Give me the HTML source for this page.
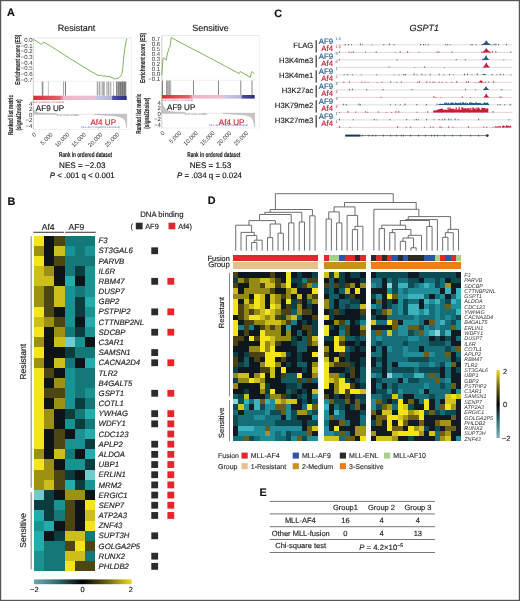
<!DOCTYPE html>
<html><head><meta charset="utf-8"><style>
html,body{margin:0;padding:0;background:#fff;}
svg{display:block;will-change:transform;filter:blur(0.3px);}
text{font-family:"Liberation Sans", sans-serif;text-rendering:geometricPrecision;}
</style></head><body>
<svg width="520" height="601" viewBox="0 0 520 601">
<rect x="0" y="0" width="520" height="601" fill="#fff"/>
<text x="76.50" y="30.60" font-size="9.0" text-anchor="middle" fill="#1a1a1a" stroke="#1a1a1a" stroke-width="0.15">Resistant</text>
<line x1="33.30" y1="38.00" x2="126.70" y2="38.00" stroke="#d8d8d8" stroke-width="0.6"/>
<line x1="33.30" y1="38.00" x2="33.30" y2="129.50" stroke="#b8b8b8" stroke-width="0.7"/>
<line x1="33.30" y1="81.30" x2="126.70" y2="81.30" stroke="#e0e0e0" stroke-width="0.5"/>
<line x1="33.30" y1="129.50" x2="126.70" y2="129.50" stroke="#e0e0e0" stroke-width="0.5"/>
<line x1="131.30" y1="38.00" x2="131.30" y2="129.50" stroke="#e2e2e2" stroke-width="0.6"/>
<line x1="126.70" y1="38.00" x2="131.30" y2="38.00" stroke="#d8d8d8" stroke-width="0.6"/>
<line x1="126.70" y1="129.50" x2="131.30" y2="129.50" stroke="#e0e0e0" stroke-width="0.5"/>
<text x="32.60" y="41.80" font-size="5.99" text-anchor="end" fill="#333">0.0</text>
<text x="32.60" y="47.50" font-size="5.99" text-anchor="end" fill="#333">&#8722;0.1</text>
<text x="32.60" y="53.20" font-size="5.99" text-anchor="end" fill="#333">&#8722;0.2</text>
<text x="32.60" y="58.90" font-size="5.99" text-anchor="end" fill="#333">&#8722;0.3</text>
<text x="32.60" y="64.60" font-size="5.99" text-anchor="end" fill="#333">&#8722;0.4</text>
<text x="32.60" y="70.30" font-size="5.99" text-anchor="end" fill="#333">&#8722;0.5</text>
<text x="32.60" y="76.00" font-size="5.99" text-anchor="end" fill="#333">&#8722;0.6</text>
<text x="32.60" y="81.80" font-size="5.99" text-anchor="end" fill="#333">&#8722;0.7</text>
<text x="19.80" y="59.65" font-size="7.0" text-anchor="middle" font-weight="bold" fill="#222" stroke="#222" stroke-width="0.15" textLength="50" lengthAdjust="spacingAndGlyphs" transform="rotate(-90 19.80 59.65)">Enrichment score (ES)</text>
<polyline points="33.50,39.50 36.00,40.90 39.00,42.80 41.40,44.40 42.50,43.20 43.50,42.10 46.00,43.40 51.50,46.60 65.00,55.40 80.00,64.70 90.00,70.90 96.20,74.30 98.00,75.20 100.00,75.60 101.50,75.20 103.20,76.30 105.00,75.80 107.00,76.60 109.00,76.40 111.00,77.30 112.50,77.80 114.00,78.60 115.00,79.10 116.50,78.60 118.00,78.40 119.20,77.40 120.50,76.30 121.50,74.80 122.20,72.80 122.80,68.00 123.20,63.00 123.60,58.00 124.50,51.00 125.50,44.50 126.20,41.00 126.80,38.60" fill="none" stroke="#5da132" stroke-width="0.8"/>
<line x1="42.30" y1="81.60" x2="42.30" y2="95.70" stroke="#555" stroke-width="0.7"/>
<line x1="42.90" y1="81.60" x2="42.90" y2="95.70" stroke="#777" stroke-width="0.7"/>
<line x1="48.40" y1="81.60" x2="48.40" y2="95.70" stroke="#aaa" stroke-width="0.7"/>
<line x1="63.60" y1="81.60" x2="63.60" y2="95.70" stroke="#777" stroke-width="0.7"/>
<line x1="65.50" y1="81.60" x2="65.50" y2="95.70" stroke="#444" stroke-width="0.7"/>
<line x1="97.30" y1="81.60" x2="97.30" y2="95.70" stroke="#666" stroke-width="0.7"/>
<line x1="99.20" y1="81.60" x2="99.20" y2="95.70" stroke="#555" stroke-width="0.7"/>
<line x1="101.00" y1="81.60" x2="101.00" y2="95.70" stroke="#999" stroke-width="0.7"/>
<line x1="103.00" y1="81.60" x2="103.00" y2="95.70" stroke="#333" stroke-width="0.7"/>
<line x1="104.20" y1="81.60" x2="104.20" y2="95.70" stroke="#777" stroke-width="0.7"/>
<line x1="107.00" y1="81.60" x2="107.00" y2="95.70" stroke="#666" stroke-width="0.7"/>
<line x1="108.80" y1="81.60" x2="108.80" y2="95.70" stroke="#555" stroke-width="0.7"/>
<line x1="110.80" y1="81.60" x2="110.80" y2="95.70" stroke="#777" stroke-width="0.7"/>
<line x1="113.50" y1="81.60" x2="113.50" y2="95.70" stroke="#aaa" stroke-width="0.7"/>
<line x1="116.50" y1="81.60" x2="116.50" y2="95.70" stroke="#555" stroke-width="0.7"/>
<line x1="117.60" y1="81.60" x2="117.60" y2="95.70" stroke="#777" stroke-width="0.7"/>
<line x1="118.60" y1="81.60" x2="118.60" y2="95.70" stroke="#444" stroke-width="0.7"/>
<line x1="119.40" y1="81.60" x2="119.40" y2="95.70" stroke="#666" stroke-width="0.7"/>
<line x1="120.40" y1="81.60" x2="120.40" y2="95.70" stroke="#333" stroke-width="0.7"/>
<line x1="121.30" y1="81.60" x2="121.30" y2="95.70" stroke="#555" stroke-width="0.7"/>
<line x1="122.30" y1="81.60" x2="122.30" y2="95.70" stroke="#222" stroke-width="0.7"/>
<line x1="123.10" y1="81.60" x2="123.10" y2="95.70" stroke="#444" stroke-width="0.7"/>
<line x1="124.20" y1="81.60" x2="124.20" y2="95.70" stroke="#222" stroke-width="0.7"/>
<line x1="125.00" y1="81.60" x2="125.00" y2="95.70" stroke="#333" stroke-width="0.7"/>
<line x1="125.80" y1="81.60" x2="125.80" y2="95.70" stroke="#555" stroke-width="0.7"/>
<defs><linearGradient id="cb33" x1="0" x2="1" y1="0" y2="0"><stop offset="0" stop-color="#dc2a3a"/><stop offset="0.279" stop-color="#e4606a"/><stop offset="0.310" stop-color="#e88a9a"/><stop offset="0.320" stop-color="#f0b4c8"/><stop offset="0.660" stop-color="#ecc0d4"/><stop offset="0.670" stop-color="#c8c8e4"/><stop offset="0.840" stop-color="#b4b4da"/><stop offset="0.850" stop-color="#5050a0"/><stop offset="1" stop-color="#2a2a80"/></linearGradient></defs>
<rect x="33.30" y="95.70" width="93.40" height="4.30" fill="url(#cb33)"/>
<line x1="33.30" y1="114.30" x2="126.70" y2="114.30" stroke="#cfcfcf" stroke-width="0.5"/>
<polygon points="33.30,114.30 33.30,107.50 34.00,109.80 35.50,111.60 38.00,112.70 44.00,113.20 50.00,113.40 56.50,113.60 57.00,114.30 57.00,114.30" fill="#c4c4c4" stroke="#a8a8a8" stroke-width="0.4"/>
<polygon points="94.40,114.30 94.40,114.30 100.00,114.90 110.00,115.50 116.00,116.10 120.00,116.90 122.50,117.90 124.50,119.50 125.60,122.00 126.30,125.00 126.70,127.90 126.70,114.30" fill="#c4c4c4" stroke="#a8a8a8" stroke-width="0.4"/>
<text x="32.40" y="105.90" font-size="5.99" text-anchor="end" fill="#2a2a2a">4</text>
<text x="32.40" y="111.30" font-size="5.99" text-anchor="end" fill="#2a2a2a">2</text>
<text x="32.40" y="116.70" font-size="5.99" text-anchor="end" fill="#2a2a2a">0</text>
<text x="32.40" y="122.10" font-size="5.99" text-anchor="end" fill="#2a2a2a">&#8722;2</text>
<text x="32.40" y="127.50" font-size="5.99" text-anchor="end" fill="#2a2a2a">&#8722;4</text>
<text x="35.80" y="110.50" font-size="8.1" text-anchor="start" fill="#1a1a1a" stroke="#1a1a1a" stroke-width="0.15">AF9 UP</text>
<text x="90.40" y="124.90" font-size="8.1" text-anchor="start" fill="#d41f2e" stroke="#d41f2e" stroke-width="0.15">Af4 UP</text>
<text x="36.50" y="134.90" font-size="5.8" text-anchor="end" fill="#333" transform="rotate(-45 36.50 134.90)">0</text>
<text x="53.10" y="134.90" font-size="5.8" text-anchor="end" fill="#333" transform="rotate(-45 53.10 134.90)">5,000</text>
<text x="69.70" y="134.90" font-size="5.8" text-anchor="end" fill="#333" transform="rotate(-45 69.70 134.90)">10,000</text>
<text x="86.30" y="134.90" font-size="5.8" text-anchor="end" fill="#333" transform="rotate(-45 86.30 134.90)">15,000</text>
<text x="102.90" y="134.90" font-size="5.8" text-anchor="end" fill="#333" transform="rotate(-45 102.90 134.90)">20,000</text>
<text x="119.50" y="134.90" font-size="5.8" text-anchor="end" fill="#333" transform="rotate(-45 119.50 134.90)">25,000</text>
<text x="12.90" y="115.00" font-size="7.0" text-anchor="middle" font-weight="bold" fill="#222" stroke="#222" stroke-width="0.15" textLength="40" lengthAdjust="spacingAndGlyphs" transform="rotate(-90 12.90 115.00)">Ranked list metric</text>
<text x="20.80" y="115.00" font-size="7.0" text-anchor="middle" font-weight="bold" fill="#222" stroke="#222" stroke-width="0.15" textLength="31" lengthAdjust="spacingAndGlyphs" transform="rotate(-90 20.80 115.00)">(signal2noise)</text>
<text x="85.60" y="156.90" font-size="7.0" text-anchor="middle" font-weight="bold" fill="#222" stroke="#222" stroke-width="0.15" textLength="53" lengthAdjust="spacingAndGlyphs">Rank in ordered dataset</text>
<text x="82.30" y="168.10" font-size="8.1" text-anchor="middle" fill="#111" stroke="#111" stroke-width="0.15">NES = &#8722;2.03</text>
<text x="82.20" y="177.60" font-size="7.9" text-anchor="middle" fill="#111" stroke="#111" stroke-width="0.15"><tspan font-style="italic">P</tspan> &lt; .001 q &lt; 0.001</text>
<text x="210.50" y="30.60" font-size="9.0" text-anchor="middle" fill="#1a1a1a" stroke="#1a1a1a" stroke-width="0.15">Sensitive</text>
<line x1="161.80" y1="35.60" x2="254.70" y2="35.60" stroke="#d8d8d8" stroke-width="0.6"/>
<line x1="161.80" y1="35.60" x2="161.80" y2="128.00" stroke="#b8b8b8" stroke-width="0.7"/>
<line x1="161.80" y1="80.30" x2="254.70" y2="80.30" stroke="#e0e0e0" stroke-width="0.5"/>
<line x1="161.80" y1="128.00" x2="254.70" y2="128.00" stroke="#e0e0e0" stroke-width="0.5"/>
<line x1="259.30" y1="35.60" x2="259.30" y2="128.00" stroke="#e2e2e2" stroke-width="0.6"/>
<line x1="254.70" y1="35.60" x2="259.30" y2="35.60" stroke="#d8d8d8" stroke-width="0.6"/>
<line x1="254.70" y1="128.00" x2="259.30" y2="128.00" stroke="#e0e0e0" stroke-width="0.5"/>
<text x="160.20" y="41.00" font-size="5.99" text-anchor="end" fill="#333">0.7</text>
<text x="160.20" y="46.00" font-size="5.99" text-anchor="end" fill="#333">0.6</text>
<text x="160.20" y="51.10" font-size="5.99" text-anchor="end" fill="#333">0.5</text>
<text x="160.20" y="56.10" font-size="5.99" text-anchor="end" fill="#333">0.4</text>
<text x="160.20" y="61.10" font-size="5.99" text-anchor="end" fill="#333">0.3</text>
<text x="160.20" y="66.10" font-size="5.99" text-anchor="end" fill="#333">0.2</text>
<text x="160.20" y="71.10" font-size="5.99" text-anchor="end" fill="#333">0.1</text>
<text x="160.20" y="76.10" font-size="5.99" text-anchor="end" fill="#333">0.0</text>
<text x="160.20" y="81.20" font-size="5.99" text-anchor="end" fill="#333">&#8722;0.1</text>
<text x="144.90" y="57.95" font-size="7.0" text-anchor="middle" font-weight="bold" fill="#222" stroke="#222" stroke-width="0.15" textLength="50" lengthAdjust="spacingAndGlyphs" transform="rotate(-90 144.90 57.95)">Enrichment score (ES)</text>
<polyline points="161.80,75.20 162.30,68.00 162.90,59.00 163.50,57.80 164.80,58.80 166.30,60.20 166.90,56.00 167.60,53.00 168.20,51.00 168.80,48.60 169.80,47.40 170.40,44.00 171.20,37.60 190.00,47.60 210.00,58.00 225.00,66.00 239.20,73.60 240.20,71.40 241.00,72.00 250.30,77.30 251.20,73.50 252.00,71.50 253.00,72.60 254.70,73.80" fill="none" stroke="#5da132" stroke-width="0.8"/>
<line x1="162.40" y1="80.60" x2="162.40" y2="95.00" stroke="#444" stroke-width="0.7"/>
<line x1="166.50" y1="80.60" x2="166.50" y2="95.00" stroke="#777" stroke-width="0.7"/>
<line x1="167.70" y1="80.60" x2="167.70" y2="95.00" stroke="#666" stroke-width="0.7"/>
<line x1="168.50" y1="80.60" x2="168.50" y2="95.00" stroke="#999" stroke-width="0.7"/>
<line x1="169.50" y1="80.60" x2="169.50" y2="95.00" stroke="#777" stroke-width="0.7"/>
<line x1="170.70" y1="80.60" x2="170.70" y2="95.00" stroke="#888" stroke-width="0.7"/>
<line x1="193.50" y1="80.60" x2="193.50" y2="95.00" stroke="#555" stroke-width="0.7"/>
<line x1="218.50" y1="80.60" x2="218.50" y2="95.00" stroke="#555" stroke-width="0.7"/>
<line x1="240.80" y1="80.60" x2="240.80" y2="95.00" stroke="#555" stroke-width="0.7"/>
<line x1="252.00" y1="80.60" x2="252.00" y2="95.00" stroke="#555" stroke-width="0.7"/>
<defs><linearGradient id="cb161" x1="0" x2="1" y1="0" y2="0"><stop offset="0" stop-color="#dc2a3a"/><stop offset="0.288" stop-color="#e4606a"/><stop offset="0.320" stop-color="#e88a9a"/><stop offset="0.330" stop-color="#f0b4c8"/><stop offset="0.670" stop-color="#ecc0d4"/><stop offset="0.680" stop-color="#c8c8e4"/><stop offset="0.855" stop-color="#b4b4da"/><stop offset="0.865" stop-color="#5050a0"/><stop offset="1" stop-color="#2a2a80"/></linearGradient></defs>
<rect x="161.80" y="95.00" width="92.90" height="3.60" fill="url(#cb161)"/>
<line x1="161.80" y1="113.30" x2="254.70" y2="113.30" stroke="#cfcfcf" stroke-width="0.5"/>
<polygon points="161.80,113.30 161.80,100.80 162.50,104.00 164.00,107.20 166.00,109.50 169.00,111.20 174.00,111.90 180.00,112.20 185.00,112.40 185.50,113.30 185.50,113.30" fill="#c4c4c4" stroke="#a8a8a8" stroke-width="0.4"/>
<polygon points="223.00,113.30 223.00,113.30 230.00,113.90 238.00,114.50 245.00,115.10 249.00,116.00 251.50,117.50 253.00,120.00 254.00,123.50 254.70,127.20 254.70,113.30" fill="#c4c4c4" stroke="#a8a8a8" stroke-width="0.4"/>
<text x="160.90" y="104.90" font-size="5.99" text-anchor="end" fill="#2a2a2a">4</text>
<text x="160.90" y="110.30" font-size="5.99" text-anchor="end" fill="#2a2a2a">2</text>
<text x="160.90" y="115.70" font-size="5.99" text-anchor="end" fill="#2a2a2a">0</text>
<text x="160.90" y="121.10" font-size="5.99" text-anchor="end" fill="#2a2a2a">&#8722;2</text>
<text x="160.90" y="126.50" font-size="5.99" text-anchor="end" fill="#2a2a2a">&#8722;4</text>
<text x="167.00" y="110.40" font-size="8.1" text-anchor="start" fill="#1a1a1a" stroke="#1a1a1a" stroke-width="0.15">AF9 UP</text>
<text x="218.80" y="124.90" font-size="8.1" text-anchor="start" fill="#d41f2e" stroke="#d41f2e" stroke-width="0.15">Af4 UP</text>
<text x="165.00" y="133.40" font-size="5.8" text-anchor="end" fill="#333" transform="rotate(-45 165.00 133.40)">0</text>
<text x="181.70" y="133.40" font-size="5.8" text-anchor="end" fill="#333" transform="rotate(-45 181.70 133.40)">5,000</text>
<text x="198.40" y="133.40" font-size="5.8" text-anchor="end" fill="#333" transform="rotate(-45 198.40 133.40)">10,000</text>
<text x="215.10" y="133.40" font-size="5.8" text-anchor="end" fill="#333" transform="rotate(-45 215.10 133.40)">15,000</text>
<text x="231.80" y="133.40" font-size="5.8" text-anchor="end" fill="#333" transform="rotate(-45 231.80 133.40)">20,000</text>
<text x="248.50" y="133.40" font-size="5.8" text-anchor="end" fill="#333" transform="rotate(-45 248.50 133.40)">25,000</text>
<text x="141.00" y="113.70" font-size="7.0" text-anchor="middle" font-weight="bold" fill="#222" stroke="#222" stroke-width="0.15" textLength="40" lengthAdjust="spacingAndGlyphs" transform="rotate(-90 141.00 113.70)">Ranked list metric</text>
<text x="149.40" y="113.20" font-size="7.0" text-anchor="middle" font-weight="bold" fill="#222" stroke="#222" stroke-width="0.15" textLength="31" lengthAdjust="spacingAndGlyphs" transform="rotate(-90 149.40 113.20)">(signal2noise)</text>
<text x="213.80" y="156.90" font-size="7.0" text-anchor="middle" font-weight="bold" fill="#222" stroke="#222" stroke-width="0.15" textLength="53" lengthAdjust="spacingAndGlyphs">Rank in ordered dataset</text>
<text x="210.50" y="168.10" font-size="8.1" text-anchor="middle" fill="#111" stroke="#111" stroke-width="0.15">NES = 1.53</text>
<text x="209.50" y="177.60" font-size="7.9" text-anchor="middle" fill="#111" stroke="#111" stroke-width="0.15"><tspan font-style="italic">P</tspan> = .034 q = 0.024</text>
<text x="68.00" y="115.60" font-size="2.7" text-anchor="middle" fill="#808080">Zero cross at 9996</text>
<text x="100.50" y="127.60" font-size="2.7" text-anchor="middle" fill="#5565b5">'MLL-AF4' (negatively correlated)</text>
<text x="48.00" y="102.60" font-size="2.7" text-anchor="middle" fill="#d04858">'AF9' (positively correlated)</text>
<text x="196.00" y="114.60" font-size="2.7" text-anchor="middle" fill="#808080">Zero cross at 9996</text>
<text x="228.50" y="126.40" font-size="2.7" text-anchor="middle" fill="#5565b5">'MLL-AF4' (negatively correlated)</text>
<text x="177.00" y="101.20" font-size="2.7" text-anchor="middle" fill="#d04858">'AF9' (positively correlated)</text>
<text x="7.00" y="16.40" font-size="10.8" text-anchor="start" font-weight="bold" fill="#111" stroke="#111" stroke-width="0.15">A</text>
<text x="274.30" y="17.00" font-size="10.8" text-anchor="start" font-weight="bold" fill="#111" stroke="#111" stroke-width="0.15">C</text>
<text x="424.20" y="30.60" font-size="9.0" text-anchor="middle" font-style="italic" fill="#222" stroke="#222" stroke-width="0.15">GSPT1</text>
<text x="313.30" y="48.05" font-size="7.7" text-anchor="end" fill="#222" stroke="#222" stroke-width="0.15">FLAG</text>
<line x1="316.20" y1="40.30" x2="316.20" y2="52.60" stroke="#444" stroke-width="1.3"/>
<text x="333.00" y="43.80" font-size="7.8" text-anchor="end" fill="#24598a" stroke="#24598a" stroke-width="0.15">AF9</text>
<text x="333.00" y="51.30" font-size="7.8" text-anchor="end" fill="#cc1a36" stroke="#cc1a36" stroke-width="0.15">Af4</text>
<text x="335.60" y="40.00" font-size="3.8" text-anchor="start" fill="#24598a">1.5</text>
<text x="335.60" y="47.50" font-size="3.8" text-anchor="start" fill="#cc1a36">1.5</text>
<line x1="336.00" y1="44.90" x2="512.50" y2="44.90" stroke="#cbcbcb" stroke-width="0.7"/>
<path d="M344.7 45.2h1v-1.2h-1zM347.9 45.2h1v-1.1h-1zM351.0 45.2h1v-0.9h-1zM359.9 45.2h1v-1.6h-1zM362.0 45.2h1v-0.8h-1zM371.3 45.2h1v-0.8h-1zM383.3 45.2h1v-1.3h-1zM388.8 45.2h1v-1.7h-1zM393.5 45.2h1v-1.2h-1zM420.1 45.2h1v-1.1h-1zM423.0 45.2h1v-1.2h-1zM424.8 45.2h1v-0.8h-1zM427.8 45.2h1v-0.9h-1zM445.2 45.2h1v-0.9h-1zM447.2 45.2h1v-1.2h-1zM449.9 45.2h1v-0.7h-1zM470.5 45.2h1v-1.3h-1zM472.1 45.2h1v-0.9h-1zM475.6 45.2h1v-0.9h-1zM481.5 45.2h1v-1.0h-1zM491.4 45.2h1v-0.8h-1zM493.6 45.2h1v-1.5h-1zM495.4 45.2h1v-1.7h-1zM498.0 45.2h1v-1.2h-1zM505.9 45.2h1v-1.1h-1z" fill="#2e4460" opacity="0.8"/>
<line x1="336.00" y1="52.40" x2="512.50" y2="52.40" stroke="#dcc4c8" stroke-width="0.7"/>
<path d="M339.0 52.7h1v-1.5h-1zM348.6 52.7h1v-1.2h-1zM350.8 52.7h1v-0.7h-1zM352.8 52.7h1v-1.4h-1zM365.0 52.7h1v-0.9h-1zM375.7 52.7h1v-1.4h-1zM394.8 52.7h1v-0.8h-1zM399.7 52.7h1v-1.5h-1zM407.1 52.7h1v-1.7h-1zM418.4 52.7h1v-1.0h-1zM436.5 52.7h1v-1.1h-1zM438.3 52.7h1v-1.5h-1zM451.6 52.7h1v-1.5h-1zM481.3 52.7h1v-1.1h-1zM483.0 52.7h1v-0.8h-1zM489.1 52.7h1v-1.4h-1zM491.9 52.7h1v-1.6h-1zM495.3 52.7h1v-1.7h-1zM510.3 52.7h1v-1.3h-1z" fill="#a8303c" opacity="0.8"/>
<path d="M481.30,44.90 Q484.80,43.52 486.30,40.30 Q487.80,43.52 491.30,44.90 Z" fill="#24598a"/>
<path d="M481.30,52.40 Q484.80,51.08 486.30,48.00 Q487.80,51.08 491.30,52.40 Z" fill="#cc1a36"/>
<text x="313.30" y="63.05" font-size="7.7" text-anchor="end" fill="#222" stroke="#222" stroke-width="0.15">H3K4me3</text>
<line x1="316.20" y1="55.30" x2="316.20" y2="67.60" stroke="#444" stroke-width="1.3"/>
<text x="333.00" y="58.80" font-size="7.8" text-anchor="end" fill="#24598a" stroke="#24598a" stroke-width="0.15">AF9</text>
<text x="333.00" y="66.30" font-size="7.8" text-anchor="end" fill="#cc1a36" stroke="#cc1a36" stroke-width="0.15">Af4</text>
<text x="335.60" y="55.00" font-size="3.8" text-anchor="start" fill="#24598a">9</text>
<text x="335.60" y="62.50" font-size="3.8" text-anchor="start" fill="#cc1a36">9</text>
<line x1="336.00" y1="59.90" x2="512.50" y2="59.90" stroke="#cbcbcb" stroke-width="0.7"/>
<path d="M339.0 60.2h1v-1.0h-1zM396.7 60.2h1v-1.0h-1zM455.7 60.2h1v-1.1h-1zM464.8 60.2h1v-1.0h-1zM482.2 60.2h1v-1.5h-1zM503.3 60.2h1v-0.8h-1z" fill="#2e4460" opacity="0.8"/>
<line x1="336.00" y1="67.40" x2="512.50" y2="67.40" stroke="#dcc4c8" stroke-width="0.7"/>
<path d="M388.7 67.7h1v-1.2h-1zM414.1 67.7h1v-0.7h-1zM424.1 67.7h1v-1.5h-1zM443.9 67.7h1v-0.8h-1z" fill="#a8303c" opacity="0.8"/>
<path d="M482.50,59.90 Q484.95,58.46 486.00,55.10 Q487.05,58.46 489.50,59.90 Z" fill="#24598a"/>
<path d="M482.55,67.40 Q485.18,65.84 486.30,62.20 Q487.43,65.84 490.05,67.40 Z" fill="#cc1a36"/>
<text x="313.30" y="78.05" font-size="7.7" text-anchor="end" fill="#222" stroke="#222" stroke-width="0.15">H3K4me1</text>
<line x1="316.20" y1="70.30" x2="316.20" y2="82.60" stroke="#444" stroke-width="1.3"/>
<text x="333.00" y="73.80" font-size="7.8" text-anchor="end" fill="#24598a" stroke="#24598a" stroke-width="0.15">AF9</text>
<text x="333.00" y="81.30" font-size="7.8" text-anchor="end" fill="#cc1a36" stroke="#cc1a36" stroke-width="0.15">Af4</text>
<text x="335.60" y="70.00" font-size="3.8" text-anchor="start" fill="#24598a">1</text>
<text x="335.60" y="77.50" font-size="3.8" text-anchor="start" fill="#cc1a36">1</text>
<line x1="336.00" y1="74.90" x2="512.50" y2="74.90" stroke="#cbcbcb" stroke-width="0.7"/>
<path d="M343.7 75.2h1v-1.0h-1zM347.2 75.2h1v-1.2h-1zM351.9 75.2h1v-0.9h-1zM360.8 75.2h1v-0.7h-1zM376.2 75.2h1v-0.9h-1zM393.7 75.2h1v-0.8h-1zM398.6 75.2h1v-0.8h-1zM403.4 75.2h1v-1.3h-1zM405.0 75.2h1v-1.2h-1zM413.6 75.2h1v-1.7h-1zM416.5 75.2h1v-0.7h-1zM421.4 75.2h1v-1.4h-1zM424.7 75.2h1v-0.7h-1zM429.7 75.2h1v-1.5h-1zM438.7 75.2h1v-1.5h-1zM443.3 75.2h1v-0.9h-1zM449.0 75.2h1v-1.1h-1zM452.7 75.2h1v-0.8h-1zM463.9 75.2h1v-1.6h-1zM466.9 75.2h1v-1.4h-1zM471.4 75.2h1v-0.7h-1zM476.8 75.2h1v-1.7h-1zM484.3 75.2h1v-1.2h-1zM491.7 75.2h1v-1.1h-1zM496.4 75.2h1v-0.8h-1zM499.7 75.2h1v-1.4h-1zM503.0 75.2h1v-1.0h-1zM510.6 75.2h1v-0.7h-1z" fill="#2e4460" opacity="0.8"/>
<line x1="336.00" y1="82.40" x2="512.50" y2="82.40" stroke="#dcc4c8" stroke-width="0.7"/>
<path d="M343.3 82.7h1v-1.2h-1zM349.0 82.7h1v-1.1h-1zM361.5 82.7h1v-1.1h-1zM364.6 82.7h1v-0.9h-1zM367.6 82.7h1v-0.8h-1zM376.6 82.7h1v-0.8h-1zM381.5 82.7h1v-1.1h-1zM390.1 82.7h1v-1.5h-1zM396.3 82.7h1v-0.9h-1zM400.8 82.7h1v-1.1h-1zM417.2 82.7h1v-1.0h-1zM418.9 82.7h1v-1.7h-1zM426.2 82.7h1v-1.5h-1zM429.6 82.7h1v-1.3h-1zM432.4 82.7h1v-1.1h-1zM434.2 82.7h1v-1.0h-1zM438.8 82.7h1v-1.0h-1zM441.6 82.7h1v-1.0h-1zM446.1 82.7h1v-0.8h-1zM451.2 82.7h1v-0.9h-1zM456.2 82.7h1v-1.7h-1zM465.9 82.7h1v-1.4h-1zM467.9 82.7h1v-1.6h-1zM474.9 82.7h1v-0.7h-1zM480.9 82.7h1v-1.3h-1zM484.9 82.7h1v-1.2h-1zM488.2 82.7h1v-1.2h-1zM493.2 82.7h1v-1.6h-1z" fill="#a8303c" opacity="0.8"/>
<path d="M477.50,82.40 Q479.95,81.68 481.00,80.00 Q482.05,81.68 484.50,82.40 Z" fill="#cc1a36"/>
<path d="M481.00,74.90 Q483.10,74.54 484.00,73.70 Q484.90,74.54 487.00,74.90 Z" fill="#24598a"/>
<text x="313.30" y="93.05" font-size="7.7" text-anchor="end" fill="#222" stroke="#222" stroke-width="0.15">H3K27ac</text>
<line x1="316.20" y1="85.30" x2="316.20" y2="97.60" stroke="#444" stroke-width="1.3"/>
<text x="333.00" y="88.80" font-size="7.8" text-anchor="end" fill="#24598a" stroke="#24598a" stroke-width="0.15">AF9</text>
<text x="333.00" y="96.30" font-size="7.8" text-anchor="end" fill="#cc1a36" stroke="#cc1a36" stroke-width="0.15">Af4</text>
<text x="335.60" y="85.00" font-size="3.8" text-anchor="start" fill="#24598a">2</text>
<text x="335.60" y="92.50" font-size="3.8" text-anchor="start" fill="#cc1a36">2</text>
<line x1="336.00" y1="89.90" x2="512.50" y2="89.90" stroke="#cbcbcb" stroke-width="0.7"/>
<path d="M348.9 90.2h1v-1.3h-1zM351.9 90.2h1v-1.5h-1zM366.2 90.2h1v-1.3h-1zM382.5 90.2h1v-1.3h-1zM411.6 90.2h1v-1.1h-1zM465.1 90.2h1v-1.5h-1zM474.9 90.2h1v-0.8h-1zM484.7 90.2h1v-0.7h-1zM501.3 90.2h1v-1.3h-1z" fill="#2e4460" opacity="0.8"/>
<line x1="336.00" y1="97.40" x2="512.50" y2="97.40" stroke="#dcc4c8" stroke-width="0.7"/>
<path d="M380.5 97.7h1v-1.0h-1zM433.4 97.7h1v-1.6h-1zM435.2 97.7h1v-0.8h-1zM440.4 97.7h1v-0.7h-1zM461.6 97.7h1v-1.5h-1zM469.9 97.7h1v-0.8h-1zM499.5 97.7h1v-1.5h-1zM501.3 97.7h1v-0.9h-1z" fill="#a8303c" opacity="0.8"/>
<path d="M482.75,89.90 Q485.02,88.76 486.00,86.10 Q486.98,88.76 489.25,89.90 Z" fill="#24598a"/>
<path d="M483.05,97.40 Q485.32,96.14 486.30,93.20 Q487.28,96.14 489.55,97.40 Z" fill="#cc1a36"/>
<text x="313.30" y="108.05" font-size="7.7" text-anchor="end" fill="#222" stroke="#222" stroke-width="0.15">H3K79me2</text>
<line x1="316.20" y1="100.30" x2="316.20" y2="112.60" stroke="#444" stroke-width="1.3"/>
<text x="333.00" y="103.80" font-size="7.8" text-anchor="end" fill="#24598a" stroke="#24598a" stroke-width="0.15">AF9</text>
<text x="333.00" y="111.30" font-size="7.8" text-anchor="end" fill="#cc1a36" stroke="#cc1a36" stroke-width="0.15">Af4</text>
<text x="335.60" y="100.00" font-size="3.8" text-anchor="start" fill="#24598a">2</text>
<text x="335.60" y="107.50" font-size="3.8" text-anchor="start" fill="#cc1a36">2</text>
<line x1="336.00" y1="104.90" x2="512.50" y2="104.90" stroke="#cbcbcb" stroke-width="0.7"/>
<path d="M343.1 105.2h1v-1.4h-1zM345.6 105.2h1v-1.3h-1zM358.5 105.2h1v-1.6h-1zM360.0 105.2h1v-1.0h-1zM389.9 105.2h1v-0.9h-1zM395.2 105.2h1v-0.9h-1zM399.7 105.2h1v-1.0h-1zM404.5 105.2h1v-1.7h-1zM416.3 105.2h1v-1.1h-1zM425.9 105.2h1v-1.3h-1zM436.5 105.2h1v-1.4h-1zM450.7 105.2h1v-1.1h-1zM456.5 105.2h1v-1.1h-1zM464.6 105.2h1v-1.4h-1zM497.3 105.2h1v-1.0h-1zM499.6 105.2h1v-1.1h-1zM504.2 105.2h1v-0.9h-1zM509.7 105.2h1v-1.5h-1z" fill="#2e4460" opacity="0.8"/>
<line x1="336.00" y1="112.40" x2="512.50" y2="112.40" stroke="#dcc4c8" stroke-width="0.7"/>
<path d="M339.0 112.7h1v-0.8h-1zM347.4 112.7h1v-1.7h-1zM355.2 112.7h1v-1.2h-1zM365.1 112.7h1v-1.4h-1zM367.2 112.7h1v-1.0h-1zM377.8 112.7h1v-1.5h-1zM385.7 112.7h1v-0.7h-1zM391.1 112.7h1v-0.8h-1zM395.3 112.7h1v-1.6h-1zM398.3 112.7h1v-1.6h-1zM416.4 112.7h1v-0.9h-1zM427.3 112.7h1v-1.5h-1zM438.3 112.7h1v-1.3h-1zM441.0 112.7h1v-1.3h-1zM451.9 112.7h1v-1.4h-1zM463.3 112.7h1v-1.1h-1zM468.8 112.7h1v-1.5h-1zM481.8 112.7h1v-1.3h-1zM492.6 112.7h1v-1.6h-1z" fill="#a8303c" opacity="0.8"/>
<path d="M438.0 104.9h1.2v-0.4h-1.2zM439.0 104.9h1.2v-0.9h-1.2zM439.7 104.9h1.2v-1.1h-1.2zM440.5 104.9h1.2v-0.9h-1.2zM441.3 104.9h1.2v-1.1h-1.2zM442.2 104.9h1.2v-0.9h-1.2zM443.0 104.9h1.2v-1.0h-1.2zM444.0 104.9h1.2v-2.1h-1.2zM444.8 104.9h1.2v-1.5h-1.2zM445.6 104.9h1.2v-2.5h-1.2zM446.4 104.9h1.2v-1.3h-1.2zM447.3 104.9h1.2v-1.4h-1.2zM447.8 104.9h1.2v-2.1h-1.2zM448.4 104.9h1.2v-1.3h-1.2zM449.4 104.9h1.2v-1.2h-1.2zM450.3 104.9h1.2v-2.2h-1.2zM450.9 104.9h1.2v-2.3h-1.2zM451.9 104.9h1.2v-2.2h-1.2zM452.4 104.9h1.2v-2.2h-1.2zM453.2 104.9h1.2v-1.5h-1.2zM454.3 104.9h1.2v-1.2h-1.2zM454.8 104.9h1.2v-2.3h-1.2zM455.3 104.9h1.2v-2.2h-1.2zM455.9 104.9h1.2v-1.9h-1.2zM456.5 104.9h1.2v-2.0h-1.2zM457.2 104.9h1.2v-1.4h-1.2zM458.2 104.9h1.2v-2.1h-1.2zM459.1 104.9h1.2v-1.7h-1.2zM460.0 104.9h1.2v-2.3h-1.2zM460.9 104.9h1.2v-1.3h-1.2zM462.0 104.9h1.2v-2.4h-1.2zM462.7 104.9h1.2v-2.6h-1.2zM463.7 104.9h1.2v-1.6h-1.2zM464.4 104.9h1.2v-1.7h-1.2zM465.3 104.9h1.2v-2.5h-1.2zM466.3 104.9h1.2v-1.2h-1.2zM467.0 104.9h1.2v-2.0h-1.2zM468.0 104.9h1.2v-1.2h-1.2zM469.0 104.9h1.2v-2.4h-1.2zM469.8 104.9h1.2v-2.4h-1.2zM470.8 104.9h1.2v-2.5h-1.2zM471.5 104.9h1.2v-2.0h-1.2zM472.5 104.9h1.2v-2.2h-1.2zM473.5 104.9h1.2v-2.0h-1.2zM474.5 104.9h1.2v-1.5h-1.2zM475.1 104.9h1.2v-2.3h-1.2zM475.9 104.9h1.2v-2.3h-1.2zM476.8 104.9h1.2v-2.0h-1.2zM477.9 104.9h1.2v-1.9h-1.2zM478.7 104.9h1.2v-1.4h-1.2zM479.3 104.9h1.2v-2.2h-1.2zM480.0 104.9h1.2v-1.7h-1.2zM480.8 104.9h1.2v-1.2h-1.2zM481.9 104.9h1.2v-1.3h-1.2zM482.8 104.9h1.2v-1.4h-1.2zM483.6 104.9h1.2v-1.9h-1.2zM484.2 104.9h1.2v-2.6h-1.2zM485.2 104.9h1.2v-2.0h-1.2zM485.8 104.9h1.2v-1.8h-1.2zM486.9 104.9h1.2v-2.3h-1.2zM488.0 104.9h1.2v-1.2h-1.2z" fill="#24598a"/>
<path d="M433.0 112.4h1.2v-0.9h-1.2zM433.5 112.4h1.2v-1.8h-1.2zM434.3 112.4h1.2v-2.1h-1.2zM434.8 112.4h1.2v-1.6h-1.2zM435.4 112.4h1.2v-1.5h-1.2zM436.3 112.4h1.2v-2.7h-1.2zM437.2 112.4h1.2v-2.1h-1.2zM437.8 112.4h1.2v-3.1h-1.2zM438.4 112.4h1.2v-2.0h-1.2zM439.1 112.4h1.2v-3.4h-1.2zM440.1 112.4h1.2v-3.4h-1.2zM441.0 112.4h1.2v-4.0h-1.2zM441.6 112.4h1.2v-3.7h-1.2zM442.6 112.4h1.2v-2.8h-1.2zM443.5 112.4h1.2v-2.4h-1.2zM444.2 112.4h1.2v-2.6h-1.2zM445.0 112.4h1.2v-3.0h-1.2zM445.5 112.4h1.2v-2.4h-1.2zM446.5 112.4h1.2v-2.4h-1.2zM447.5 112.4h1.2v-5.0h-1.2zM448.6 112.4h1.2v-2.7h-1.2zM449.3 112.4h1.2v-5.0h-1.2zM450.3 112.4h1.2v-3.6h-1.2zM451.0 112.4h1.2v-3.7h-1.2zM451.9 112.4h1.2v-3.0h-1.2zM452.4 112.4h1.2v-3.9h-1.2zM453.0 112.4h1.2v-3.1h-1.2zM453.8 112.4h1.2v-3.1h-1.2zM454.8 112.4h1.2v-2.8h-1.2zM455.6 112.4h1.2v-4.9h-1.2zM456.1 112.4h1.2v-2.5h-1.2zM457.2 112.4h1.2v-2.9h-1.2zM458.0 112.4h1.2v-3.1h-1.2zM458.6 112.4h1.2v-5.2h-1.2zM459.7 112.4h1.2v-2.6h-1.2zM460.4 112.4h1.2v-2.5h-1.2zM461.3 112.4h1.2v-5.1h-1.2zM461.8 112.4h1.2v-3.3h-1.2zM462.4 112.4h1.2v-4.7h-1.2zM463.2 112.4h1.2v-3.6h-1.2zM464.3 112.4h1.2v-4.0h-1.2zM464.8 112.4h1.2v-4.5h-1.2zM465.8 112.4h1.2v-2.6h-1.2zM466.3 112.4h1.2v-3.8h-1.2zM467.0 112.4h1.2v-4.1h-1.2zM467.9 112.4h1.2v-4.0h-1.2zM468.5 112.4h1.2v-4.4h-1.2zM469.3 112.4h1.2v-2.5h-1.2zM470.3 112.4h1.2v-4.7h-1.2zM471.3 112.4h1.2v-2.4h-1.2zM472.3 112.4h1.2v-4.8h-1.2zM473.0 112.4h1.2v-4.7h-1.2zM473.7 112.4h1.2v-3.4h-1.2zM474.6 112.4h1.2v-3.8h-1.2zM475.3 112.4h1.2v-2.7h-1.2zM476.3 112.4h1.2v-4.8h-1.2zM476.9 112.4h1.2v-3.4h-1.2zM477.9 112.4h1.2v-4.8h-1.2zM479.0 112.4h1.2v-3.8h-1.2zM479.8 112.4h1.2v-2.4h-1.2zM480.9 112.4h1.2v-2.9h-1.2zM481.4 112.4h1.2v-4.7h-1.2zM481.9 112.4h1.2v-4.3h-1.2zM482.6 112.4h1.2v-4.1h-1.2zM483.4 112.4h1.2v-4.3h-1.2zM484.0 112.4h1.2v-4.4h-1.2zM484.5 112.4h1.2v-3.8h-1.2zM485.3 112.4h1.2v-2.7h-1.2zM486.0 112.4h1.2v-4.0h-1.2zM487.1 112.4h1.2v-4.0h-1.2z" fill="#cc1a36"/>
<text x="313.30" y="123.05" font-size="7.7" text-anchor="end" fill="#222" stroke="#222" stroke-width="0.15">H3K27me3</text>
<line x1="316.20" y1="115.30" x2="316.20" y2="127.60" stroke="#444" stroke-width="1.3"/>
<text x="333.00" y="118.80" font-size="7.8" text-anchor="end" fill="#24598a" stroke="#24598a" stroke-width="0.15">AF9</text>
<text x="333.00" y="126.30" font-size="7.8" text-anchor="end" fill="#cc1a36" stroke="#cc1a36" stroke-width="0.15">Af4</text>
<text x="335.60" y="115.00" font-size="3.8" text-anchor="start" fill="#24598a">1</text>
<text x="335.60" y="122.50" font-size="3.8" text-anchor="start" fill="#cc1a36">1</text>
<line x1="336.00" y1="119.90" x2="512.50" y2="119.90" stroke="#cbcbcb" stroke-width="0.7"/>
<path d="M339.0 120.2h1v-1.5h-1zM352.8 120.2h1v-1.0h-1zM373.8 120.2h1v-1.1h-1zM376.3 120.2h1v-0.8h-1zM389.5 120.2h1v-1.3h-1zM406.2 120.2h1v-1.3h-1zM414.2 120.2h1v-0.8h-1zM415.9 120.2h1v-1.1h-1zM418.0 120.2h1v-0.8h-1zM426.1 120.2h1v-1.4h-1zM433.4 120.2h1v-0.9h-1zM438.6 120.2h1v-1.1h-1zM441.8 120.2h1v-1.3h-1zM444.3 120.2h1v-1.7h-1zM448.2 120.2h1v-1.6h-1zM450.6 120.2h1v-1.1h-1zM454.7 120.2h1v-1.7h-1zM457.7 120.2h1v-1.0h-1zM478.1 120.2h1v-1.6h-1zM508.4 120.2h1v-1.0h-1z" fill="#2e4460" opacity="0.8"/>
<line x1="336.00" y1="127.40" x2="512.50" y2="127.40" stroke="#dcc4c8" stroke-width="0.7"/>
<path d="M339.0 127.7h1v-1.6h-1zM349.6 127.7h1v-0.7h-1zM397.1 127.7h1v-1.6h-1zM405.8 127.7h1v-1.0h-1zM410.2 127.7h1v-1.3h-1zM423.9 127.7h1v-1.0h-1zM430.0 127.7h1v-1.2h-1zM432.6 127.7h1v-1.3h-1zM439.5 127.7h1v-1.5h-1zM441.2 127.7h1v-0.9h-1zM448.1 127.7h1v-1.5h-1zM452.5 127.7h1v-1.0h-1zM467.9 127.7h1v-1.6h-1zM483.3 127.7h1v-1.1h-1zM486.3 127.7h1v-1.0h-1zM492.6 127.7h1v-0.9h-1zM494.8 127.7h1v-1.7h-1zM502.5 127.7h1v-1.5h-1zM504.7 127.7h1v-0.9h-1zM506.8 127.7h1v-0.7h-1z" fill="#a8303c" opacity="0.8"/>
<path d="M496.0 127.4h1.2v-0.8h-1.2zM496.6 127.4h1.2v-0.9h-1.2zM497.6 127.4h1.2v-0.7h-1.2zM498.5 127.4h1.2v-1.3h-1.2zM499.9 127.4h1.2v-1.1h-1.2zM502.0 127.4h1.2v-1.2h-1.2zM502.9 127.4h1.2v-2.0h-1.2zM503.4 127.4h1.2v-1.7h-1.2zM505.7 127.4h1.2v-1.6h-1.2zM506.2 127.4h1.2v-2.2h-1.2zM507.5 127.4h1.2v-1.6h-1.2zM508.3 127.4h1.2v-1.2h-1.2zM509.0 127.4h1.2v-1.2h-1.2zM509.9 127.4h1.2v-1.6h-1.2z" fill="#cc1a36"/>
<rect x="345.2" y="134.6" width="15.4" height="2.0" fill="#1c3557"/>
<line x1="360.60" y1="135.60" x2="487.00" y2="135.60" stroke="#3a4a62" stroke-width="0.7"/>
<rect x="362.3" y="134.8" width="0.8" height="1.6" fill="#2a4060"/>
<rect x="368.5" y="134.8" width="0.8" height="1.6" fill="#2a4060"/>
<rect x="372.3" y="134.8" width="0.8" height="1.6" fill="#2a4060"/>
<rect x="375.4" y="134.8" width="0.8" height="1.6" fill="#2a4060"/>
<rect x="383.0" y="134.8" width="0.8" height="1.6" fill="#2a4060"/>
<rect x="390.0" y="134.8" width="0.8" height="1.6" fill="#2a4060"/>
<rect x="396.0" y="134.8" width="0.8" height="1.6" fill="#2a4060"/>
<rect x="400.8" y="134.8" width="0.8" height="1.6" fill="#2a4060"/>
<rect x="403.0" y="134.8" width="0.8" height="1.6" fill="#2a4060"/>
<rect x="410.0" y="134.8" width="0.8" height="1.6" fill="#2a4060"/>
<rect x="418.0" y="134.8" width="0.8" height="1.6" fill="#2a4060"/>
<rect x="425.0" y="134.8" width="0.8" height="1.6" fill="#2a4060"/>
<rect x="431.0" y="134.8" width="0.8" height="1.6" fill="#2a4060"/>
<rect x="434.0" y="134.8" width="0.8" height="1.6" fill="#2a4060"/>
<rect x="437.0" y="134.8" width="0.8" height="1.6" fill="#2a4060"/>
<rect x="444.0" y="134.8" width="0.8" height="1.6" fill="#2a4060"/>
<rect x="452.0" y="134.8" width="0.8" height="1.6" fill="#2a4060"/>
<rect x="460.0" y="134.8" width="0.8" height="1.6" fill="#2a4060"/>
<rect x="470.0" y="134.8" width="0.8" height="1.6" fill="#2a4060"/>
<rect x="478.0" y="134.8" width="0.8" height="1.6" fill="#2a4060"/>
<circle cx="487.3" cy="135.6" r="1.4" fill="#1c3557"/>
<text x="7.40" y="204.90" font-size="10.8" text-anchor="start" font-weight="bold" fill="#111" stroke="#111" stroke-width="0.15">B</text>
<rect x="33.80" y="235.50" width="10.27" height="10.18" fill="#f3e41c" shape-rendering="crispEdges"/>
<rect x="44.07" y="235.50" width="10.27" height="10.18" fill="#0e1318" shape-rendering="crispEdges"/>
<rect x="54.33" y="235.50" width="10.27" height="10.18" fill="#4c4612" shape-rendering="crispEdges"/>
<rect x="64.60" y="235.50" width="10.27" height="10.18" fill="#147878" shape-rendering="crispEdges"/>
<rect x="74.87" y="235.50" width="10.27" height="10.18" fill="#147878" shape-rendering="crispEdges"/>
<rect x="85.13" y="235.50" width="10.27" height="10.18" fill="#147878" shape-rendering="crispEdges"/>
<rect x="33.80" y="245.68" width="10.27" height="10.18" fill="#9c9015" shape-rendering="crispEdges"/>
<rect x="44.07" y="245.68" width="10.27" height="10.18" fill="#0e1318" shape-rendering="crispEdges"/>
<rect x="54.33" y="245.68" width="10.27" height="10.18" fill="#cdbf1b" shape-rendering="crispEdges"/>
<rect x="64.60" y="245.68" width="10.27" height="10.18" fill="#199292" shape-rendering="crispEdges"/>
<rect x="74.87" y="245.68" width="10.27" height="10.18" fill="#147878" shape-rendering="crispEdges"/>
<rect x="85.13" y="245.68" width="10.27" height="10.18" fill="#199292" shape-rendering="crispEdges"/>
<rect x="33.80" y="255.86" width="10.27" height="10.18" fill="#f3e41c" shape-rendering="crispEdges"/>
<rect x="44.07" y="255.86" width="10.27" height="10.18" fill="#0e1318" shape-rendering="crispEdges"/>
<rect x="54.33" y="255.86" width="10.27" height="10.18" fill="#4c4612" shape-rendering="crispEdges"/>
<rect x="64.60" y="255.86" width="10.27" height="10.18" fill="#147878" shape-rendering="crispEdges"/>
<rect x="74.87" y="255.86" width="10.27" height="10.18" fill="#147878" shape-rendering="crispEdges"/>
<rect x="85.13" y="255.86" width="10.27" height="10.18" fill="#147878" shape-rendering="crispEdges"/>
<rect x="33.80" y="266.04" width="10.27" height="10.18" fill="#cdbf1b" shape-rendering="crispEdges"/>
<rect x="44.07" y="266.04" width="10.27" height="10.18" fill="#9c9015" shape-rendering="crispEdges"/>
<rect x="54.33" y="266.04" width="10.27" height="10.18" fill="#0e1318" shape-rendering="crispEdges"/>
<rect x="64.60" y="266.04" width="10.27" height="10.18" fill="#147878" shape-rendering="crispEdges"/>
<rect x="74.87" y="266.04" width="10.27" height="10.18" fill="#0b3c3e" shape-rendering="crispEdges"/>
<rect x="85.13" y="266.04" width="10.27" height="10.18" fill="#199292" shape-rendering="crispEdges"/>
<rect x="33.80" y="276.22" width="10.27" height="10.18" fill="#cdbf1b" shape-rendering="crispEdges"/>
<rect x="44.07" y="276.22" width="10.27" height="10.18" fill="#cdbf1b" shape-rendering="crispEdges"/>
<rect x="54.33" y="276.22" width="10.27" height="10.18" fill="#0e1318" shape-rendering="crispEdges"/>
<rect x="64.60" y="276.22" width="10.27" height="10.18" fill="#22acac" shape-rendering="crispEdges"/>
<rect x="74.87" y="276.22" width="10.27" height="10.18" fill="#0e1318" shape-rendering="crispEdges"/>
<rect x="85.13" y="276.22" width="10.27" height="10.18" fill="#199292" shape-rendering="crispEdges"/>
<rect x="33.80" y="286.40" width="10.27" height="10.18" fill="#9c9015" shape-rendering="crispEdges"/>
<rect x="44.07" y="286.40" width="10.27" height="10.18" fill="#4c4612" shape-rendering="crispEdges"/>
<rect x="54.33" y="286.40" width="10.27" height="10.18" fill="#cdbf1b" shape-rendering="crispEdges"/>
<rect x="64.60" y="286.40" width="10.27" height="10.18" fill="#199292" shape-rendering="crispEdges"/>
<rect x="74.87" y="286.40" width="10.27" height="10.18" fill="#147878" shape-rendering="crispEdges"/>
<rect x="85.13" y="286.40" width="10.27" height="10.18" fill="#199292" shape-rendering="crispEdges"/>
<rect x="33.80" y="296.58" width="10.27" height="10.18" fill="#9c9015" shape-rendering="crispEdges"/>
<rect x="44.07" y="296.58" width="10.27" height="10.18" fill="#4c4612" shape-rendering="crispEdges"/>
<rect x="54.33" y="296.58" width="10.27" height="10.18" fill="#cdbf1b" shape-rendering="crispEdges"/>
<rect x="64.60" y="296.58" width="10.27" height="10.18" fill="#199292" shape-rendering="crispEdges"/>
<rect x="74.87" y="296.58" width="10.27" height="10.18" fill="#0b3c3e" shape-rendering="crispEdges"/>
<rect x="85.13" y="296.58" width="10.27" height="10.18" fill="#22acac" shape-rendering="crispEdges"/>
<rect x="33.80" y="306.76" width="10.27" height="10.18" fill="#f3e41c" shape-rendering="crispEdges"/>
<rect x="44.07" y="306.76" width="10.27" height="10.18" fill="#4c4612" shape-rendering="crispEdges"/>
<rect x="54.33" y="306.76" width="10.27" height="10.18" fill="#0e1318" shape-rendering="crispEdges"/>
<rect x="64.60" y="306.76" width="10.27" height="10.18" fill="#199292" shape-rendering="crispEdges"/>
<rect x="74.87" y="306.76" width="10.27" height="10.18" fill="#0b3c3e" shape-rendering="crispEdges"/>
<rect x="85.13" y="306.76" width="10.27" height="10.18" fill="#199292" shape-rendering="crispEdges"/>
<rect x="33.80" y="316.94" width="10.27" height="10.18" fill="#cdbf1b" shape-rendering="crispEdges"/>
<rect x="44.07" y="316.94" width="10.27" height="10.18" fill="#9c9015" shape-rendering="crispEdges"/>
<rect x="54.33" y="316.94" width="10.27" height="10.18" fill="#4c4612" shape-rendering="crispEdges"/>
<rect x="64.60" y="316.94" width="10.27" height="10.18" fill="#199292" shape-rendering="crispEdges"/>
<rect x="74.87" y="316.94" width="10.27" height="10.18" fill="#0e1318" shape-rendering="crispEdges"/>
<rect x="85.13" y="316.94" width="10.27" height="10.18" fill="#22acac" shape-rendering="crispEdges"/>
<rect x="33.80" y="327.12" width="10.27" height="10.18" fill="#f3e41c" shape-rendering="crispEdges"/>
<rect x="44.07" y="327.12" width="10.27" height="10.18" fill="#0e1318" shape-rendering="crispEdges"/>
<rect x="54.33" y="327.12" width="10.27" height="10.18" fill="#9c9015" shape-rendering="crispEdges"/>
<rect x="64.60" y="327.12" width="10.27" height="10.18" fill="#147878" shape-rendering="crispEdges"/>
<rect x="74.87" y="327.12" width="10.27" height="10.18" fill="#0b3c3e" shape-rendering="crispEdges"/>
<rect x="85.13" y="327.12" width="10.27" height="10.18" fill="#199292" shape-rendering="crispEdges"/>
<rect x="33.80" y="337.30" width="10.27" height="10.18" fill="#9c9015" shape-rendering="crispEdges"/>
<rect x="44.07" y="337.30" width="10.27" height="10.18" fill="#0e1318" shape-rendering="crispEdges"/>
<rect x="54.33" y="337.30" width="10.27" height="10.18" fill="#cdbf1b" shape-rendering="crispEdges"/>
<rect x="64.60" y="337.30" width="10.27" height="10.18" fill="#70cccc" shape-rendering="crispEdges"/>
<rect x="74.87" y="337.30" width="10.27" height="10.18" fill="#199292" shape-rendering="crispEdges"/>
<rect x="85.13" y="337.30" width="10.27" height="10.18" fill="#0e1318" shape-rendering="crispEdges"/>
<rect x="33.80" y="347.48" width="10.27" height="10.18" fill="#f3e41c" shape-rendering="crispEdges"/>
<rect x="44.07" y="347.48" width="10.27" height="10.18" fill="#0e1318" shape-rendering="crispEdges"/>
<rect x="54.33" y="347.48" width="10.27" height="10.18" fill="#0e1318" shape-rendering="crispEdges"/>
<rect x="64.60" y="347.48" width="10.27" height="10.18" fill="#0b3c3e" shape-rendering="crispEdges"/>
<rect x="74.87" y="347.48" width="10.27" height="10.18" fill="#147878" shape-rendering="crispEdges"/>
<rect x="85.13" y="347.48" width="10.27" height="10.18" fill="#147878" shape-rendering="crispEdges"/>
<rect x="33.80" y="357.66" width="10.27" height="10.18" fill="#9c9015" shape-rendering="crispEdges"/>
<rect x="44.07" y="357.66" width="10.27" height="10.18" fill="#0e1318" shape-rendering="crispEdges"/>
<rect x="54.33" y="357.66" width="10.27" height="10.18" fill="#cdbf1b" shape-rendering="crispEdges"/>
<rect x="64.60" y="357.66" width="10.27" height="10.18" fill="#147878" shape-rendering="crispEdges"/>
<rect x="74.87" y="357.66" width="10.27" height="10.18" fill="#0e1318" shape-rendering="crispEdges"/>
<rect x="85.13" y="357.66" width="10.27" height="10.18" fill="#22acac" shape-rendering="crispEdges"/>
<rect x="33.80" y="367.84" width="10.27" height="10.18" fill="#f3e41c" shape-rendering="crispEdges"/>
<rect x="44.07" y="367.84" width="10.27" height="10.18" fill="#4c4612" shape-rendering="crispEdges"/>
<rect x="54.33" y="367.84" width="10.27" height="10.18" fill="#0e1318" shape-rendering="crispEdges"/>
<rect x="64.60" y="367.84" width="10.27" height="10.18" fill="#199292" shape-rendering="crispEdges"/>
<rect x="74.87" y="367.84" width="10.27" height="10.18" fill="#147878" shape-rendering="crispEdges"/>
<rect x="85.13" y="367.84" width="10.27" height="10.18" fill="#147878" shape-rendering="crispEdges"/>
<rect x="33.80" y="378.02" width="10.27" height="10.18" fill="#f3e41c" shape-rendering="crispEdges"/>
<rect x="44.07" y="378.02" width="10.27" height="10.18" fill="#0e1318" shape-rendering="crispEdges"/>
<rect x="54.33" y="378.02" width="10.27" height="10.18" fill="#9c9015" shape-rendering="crispEdges"/>
<rect x="64.60" y="378.02" width="10.27" height="10.18" fill="#199292" shape-rendering="crispEdges"/>
<rect x="74.87" y="378.02" width="10.27" height="10.18" fill="#147878" shape-rendering="crispEdges"/>
<rect x="85.13" y="378.02" width="10.27" height="10.18" fill="#147878" shape-rendering="crispEdges"/>
<rect x="33.80" y="388.20" width="10.27" height="10.18" fill="#f3e41c" shape-rendering="crispEdges"/>
<rect x="44.07" y="388.20" width="10.27" height="10.18" fill="#4c4612" shape-rendering="crispEdges"/>
<rect x="54.33" y="388.20" width="10.27" height="10.18" fill="#4c4612" shape-rendering="crispEdges"/>
<rect x="64.60" y="388.20" width="10.27" height="10.18" fill="#199292" shape-rendering="crispEdges"/>
<rect x="74.87" y="388.20" width="10.27" height="10.18" fill="#147878" shape-rendering="crispEdges"/>
<rect x="85.13" y="388.20" width="10.27" height="10.18" fill="#199292" shape-rendering="crispEdges"/>
<rect x="33.80" y="398.38" width="10.27" height="10.18" fill="#f3e41c" shape-rendering="crispEdges"/>
<rect x="44.07" y="398.38" width="10.27" height="10.18" fill="#0e1318" shape-rendering="crispEdges"/>
<rect x="54.33" y="398.38" width="10.27" height="10.18" fill="#9c9015" shape-rendering="crispEdges"/>
<rect x="64.60" y="398.38" width="10.27" height="10.18" fill="#199292" shape-rendering="crispEdges"/>
<rect x="74.87" y="398.38" width="10.27" height="10.18" fill="#0b3c3e" shape-rendering="crispEdges"/>
<rect x="85.13" y="398.38" width="10.27" height="10.18" fill="#147878" shape-rendering="crispEdges"/>
<rect x="33.80" y="408.56" width="10.27" height="10.18" fill="#f3e41c" shape-rendering="crispEdges"/>
<rect x="44.07" y="408.56" width="10.27" height="10.18" fill="#9c9015" shape-rendering="crispEdges"/>
<rect x="54.33" y="408.56" width="10.27" height="10.18" fill="#0e1318" shape-rendering="crispEdges"/>
<rect x="64.60" y="408.56" width="10.27" height="10.18" fill="#0b3c3e" shape-rendering="crispEdges"/>
<rect x="74.87" y="408.56" width="10.27" height="10.18" fill="#147878" shape-rendering="crispEdges"/>
<rect x="85.13" y="408.56" width="10.27" height="10.18" fill="#22acac" shape-rendering="crispEdges"/>
<rect x="33.80" y="418.74" width="10.27" height="10.18" fill="#f3e41c" shape-rendering="crispEdges"/>
<rect x="44.07" y="418.74" width="10.27" height="10.18" fill="#9c9015" shape-rendering="crispEdges"/>
<rect x="54.33" y="418.74" width="10.27" height="10.18" fill="#0e1318" shape-rendering="crispEdges"/>
<rect x="64.60" y="418.74" width="10.27" height="10.18" fill="#199292" shape-rendering="crispEdges"/>
<rect x="74.87" y="418.74" width="10.27" height="10.18" fill="#0b3c3e" shape-rendering="crispEdges"/>
<rect x="85.13" y="418.74" width="10.27" height="10.18" fill="#147878" shape-rendering="crispEdges"/>
<rect x="33.80" y="428.92" width="10.27" height="10.18" fill="#f3e41c" shape-rendering="crispEdges"/>
<rect x="44.07" y="428.92" width="10.27" height="10.18" fill="#0e1318" shape-rendering="crispEdges"/>
<rect x="54.33" y="428.92" width="10.27" height="10.18" fill="#4c4612" shape-rendering="crispEdges"/>
<rect x="64.60" y="428.92" width="10.27" height="10.18" fill="#0e1318" shape-rendering="crispEdges"/>
<rect x="74.87" y="428.92" width="10.27" height="10.18" fill="#199292" shape-rendering="crispEdges"/>
<rect x="85.13" y="428.92" width="10.27" height="10.18" fill="#22acac" shape-rendering="crispEdges"/>
<rect x="33.80" y="439.10" width="10.27" height="10.18" fill="#f3e41c" shape-rendering="crispEdges"/>
<rect x="44.07" y="439.10" width="10.27" height="10.18" fill="#0e1318" shape-rendering="crispEdges"/>
<rect x="54.33" y="439.10" width="10.27" height="10.18" fill="#4c4612" shape-rendering="crispEdges"/>
<rect x="64.60" y="439.10" width="10.27" height="10.18" fill="#199292" shape-rendering="crispEdges"/>
<rect x="74.87" y="439.10" width="10.27" height="10.18" fill="#199292" shape-rendering="crispEdges"/>
<rect x="85.13" y="439.10" width="10.27" height="10.18" fill="#0b3c3e" shape-rendering="crispEdges"/>
<rect x="33.80" y="449.28" width="10.27" height="10.18" fill="#9c9015" shape-rendering="crispEdges"/>
<rect x="44.07" y="449.28" width="10.27" height="10.18" fill="#0e1318" shape-rendering="crispEdges"/>
<rect x="54.33" y="449.28" width="10.27" height="10.18" fill="#cdbf1b" shape-rendering="crispEdges"/>
<rect x="64.60" y="449.28" width="10.27" height="10.18" fill="#147878" shape-rendering="crispEdges"/>
<rect x="74.87" y="449.28" width="10.27" height="10.18" fill="#0e1318" shape-rendering="crispEdges"/>
<rect x="85.13" y="449.28" width="10.27" height="10.18" fill="#22acac" shape-rendering="crispEdges"/>
<rect x="33.80" y="459.46" width="10.27" height="10.18" fill="#f3e41c" shape-rendering="crispEdges"/>
<rect x="44.07" y="459.46" width="10.27" height="10.18" fill="#9c9015" shape-rendering="crispEdges"/>
<rect x="54.33" y="459.46" width="10.27" height="10.18" fill="#0e1318" shape-rendering="crispEdges"/>
<rect x="64.60" y="459.46" width="10.27" height="10.18" fill="#199292" shape-rendering="crispEdges"/>
<rect x="74.87" y="459.46" width="10.27" height="10.18" fill="#199292" shape-rendering="crispEdges"/>
<rect x="85.13" y="459.46" width="10.27" height="10.18" fill="#0b3c3e" shape-rendering="crispEdges"/>
<rect x="33.80" y="469.64" width="10.27" height="10.18" fill="#9c9015" shape-rendering="crispEdges"/>
<rect x="44.07" y="469.64" width="10.27" height="10.18" fill="#9c9015" shape-rendering="crispEdges"/>
<rect x="54.33" y="469.64" width="10.27" height="10.18" fill="#4c4612" shape-rendering="crispEdges"/>
<rect x="64.60" y="469.64" width="10.27" height="10.18" fill="#0b3c3e" shape-rendering="crispEdges"/>
<rect x="74.87" y="469.64" width="10.27" height="10.18" fill="#0e1318" shape-rendering="crispEdges"/>
<rect x="85.13" y="469.64" width="10.27" height="10.18" fill="#70cccc" shape-rendering="crispEdges"/>
<rect x="33.80" y="479.82" width="10.27" height="10.18" fill="#9c9015" shape-rendering="crispEdges"/>
<rect x="44.07" y="479.82" width="10.27" height="10.18" fill="#cdbf1b" shape-rendering="crispEdges"/>
<rect x="54.33" y="479.82" width="10.27" height="10.18" fill="#4c4612" shape-rendering="crispEdges"/>
<rect x="64.60" y="479.82" width="10.27" height="10.18" fill="#22acac" shape-rendering="crispEdges"/>
<rect x="74.87" y="479.82" width="10.27" height="10.18" fill="#0b3c3e" shape-rendering="crispEdges"/>
<rect x="85.13" y="479.82" width="10.27" height="10.18" fill="#199292" shape-rendering="crispEdges"/>
<rect x="33.80" y="490.00" width="10.27" height="10.18" fill="#70cccc" shape-rendering="crispEdges"/>
<rect x="44.07" y="490.00" width="10.27" height="10.18" fill="#0b3c3e" shape-rendering="crispEdges"/>
<rect x="54.33" y="490.00" width="10.27" height="10.18" fill="#0e1318" shape-rendering="crispEdges"/>
<rect x="64.60" y="490.00" width="10.27" height="10.18" fill="#9c9015" shape-rendering="crispEdges"/>
<rect x="74.87" y="490.00" width="10.27" height="10.18" fill="#9c9015" shape-rendering="crispEdges"/>
<rect x="85.13" y="490.00" width="10.27" height="10.18" fill="#0e1318" shape-rendering="crispEdges"/>
<rect x="33.80" y="500.18" width="10.27" height="10.18" fill="#0b3c3e" shape-rendering="crispEdges"/>
<rect x="44.07" y="500.18" width="10.27" height="10.18" fill="#0b3c3e" shape-rendering="crispEdges"/>
<rect x="54.33" y="500.18" width="10.27" height="10.18" fill="#199292" shape-rendering="crispEdges"/>
<rect x="64.60" y="500.18" width="10.27" height="10.18" fill="#4c4612" shape-rendering="crispEdges"/>
<rect x="74.87" y="500.18" width="10.27" height="10.18" fill="#0e1318" shape-rendering="crispEdges"/>
<rect x="85.13" y="500.18" width="10.27" height="10.18" fill="#f3e41c" shape-rendering="crispEdges"/>
<rect x="33.80" y="510.36" width="10.27" height="10.18" fill="#22acac" shape-rendering="crispEdges"/>
<rect x="44.07" y="510.36" width="10.27" height="10.18" fill="#0b3c3e" shape-rendering="crispEdges"/>
<rect x="54.33" y="510.36" width="10.27" height="10.18" fill="#147878" shape-rendering="crispEdges"/>
<rect x="64.60" y="510.36" width="10.27" height="10.18" fill="#4c4612" shape-rendering="crispEdges"/>
<rect x="74.87" y="510.36" width="10.27" height="10.18" fill="#0e1318" shape-rendering="crispEdges"/>
<rect x="85.13" y="510.36" width="10.27" height="10.18" fill="#cdbf1b" shape-rendering="crispEdges"/>
<rect x="33.80" y="520.54" width="10.27" height="10.18" fill="#199292" shape-rendering="crispEdges"/>
<rect x="44.07" y="520.54" width="10.27" height="10.18" fill="#22acac" shape-rendering="crispEdges"/>
<rect x="54.33" y="520.54" width="10.27" height="10.18" fill="#0e1318" shape-rendering="crispEdges"/>
<rect x="64.60" y="520.54" width="10.27" height="10.18" fill="#4c4612" shape-rendering="crispEdges"/>
<rect x="74.87" y="520.54" width="10.27" height="10.18" fill="#0e1318" shape-rendering="crispEdges"/>
<rect x="85.13" y="520.54" width="10.27" height="10.18" fill="#f3e41c" shape-rendering="crispEdges"/>
<rect x="33.80" y="530.72" width="10.27" height="10.18" fill="#22acac" shape-rendering="crispEdges"/>
<rect x="44.07" y="530.72" width="10.27" height="10.18" fill="#0e1318" shape-rendering="crispEdges"/>
<rect x="54.33" y="530.72" width="10.27" height="10.18" fill="#0b3c3e" shape-rendering="crispEdges"/>
<rect x="64.60" y="530.72" width="10.27" height="10.18" fill="#cdbf1b" shape-rendering="crispEdges"/>
<rect x="74.87" y="530.72" width="10.27" height="10.18" fill="#cdbf1b" shape-rendering="crispEdges"/>
<rect x="85.13" y="530.72" width="10.27" height="10.18" fill="#147878" shape-rendering="crispEdges"/>
<rect x="33.80" y="540.90" width="10.27" height="10.18" fill="#22acac" shape-rendering="crispEdges"/>
<rect x="44.07" y="540.90" width="10.27" height="10.18" fill="#147878" shape-rendering="crispEdges"/>
<rect x="54.33" y="540.90" width="10.27" height="10.18" fill="#147878" shape-rendering="crispEdges"/>
<rect x="64.60" y="540.90" width="10.27" height="10.18" fill="#4c4612" shape-rendering="crispEdges"/>
<rect x="74.87" y="540.90" width="10.27" height="10.18" fill="#f3e41c" shape-rendering="crispEdges"/>
<rect x="85.13" y="540.90" width="10.27" height="10.18" fill="#4c4612" shape-rendering="crispEdges"/>
<rect x="33.80" y="551.08" width="10.27" height="10.18" fill="#199292" shape-rendering="crispEdges"/>
<rect x="44.07" y="551.08" width="10.27" height="10.18" fill="#147878" shape-rendering="crispEdges"/>
<rect x="54.33" y="551.08" width="10.27" height="10.18" fill="#147878" shape-rendering="crispEdges"/>
<rect x="64.60" y="551.08" width="10.27" height="10.18" fill="#cdbf1b" shape-rendering="crispEdges"/>
<rect x="74.87" y="551.08" width="10.27" height="10.18" fill="#cdbf1b" shape-rendering="crispEdges"/>
<rect x="85.13" y="551.08" width="10.27" height="10.18" fill="#147878" shape-rendering="crispEdges"/>
<rect x="33.80" y="561.26" width="10.27" height="10.18" fill="#199292" shape-rendering="crispEdges"/>
<rect x="44.07" y="561.26" width="10.27" height="10.18" fill="#147878" shape-rendering="crispEdges"/>
<rect x="54.33" y="561.26" width="10.27" height="10.18" fill="#147878" shape-rendering="crispEdges"/>
<rect x="64.60" y="561.26" width="10.27" height="10.18" fill="#f3e41c" shape-rendering="crispEdges"/>
<rect x="74.87" y="561.26" width="10.27" height="10.18" fill="#4c4612" shape-rendering="crispEdges"/>
<rect x="85.13" y="561.26" width="10.27" height="10.18" fill="#4c4612" shape-rendering="crispEdges"/>
<text x="98.60" y="243.19" font-size="7.8" text-anchor="start" font-style="italic" fill="#222" stroke="#222" stroke-width="0.15">F3</text>
<text x="98.60" y="253.37" font-size="7.8" text-anchor="start" font-style="italic" fill="#222" stroke="#222" stroke-width="0.15">ST3GAL6</text>
<rect x="151.30" y="247.37" width="6.80" height="6.80" fill="#2b2b2b"/>
<text x="98.60" y="263.55" font-size="7.8" text-anchor="start" font-style="italic" fill="#222" stroke="#222" stroke-width="0.15">PARVB</text>
<text x="98.60" y="273.73" font-size="7.8" text-anchor="start" font-style="italic" fill="#222" stroke="#222" stroke-width="0.15">IL6R</text>
<text x="98.60" y="283.91" font-size="7.8" text-anchor="start" font-style="italic" fill="#222" stroke="#222" stroke-width="0.15">RBM47</text>
<rect x="151.30" y="277.91" width="6.80" height="6.80" fill="#2b2b2b"/>
<rect x="167.40" y="277.91" width="6.80" height="6.80" fill="#e2262b"/>
<text x="98.60" y="294.09" font-size="7.8" text-anchor="start" font-style="italic" fill="#222" stroke="#222" stroke-width="0.15">DUSP7</text>
<text x="98.60" y="304.27" font-size="7.8" text-anchor="start" font-style="italic" fill="#222" stroke="#222" stroke-width="0.15">GBP2</text>
<text x="98.60" y="314.45" font-size="7.8" text-anchor="start" font-style="italic" fill="#222" stroke="#222" stroke-width="0.15">PSTPIP2</text>
<rect x="151.30" y="308.45" width="6.80" height="6.80" fill="#2b2b2b"/>
<rect x="167.40" y="308.45" width="6.80" height="6.80" fill="#e2262b"/>
<text x="98.60" y="324.63" font-size="7.8" text-anchor="start" font-style="italic" fill="#222" stroke="#222" stroke-width="0.15">CTTNBP2NL</text>
<text x="98.60" y="334.81" font-size="7.8" text-anchor="start" font-style="italic" fill="#222" stroke="#222" stroke-width="0.15">SDCBP</text>
<rect x="151.30" y="328.81" width="6.80" height="6.80" fill="#2b2b2b"/>
<rect x="167.40" y="328.81" width="6.80" height="6.80" fill="#e2262b"/>
<text x="98.60" y="344.99" font-size="7.8" text-anchor="start" font-style="italic" fill="#222" stroke="#222" stroke-width="0.15">C3AR1</text>
<text x="98.60" y="355.17" font-size="7.8" text-anchor="start" font-style="italic" fill="#222" stroke="#222" stroke-width="0.15">SAMSN1</text>
<rect x="151.30" y="349.17" width="6.80" height="6.80" fill="#2b2b2b"/>
<text x="98.60" y="365.35" font-size="7.8" text-anchor="start" font-style="italic" fill="#222" stroke="#222" stroke-width="0.15">CACNA2D4</text>
<rect x="151.30" y="359.35" width="6.80" height="6.80" fill="#2b2b2b"/>
<rect x="167.40" y="359.35" width="6.80" height="6.80" fill="#e2262b"/>
<text x="98.60" y="375.53" font-size="7.8" text-anchor="start" font-style="italic" fill="#222" stroke="#222" stroke-width="0.15">TLR2</text>
<text x="98.60" y="385.71" font-size="7.8" text-anchor="start" font-style="italic" fill="#222" stroke="#222" stroke-width="0.15">B4GALT5</text>
<text x="98.60" y="395.89" font-size="7.8" text-anchor="start" font-style="italic" fill="#222" stroke="#222" stroke-width="0.15">GSPT1</text>
<rect x="151.30" y="389.89" width="6.80" height="6.80" fill="#2b2b2b"/>
<rect x="167.40" y="389.89" width="6.80" height="6.80" fill="#e2262b"/>
<text x="98.60" y="406.07" font-size="7.8" text-anchor="start" font-style="italic" fill="#222" stroke="#222" stroke-width="0.15">COTL1</text>
<text x="98.60" y="416.25" font-size="7.8" text-anchor="start" font-style="italic" fill="#222" stroke="#222" stroke-width="0.15">YWHAG</text>
<rect x="151.30" y="410.25" width="6.80" height="6.80" fill="#2b2b2b"/>
<rect x="167.40" y="410.25" width="6.80" height="6.80" fill="#e2262b"/>
<text x="98.60" y="426.43" font-size="7.8" text-anchor="start" font-style="italic" fill="#222" stroke="#222" stroke-width="0.15">WDFY1</text>
<rect x="151.30" y="420.43" width="6.80" height="6.80" fill="#2b2b2b"/>
<rect x="167.40" y="420.43" width="6.80" height="6.80" fill="#e2262b"/>
<text x="98.60" y="436.61" font-size="7.8" text-anchor="start" font-style="italic" fill="#222" stroke="#222" stroke-width="0.15">CDC123</text>
<rect x="167.40" y="430.61" width="6.80" height="6.80" fill="#e2262b"/>
<text x="98.60" y="446.79" font-size="7.8" text-anchor="start" font-style="italic" fill="#222" stroke="#222" stroke-width="0.15">APLP2</text>
<rect x="151.30" y="440.79" width="6.80" height="6.80" fill="#2b2b2b"/>
<rect x="167.40" y="440.79" width="6.80" height="6.80" fill="#e2262b"/>
<text x="98.60" y="456.97" font-size="7.8" text-anchor="start" font-style="italic" fill="#222" stroke="#222" stroke-width="0.15">ALDOA</text>
<rect x="151.30" y="450.97" width="6.80" height="6.80" fill="#2b2b2b"/>
<rect x="167.40" y="450.97" width="6.80" height="6.80" fill="#e2262b"/>
<text x="98.60" y="467.15" font-size="7.8" text-anchor="start" font-style="italic" fill="#222" stroke="#222" stroke-width="0.15">UBP1</text>
<rect x="151.30" y="461.15" width="6.80" height="6.80" fill="#2b2b2b"/>
<rect x="167.40" y="461.15" width="6.80" height="6.80" fill="#e2262b"/>
<text x="98.60" y="477.33" font-size="7.8" text-anchor="start" font-style="italic" fill="#222" stroke="#222" stroke-width="0.15">ERLIN1</text>
<rect x="151.30" y="471.33" width="6.80" height="6.80" fill="#2b2b2b"/>
<rect x="167.40" y="471.33" width="6.80" height="6.80" fill="#e2262b"/>
<text x="98.60" y="487.51" font-size="7.8" text-anchor="start" font-style="italic" fill="#222" stroke="#222" stroke-width="0.15">MRM2</text>
<rect x="151.30" y="481.51" width="6.80" height="6.80" fill="#2b2b2b"/>
<rect x="167.40" y="481.51" width="6.80" height="6.80" fill="#e2262b"/>
<text x="98.60" y="497.69" font-size="7.8" text-anchor="start" font-style="italic" fill="#222" stroke="#222" stroke-width="0.15">ERGIC1</text>
<rect x="151.30" y="491.69" width="6.80" height="6.80" fill="#2b2b2b"/>
<rect x="167.40" y="491.69" width="6.80" height="6.80" fill="#e2262b"/>
<text x="98.60" y="507.87" font-size="7.8" text-anchor="start" font-style="italic" fill="#222" stroke="#222" stroke-width="0.15">SENP7</text>
<rect x="151.30" y="501.87" width="6.80" height="6.80" fill="#2b2b2b"/>
<rect x="167.40" y="501.87" width="6.80" height="6.80" fill="#e2262b"/>
<text x="98.60" y="518.05" font-size="7.8" text-anchor="start" font-style="italic" fill="#222" stroke="#222" stroke-width="0.15">ATP2A3</text>
<rect x="151.30" y="512.05" width="6.80" height="6.80" fill="#2b2b2b"/>
<rect x="167.40" y="512.05" width="6.80" height="6.80" fill="#e2262b"/>
<text x="98.60" y="528.23" font-size="7.8" text-anchor="start" font-style="italic" fill="#222" stroke="#222" stroke-width="0.15">ZNF43</text>
<text x="98.60" y="538.41" font-size="7.8" text-anchor="start" font-style="italic" fill="#222" stroke="#222" stroke-width="0.15">SUPT3H</text>
<rect x="151.30" y="532.41" width="6.80" height="6.80" fill="#2b2b2b"/>
<text x="98.60" y="548.59" font-size="7.8" text-anchor="start" font-style="italic" fill="#222" stroke="#222" stroke-width="0.15">GOLGA2P5</text>
<text x="98.60" y="558.77" font-size="7.8" text-anchor="start" font-style="italic" fill="#222" stroke="#222" stroke-width="0.15">RUNX2</text>
<rect x="151.30" y="552.77" width="6.80" height="6.80" fill="#2b2b2b"/>
<text x="98.60" y="568.95" font-size="7.8" text-anchor="start" font-style="italic" fill="#222" stroke="#222" stroke-width="0.15">PHLDB2</text>
<rect x="151.30" y="562.95" width="6.80" height="6.80" fill="#2b2b2b"/>
<text x="48.20" y="229.60" font-size="8.6" text-anchor="middle" fill="#222" stroke="#222" stroke-width="0.15">Af4</text>
<text x="76.40" y="229.60" font-size="8.6" text-anchor="middle" fill="#222" stroke="#222" stroke-width="0.15">AF9</text>
<line x1="33.40" y1="232.30" x2="63.90" y2="232.30" stroke="#444" stroke-width="1.1"/>
<line x1="65.30" y1="232.30" x2="95.70" y2="232.30" stroke="#444" stroke-width="1.1"/>
<text x="161.80" y="216.60" font-size="7.8" text-anchor="middle" fill="#222" stroke="#222" stroke-width="0.15">DNA binding</text>
<text x="130.50" y="228.60" font-size="7.4" text-anchor="start" fill="#222" stroke="#222" stroke-width="0.15">(</text>
<rect x="135.80" y="222.70" width="6.80" height="6.60" fill="#2b2b2b"/>
<text x="145.20" y="228.60" font-size="7.4" text-anchor="start" fill="#222" stroke="#222" stroke-width="0.15">AF9</text>
<rect x="168.50" y="222.70" width="6.80" height="6.60" fill="#e2262b"/>
<text x="178.30" y="228.60" font-size="7.4" text-anchor="start" fill="#222" stroke="#222" stroke-width="0.15">Af4)</text>
<line x1="31.20" y1="236.30" x2="31.20" y2="487.80" stroke="#8a8a8a" stroke-width="1.1"/>
<line x1="31.20" y1="492.20" x2="31.20" y2="569.30" stroke="#8a8a8a" stroke-width="1.1"/>
<text x="25.60" y="361.70" font-size="8.6" text-anchor="middle" fill="#222" stroke="#222" stroke-width="0.15" transform="rotate(-90 25.60 361.70)">Resistant</text>
<text x="25.60" y="530.40" font-size="8.6" text-anchor="middle" fill="#222" stroke="#222" stroke-width="0.15" transform="rotate(-90 25.60 530.40)">Sensitive</text>
<defs><linearGradient id="bcb" x1="0" x2="1"><stop offset="0" stop-color="#6aaab0"/><stop offset="0.25" stop-color="#2e6a70"/><stop offset="0.5" stop-color="#000"/><stop offset="0.75" stop-color="#6a6210"/><stop offset="1" stop-color="#ecdc22"/></linearGradient></defs>
<rect x="33.9" y="579.4" width="97.8" height="4.8" fill="url(#bcb)"/>
<text x="34.30" y="592.40" font-size="7.4" text-anchor="middle" fill="#222" stroke="#222" stroke-width="0.15">&#8722;2</text>
<text x="82.60" y="592.40" font-size="7.4" text-anchor="middle" fill="#222" stroke="#222" stroke-width="0.15">0</text>
<text x="130.90" y="592.40" font-size="7.4" text-anchor="middle" fill="#222" stroke="#222" stroke-width="0.15">2</text>
<text x="207.70" y="204.40" font-size="10.8" text-anchor="start" font-weight="bold" fill="#111" stroke="#111" stroke-width="0.15">D</text>
<rect x="233.10" y="272.40" width="5.29" height="5.28" fill="#4a4212" shape-rendering="crispEdges"/>
<rect x="238.39" y="272.40" width="5.29" height="5.28" fill="#0e1620" shape-rendering="crispEdges"/>
<rect x="243.67" y="272.40" width="5.29" height="5.28" fill="#0e1620" shape-rendering="crispEdges"/>
<rect x="248.96" y="272.40" width="5.29" height="5.28" fill="#0e1620" shape-rendering="crispEdges"/>
<rect x="254.25" y="272.40" width="5.29" height="5.28" fill="#0e1620" shape-rendering="crispEdges"/>
<rect x="259.54" y="272.40" width="5.29" height="5.28" fill="#0e1620" shape-rendering="crispEdges"/>
<rect x="264.82" y="272.40" width="5.29" height="5.28" fill="#0e1620" shape-rendering="crispEdges"/>
<rect x="270.11" y="272.40" width="5.29" height="5.28" fill="#4a4212" shape-rendering="crispEdges"/>
<rect x="275.40" y="272.40" width="5.29" height="5.28" fill="#0e1620" shape-rendering="crispEdges"/>
<rect x="280.69" y="272.40" width="5.29" height="5.28" fill="#0e1620" shape-rendering="crispEdges"/>
<rect x="285.98" y="272.40" width="5.29" height="5.28" fill="#f3e41c" shape-rendering="crispEdges"/>
<rect x="291.26" y="272.40" width="5.29" height="5.28" fill="#0e1620" shape-rendering="crispEdges"/>
<rect x="296.55" y="272.40" width="5.29" height="5.28" fill="#0c3e46" shape-rendering="crispEdges"/>
<rect x="301.84" y="272.40" width="5.29" height="5.28" fill="#0e1620" shape-rendering="crispEdges"/>
<rect x="307.12" y="272.40" width="5.29" height="5.28" fill="#0e1620" shape-rendering="crispEdges"/>
<rect x="312.41" y="272.40" width="5.29" height="5.28" fill="#0c3e46" shape-rendering="crispEdges"/>
<rect x="233.10" y="277.68" width="5.29" height="5.28" fill="#0c3e46" shape-rendering="crispEdges"/>
<rect x="238.39" y="277.68" width="5.29" height="5.28" fill="#958914" shape-rendering="crispEdges"/>
<rect x="243.67" y="277.68" width="5.29" height="5.28" fill="#4a4212" shape-rendering="crispEdges"/>
<rect x="248.96" y="277.68" width="5.29" height="5.28" fill="#958914" shape-rendering="crispEdges"/>
<rect x="254.25" y="277.68" width="5.29" height="5.28" fill="#958914" shape-rendering="crispEdges"/>
<rect x="259.54" y="277.68" width="5.29" height="5.28" fill="#cdbf1b" shape-rendering="crispEdges"/>
<rect x="264.82" y="277.68" width="5.29" height="5.28" fill="#cdbf1b" shape-rendering="crispEdges"/>
<rect x="270.11" y="277.68" width="5.29" height="5.28" fill="#958914" shape-rendering="crispEdges"/>
<rect x="275.40" y="277.68" width="5.29" height="5.28" fill="#4a4212" shape-rendering="crispEdges"/>
<rect x="280.69" y="277.68" width="5.29" height="5.28" fill="#0e1620" shape-rendering="crispEdges"/>
<rect x="285.98" y="277.68" width="5.29" height="5.28" fill="#f3e41c" shape-rendering="crispEdges"/>
<rect x="291.26" y="277.68" width="5.29" height="5.28" fill="#0c3e46" shape-rendering="crispEdges"/>
<rect x="296.55" y="277.68" width="5.29" height="5.28" fill="#0c3e46" shape-rendering="crispEdges"/>
<rect x="301.84" y="277.68" width="5.29" height="5.28" fill="#177c86" shape-rendering="crispEdges"/>
<rect x="307.12" y="277.68" width="5.29" height="5.28" fill="#4a4212" shape-rendering="crispEdges"/>
<rect x="312.41" y="277.68" width="5.29" height="5.28" fill="#4a4212" shape-rendering="crispEdges"/>
<rect x="233.10" y="282.96" width="5.29" height="5.28" fill="#4a4212" shape-rendering="crispEdges"/>
<rect x="238.39" y="282.96" width="5.29" height="5.28" fill="#0e1620" shape-rendering="crispEdges"/>
<rect x="243.67" y="282.96" width="5.29" height="5.28" fill="#0e1620" shape-rendering="crispEdges"/>
<rect x="248.96" y="282.96" width="5.29" height="5.28" fill="#958914" shape-rendering="crispEdges"/>
<rect x="254.25" y="282.96" width="5.29" height="5.28" fill="#958914" shape-rendering="crispEdges"/>
<rect x="259.54" y="282.96" width="5.29" height="5.28" fill="#4a4212" shape-rendering="crispEdges"/>
<rect x="264.82" y="282.96" width="5.29" height="5.28" fill="#cdbf1b" shape-rendering="crispEdges"/>
<rect x="270.11" y="282.96" width="5.29" height="5.28" fill="#cdbf1b" shape-rendering="crispEdges"/>
<rect x="275.40" y="282.96" width="5.29" height="5.28" fill="#4a4212" shape-rendering="crispEdges"/>
<rect x="280.69" y="282.96" width="5.29" height="5.28" fill="#958914" shape-rendering="crispEdges"/>
<rect x="285.98" y="282.96" width="5.29" height="5.28" fill="#f3e41c" shape-rendering="crispEdges"/>
<rect x="291.26" y="282.96" width="5.29" height="5.28" fill="#0e1620" shape-rendering="crispEdges"/>
<rect x="296.55" y="282.96" width="5.29" height="5.28" fill="#0c3e46" shape-rendering="crispEdges"/>
<rect x="301.84" y="282.96" width="5.29" height="5.28" fill="#4a4212" shape-rendering="crispEdges"/>
<rect x="307.12" y="282.96" width="5.29" height="5.28" fill="#958914" shape-rendering="crispEdges"/>
<rect x="312.41" y="282.96" width="5.29" height="5.28" fill="#177c86" shape-rendering="crispEdges"/>
<rect x="233.10" y="288.24" width="5.29" height="5.28" fill="#cdbf1b" shape-rendering="crispEdges"/>
<rect x="238.39" y="288.24" width="5.29" height="5.28" fill="#0e1620" shape-rendering="crispEdges"/>
<rect x="243.67" y="288.24" width="5.29" height="5.28" fill="#958914" shape-rendering="crispEdges"/>
<rect x="248.96" y="288.24" width="5.29" height="5.28" fill="#958914" shape-rendering="crispEdges"/>
<rect x="254.25" y="288.24" width="5.29" height="5.28" fill="#958914" shape-rendering="crispEdges"/>
<rect x="259.54" y="288.24" width="5.29" height="5.28" fill="#958914" shape-rendering="crispEdges"/>
<rect x="264.82" y="288.24" width="5.29" height="5.28" fill="#958914" shape-rendering="crispEdges"/>
<rect x="270.11" y="288.24" width="5.29" height="5.28" fill="#4a4212" shape-rendering="crispEdges"/>
<rect x="275.40" y="288.24" width="5.29" height="5.28" fill="#0e1620" shape-rendering="crispEdges"/>
<rect x="280.69" y="288.24" width="5.29" height="5.28" fill="#0e1620" shape-rendering="crispEdges"/>
<rect x="285.98" y="288.24" width="5.29" height="5.28" fill="#958914" shape-rendering="crispEdges"/>
<rect x="291.26" y="288.24" width="5.29" height="5.28" fill="#cdbf1b" shape-rendering="crispEdges"/>
<rect x="296.55" y="288.24" width="5.29" height="5.28" fill="#0e1620" shape-rendering="crispEdges"/>
<rect x="301.84" y="288.24" width="5.29" height="5.28" fill="#0e1620" shape-rendering="crispEdges"/>
<rect x="307.12" y="288.24" width="5.29" height="5.28" fill="#0e1620" shape-rendering="crispEdges"/>
<rect x="312.41" y="288.24" width="5.29" height="5.28" fill="#f3e41c" shape-rendering="crispEdges"/>
<rect x="233.10" y="293.52" width="5.29" height="5.28" fill="#958914" shape-rendering="crispEdges"/>
<rect x="238.39" y="293.52" width="5.29" height="5.28" fill="#958914" shape-rendering="crispEdges"/>
<rect x="243.67" y="293.52" width="5.29" height="5.28" fill="#958914" shape-rendering="crispEdges"/>
<rect x="248.96" y="293.52" width="5.29" height="5.28" fill="#0e1620" shape-rendering="crispEdges"/>
<rect x="254.25" y="293.52" width="5.29" height="5.28" fill="#f3e41c" shape-rendering="crispEdges"/>
<rect x="259.54" y="293.52" width="5.29" height="5.28" fill="#cdbf1b" shape-rendering="crispEdges"/>
<rect x="264.82" y="293.52" width="5.29" height="5.28" fill="#0e1620" shape-rendering="crispEdges"/>
<rect x="270.11" y="293.52" width="5.29" height="5.28" fill="#cdbf1b" shape-rendering="crispEdges"/>
<rect x="275.40" y="293.52" width="5.29" height="5.28" fill="#958914" shape-rendering="crispEdges"/>
<rect x="280.69" y="293.52" width="5.29" height="5.28" fill="#4a4212" shape-rendering="crispEdges"/>
<rect x="285.98" y="293.52" width="5.29" height="5.28" fill="#958914" shape-rendering="crispEdges"/>
<rect x="291.26" y="293.52" width="5.29" height="5.28" fill="#0e1620" shape-rendering="crispEdges"/>
<rect x="296.55" y="293.52" width="5.29" height="5.28" fill="#cdbf1b" shape-rendering="crispEdges"/>
<rect x="301.84" y="293.52" width="5.29" height="5.28" fill="#0e1620" shape-rendering="crispEdges"/>
<rect x="307.12" y="293.52" width="5.29" height="5.28" fill="#958914" shape-rendering="crispEdges"/>
<rect x="312.41" y="293.52" width="5.29" height="5.28" fill="#4a4212" shape-rendering="crispEdges"/>
<rect x="233.10" y="298.80" width="5.29" height="5.28" fill="#f3e41c" shape-rendering="crispEdges"/>
<rect x="238.39" y="298.80" width="5.29" height="5.28" fill="#0e1620" shape-rendering="crispEdges"/>
<rect x="243.67" y="298.80" width="5.29" height="5.28" fill="#cdbf1b" shape-rendering="crispEdges"/>
<rect x="248.96" y="298.80" width="5.29" height="5.28" fill="#4a4212" shape-rendering="crispEdges"/>
<rect x="254.25" y="298.80" width="5.29" height="5.28" fill="#f3e41c" shape-rendering="crispEdges"/>
<rect x="259.54" y="298.80" width="5.29" height="5.28" fill="#cdbf1b" shape-rendering="crispEdges"/>
<rect x="264.82" y="298.80" width="5.29" height="5.28" fill="#0e1620" shape-rendering="crispEdges"/>
<rect x="270.11" y="298.80" width="5.29" height="5.28" fill="#cdbf1b" shape-rendering="crispEdges"/>
<rect x="275.40" y="298.80" width="5.29" height="5.28" fill="#958914" shape-rendering="crispEdges"/>
<rect x="280.69" y="298.80" width="5.29" height="5.28" fill="#0e1620" shape-rendering="crispEdges"/>
<rect x="285.98" y="298.80" width="5.29" height="5.28" fill="#f3e41c" shape-rendering="crispEdges"/>
<rect x="291.26" y="298.80" width="5.29" height="5.28" fill="#0c3e46" shape-rendering="crispEdges"/>
<rect x="296.55" y="298.80" width="5.29" height="5.28" fill="#4a4212" shape-rendering="crispEdges"/>
<rect x="301.84" y="298.80" width="5.29" height="5.28" fill="#0e1620" shape-rendering="crispEdges"/>
<rect x="307.12" y="298.80" width="5.29" height="5.28" fill="#125c64" shape-rendering="crispEdges"/>
<rect x="312.41" y="298.80" width="5.29" height="5.28" fill="#958914" shape-rendering="crispEdges"/>
<rect x="233.10" y="304.08" width="5.29" height="5.28" fill="#f3e41c" shape-rendering="crispEdges"/>
<rect x="238.39" y="304.08" width="5.29" height="5.28" fill="#4a4212" shape-rendering="crispEdges"/>
<rect x="243.67" y="304.08" width="5.29" height="5.28" fill="#958914" shape-rendering="crispEdges"/>
<rect x="248.96" y="304.08" width="5.29" height="5.28" fill="#cdbf1b" shape-rendering="crispEdges"/>
<rect x="254.25" y="304.08" width="5.29" height="5.28" fill="#f3e41c" shape-rendering="crispEdges"/>
<rect x="259.54" y="304.08" width="5.29" height="5.28" fill="#cdbf1b" shape-rendering="crispEdges"/>
<rect x="264.82" y="304.08" width="5.29" height="5.28" fill="#0e1620" shape-rendering="crispEdges"/>
<rect x="270.11" y="304.08" width="5.29" height="5.28" fill="#f3e41c" shape-rendering="crispEdges"/>
<rect x="275.40" y="304.08" width="5.29" height="5.28" fill="#cdbf1b" shape-rendering="crispEdges"/>
<rect x="280.69" y="304.08" width="5.29" height="5.28" fill="#0e1620" shape-rendering="crispEdges"/>
<rect x="285.98" y="304.08" width="5.29" height="5.28" fill="#4a4212" shape-rendering="crispEdges"/>
<rect x="291.26" y="304.08" width="5.29" height="5.28" fill="#0c3e46" shape-rendering="crispEdges"/>
<rect x="296.55" y="304.08" width="5.29" height="5.28" fill="#958914" shape-rendering="crispEdges"/>
<rect x="301.84" y="304.08" width="5.29" height="5.28" fill="#0e1620" shape-rendering="crispEdges"/>
<rect x="307.12" y="304.08" width="5.29" height="5.28" fill="#0c3e46" shape-rendering="crispEdges"/>
<rect x="312.41" y="304.08" width="5.29" height="5.28" fill="#0e1620" shape-rendering="crispEdges"/>
<rect x="233.10" y="309.36" width="5.29" height="5.28" fill="#f3e41c" shape-rendering="crispEdges"/>
<rect x="238.39" y="309.36" width="5.29" height="5.28" fill="#4a4212" shape-rendering="crispEdges"/>
<rect x="243.67" y="309.36" width="5.29" height="5.28" fill="#958914" shape-rendering="crispEdges"/>
<rect x="248.96" y="309.36" width="5.29" height="5.28" fill="#4a4212" shape-rendering="crispEdges"/>
<rect x="254.25" y="309.36" width="5.29" height="5.28" fill="#958914" shape-rendering="crispEdges"/>
<rect x="259.54" y="309.36" width="5.29" height="5.28" fill="#cdbf1b" shape-rendering="crispEdges"/>
<rect x="264.82" y="309.36" width="5.29" height="5.28" fill="#f3e41c" shape-rendering="crispEdges"/>
<rect x="270.11" y="309.36" width="5.29" height="5.28" fill="#cdbf1b" shape-rendering="crispEdges"/>
<rect x="275.40" y="309.36" width="5.29" height="5.28" fill="#958914" shape-rendering="crispEdges"/>
<rect x="280.69" y="309.36" width="5.29" height="5.28" fill="#4a4212" shape-rendering="crispEdges"/>
<rect x="285.98" y="309.36" width="5.29" height="5.28" fill="#4a4212" shape-rendering="crispEdges"/>
<rect x="291.26" y="309.36" width="5.29" height="5.28" fill="#125c64" shape-rendering="crispEdges"/>
<rect x="296.55" y="309.36" width="5.29" height="5.28" fill="#958914" shape-rendering="crispEdges"/>
<rect x="301.84" y="309.36" width="5.29" height="5.28" fill="#4a4212" shape-rendering="crispEdges"/>
<rect x="307.12" y="309.36" width="5.29" height="5.28" fill="#4a4212" shape-rendering="crispEdges"/>
<rect x="312.41" y="309.36" width="5.29" height="5.28" fill="#0e1620" shape-rendering="crispEdges"/>
<rect x="233.10" y="314.64" width="5.29" height="5.28" fill="#0e1620" shape-rendering="crispEdges"/>
<rect x="238.39" y="314.64" width="5.29" height="5.28" fill="#4a4212" shape-rendering="crispEdges"/>
<rect x="243.67" y="314.64" width="5.29" height="5.28" fill="#958914" shape-rendering="crispEdges"/>
<rect x="248.96" y="314.64" width="5.29" height="5.28" fill="#f3e41c" shape-rendering="crispEdges"/>
<rect x="254.25" y="314.64" width="5.29" height="5.28" fill="#f3e41c" shape-rendering="crispEdges"/>
<rect x="259.54" y="314.64" width="5.29" height="5.28" fill="#cdbf1b" shape-rendering="crispEdges"/>
<rect x="264.82" y="314.64" width="5.29" height="5.28" fill="#958914" shape-rendering="crispEdges"/>
<rect x="270.11" y="314.64" width="5.29" height="5.28" fill="#cdbf1b" shape-rendering="crispEdges"/>
<rect x="275.40" y="314.64" width="5.29" height="5.28" fill="#4a4212" shape-rendering="crispEdges"/>
<rect x="280.69" y="314.64" width="5.29" height="5.28" fill="#0c3e46" shape-rendering="crispEdges"/>
<rect x="285.98" y="314.64" width="5.29" height="5.28" fill="#958914" shape-rendering="crispEdges"/>
<rect x="291.26" y="314.64" width="5.29" height="5.28" fill="#cdbf1b" shape-rendering="crispEdges"/>
<rect x="296.55" y="314.64" width="5.29" height="5.28" fill="#125c64" shape-rendering="crispEdges"/>
<rect x="301.84" y="314.64" width="5.29" height="5.28" fill="#0e1620" shape-rendering="crispEdges"/>
<rect x="307.12" y="314.64" width="5.29" height="5.28" fill="#0e1620" shape-rendering="crispEdges"/>
<rect x="312.41" y="314.64" width="5.29" height="5.28" fill="#4a4212" shape-rendering="crispEdges"/>
<rect x="233.10" y="319.92" width="5.29" height="5.28" fill="#f3e41c" shape-rendering="crispEdges"/>
<rect x="238.39" y="319.92" width="5.29" height="5.28" fill="#0e1620" shape-rendering="crispEdges"/>
<rect x="243.67" y="319.92" width="5.29" height="5.28" fill="#4a4212" shape-rendering="crispEdges"/>
<rect x="248.96" y="319.92" width="5.29" height="5.28" fill="#4a4212" shape-rendering="crispEdges"/>
<rect x="254.25" y="319.92" width="5.29" height="5.28" fill="#958914" shape-rendering="crispEdges"/>
<rect x="259.54" y="319.92" width="5.29" height="5.28" fill="#958914" shape-rendering="crispEdges"/>
<rect x="264.82" y="319.92" width="5.29" height="5.28" fill="#cdbf1b" shape-rendering="crispEdges"/>
<rect x="270.11" y="319.92" width="5.29" height="5.28" fill="#cdbf1b" shape-rendering="crispEdges"/>
<rect x="275.40" y="319.92" width="5.29" height="5.28" fill="#cdbf1b" shape-rendering="crispEdges"/>
<rect x="280.69" y="319.92" width="5.29" height="5.28" fill="#958914" shape-rendering="crispEdges"/>
<rect x="285.98" y="319.92" width="5.29" height="5.28" fill="#4a4212" shape-rendering="crispEdges"/>
<rect x="291.26" y="319.92" width="5.29" height="5.28" fill="#177c86" shape-rendering="crispEdges"/>
<rect x="296.55" y="319.92" width="5.29" height="5.28" fill="#0e1620" shape-rendering="crispEdges"/>
<rect x="301.84" y="319.92" width="5.29" height="5.28" fill="#0c3e46" shape-rendering="crispEdges"/>
<rect x="307.12" y="319.92" width="5.29" height="5.28" fill="#0e1620" shape-rendering="crispEdges"/>
<rect x="312.41" y="319.92" width="5.29" height="5.28" fill="#0c3e46" shape-rendering="crispEdges"/>
<rect x="233.10" y="325.20" width="5.29" height="5.28" fill="#f3e41c" shape-rendering="crispEdges"/>
<rect x="238.39" y="325.20" width="5.29" height="5.28" fill="#177c86" shape-rendering="crispEdges"/>
<rect x="243.67" y="325.20" width="5.29" height="5.28" fill="#4a4212" shape-rendering="crispEdges"/>
<rect x="248.96" y="325.20" width="5.29" height="5.28" fill="#177c86" shape-rendering="crispEdges"/>
<rect x="254.25" y="325.20" width="5.29" height="5.28" fill="#0e1620" shape-rendering="crispEdges"/>
<rect x="259.54" y="325.20" width="5.29" height="5.28" fill="#4a4212" shape-rendering="crispEdges"/>
<rect x="264.82" y="325.20" width="5.29" height="5.28" fill="#958914" shape-rendering="crispEdges"/>
<rect x="270.11" y="325.20" width="5.29" height="5.28" fill="#4a4212" shape-rendering="crispEdges"/>
<rect x="275.40" y="325.20" width="5.29" height="5.28" fill="#958914" shape-rendering="crispEdges"/>
<rect x="280.69" y="325.20" width="5.29" height="5.28" fill="#0e1620" shape-rendering="crispEdges"/>
<rect x="285.98" y="325.20" width="5.29" height="5.28" fill="#1f9eaa" shape-rendering="crispEdges"/>
<rect x="291.26" y="325.20" width="5.29" height="5.28" fill="#0e1620" shape-rendering="crispEdges"/>
<rect x="296.55" y="325.20" width="5.29" height="5.28" fill="#0e1620" shape-rendering="crispEdges"/>
<rect x="301.84" y="325.20" width="5.29" height="5.28" fill="#4a4212" shape-rendering="crispEdges"/>
<rect x="307.12" y="325.20" width="5.29" height="5.28" fill="#4a4212" shape-rendering="crispEdges"/>
<rect x="312.41" y="325.20" width="5.29" height="5.28" fill="#0c3e46" shape-rendering="crispEdges"/>
<rect x="233.10" y="330.48" width="5.29" height="5.28" fill="#f3e41c" shape-rendering="crispEdges"/>
<rect x="238.39" y="330.48" width="5.29" height="5.28" fill="#0e1620" shape-rendering="crispEdges"/>
<rect x="243.67" y="330.48" width="5.29" height="5.28" fill="#4a4212" shape-rendering="crispEdges"/>
<rect x="248.96" y="330.48" width="5.29" height="5.28" fill="#0e1620" shape-rendering="crispEdges"/>
<rect x="254.25" y="330.48" width="5.29" height="5.28" fill="#0e1620" shape-rendering="crispEdges"/>
<rect x="259.54" y="330.48" width="5.29" height="5.28" fill="#f3e41c" shape-rendering="crispEdges"/>
<rect x="264.82" y="330.48" width="5.29" height="5.28" fill="#958914" shape-rendering="crispEdges"/>
<rect x="270.11" y="330.48" width="5.29" height="5.28" fill="#958914" shape-rendering="crispEdges"/>
<rect x="275.40" y="330.48" width="5.29" height="5.28" fill="#958914" shape-rendering="crispEdges"/>
<rect x="280.69" y="330.48" width="5.29" height="5.28" fill="#0e1620" shape-rendering="crispEdges"/>
<rect x="285.98" y="330.48" width="5.29" height="5.28" fill="#958914" shape-rendering="crispEdges"/>
<rect x="291.26" y="330.48" width="5.29" height="5.28" fill="#0e1620" shape-rendering="crispEdges"/>
<rect x="296.55" y="330.48" width="5.29" height="5.28" fill="#125c64" shape-rendering="crispEdges"/>
<rect x="301.84" y="330.48" width="5.29" height="5.28" fill="#0e1620" shape-rendering="crispEdges"/>
<rect x="307.12" y="330.48" width="5.29" height="5.28" fill="#4a4212" shape-rendering="crispEdges"/>
<rect x="312.41" y="330.48" width="5.29" height="5.28" fill="#0c3e46" shape-rendering="crispEdges"/>
<rect x="233.10" y="335.76" width="5.29" height="5.28" fill="#4a4212" shape-rendering="crispEdges"/>
<rect x="238.39" y="335.76" width="5.29" height="5.28" fill="#4a4212" shape-rendering="crispEdges"/>
<rect x="243.67" y="335.76" width="5.29" height="5.28" fill="#0e1620" shape-rendering="crispEdges"/>
<rect x="248.96" y="335.76" width="5.29" height="5.28" fill="#f3e41c" shape-rendering="crispEdges"/>
<rect x="254.25" y="335.76" width="5.29" height="5.28" fill="#4a4212" shape-rendering="crispEdges"/>
<rect x="259.54" y="335.76" width="5.29" height="5.28" fill="#f3e41c" shape-rendering="crispEdges"/>
<rect x="264.82" y="335.76" width="5.29" height="5.28" fill="#f3e41c" shape-rendering="crispEdges"/>
<rect x="270.11" y="335.76" width="5.29" height="5.28" fill="#cdbf1b" shape-rendering="crispEdges"/>
<rect x="275.40" y="335.76" width="5.29" height="5.28" fill="#958914" shape-rendering="crispEdges"/>
<rect x="280.69" y="335.76" width="5.29" height="5.28" fill="#958914" shape-rendering="crispEdges"/>
<rect x="285.98" y="335.76" width="5.29" height="5.28" fill="#958914" shape-rendering="crispEdges"/>
<rect x="291.26" y="335.76" width="5.29" height="5.28" fill="#0c3e46" shape-rendering="crispEdges"/>
<rect x="296.55" y="335.76" width="5.29" height="5.28" fill="#0e1620" shape-rendering="crispEdges"/>
<rect x="301.84" y="335.76" width="5.29" height="5.28" fill="#125c64" shape-rendering="crispEdges"/>
<rect x="307.12" y="335.76" width="5.29" height="5.28" fill="#4a4212" shape-rendering="crispEdges"/>
<rect x="312.41" y="335.76" width="5.29" height="5.28" fill="#cdbf1b" shape-rendering="crispEdges"/>
<rect x="233.10" y="341.04" width="5.29" height="5.28" fill="#4a4212" shape-rendering="crispEdges"/>
<rect x="238.39" y="341.04" width="5.29" height="5.28" fill="#0e1620" shape-rendering="crispEdges"/>
<rect x="243.67" y="341.04" width="5.29" height="5.28" fill="#0e1620" shape-rendering="crispEdges"/>
<rect x="248.96" y="341.04" width="5.29" height="5.28" fill="#0e1620" shape-rendering="crispEdges"/>
<rect x="254.25" y="341.04" width="5.29" height="5.28" fill="#0e1620" shape-rendering="crispEdges"/>
<rect x="259.54" y="341.04" width="5.29" height="5.28" fill="#f3e41c" shape-rendering="crispEdges"/>
<rect x="264.82" y="341.04" width="5.29" height="5.28" fill="#958914" shape-rendering="crispEdges"/>
<rect x="270.11" y="341.04" width="5.29" height="5.28" fill="#cdbf1b" shape-rendering="crispEdges"/>
<rect x="275.40" y="341.04" width="5.29" height="5.28" fill="#4a4212" shape-rendering="crispEdges"/>
<rect x="280.69" y="341.04" width="5.29" height="5.28" fill="#0e1620" shape-rendering="crispEdges"/>
<rect x="285.98" y="341.04" width="5.29" height="5.28" fill="#0e1620" shape-rendering="crispEdges"/>
<rect x="291.26" y="341.04" width="5.29" height="5.28" fill="#0c3e46" shape-rendering="crispEdges"/>
<rect x="296.55" y="341.04" width="5.29" height="5.28" fill="#125c64" shape-rendering="crispEdges"/>
<rect x="301.84" y="341.04" width="5.29" height="5.28" fill="#125c64" shape-rendering="crispEdges"/>
<rect x="307.12" y="341.04" width="5.29" height="5.28" fill="#4a4212" shape-rendering="crispEdges"/>
<rect x="312.41" y="341.04" width="5.29" height="5.28" fill="#958914" shape-rendering="crispEdges"/>
<rect x="233.10" y="346.32" width="5.29" height="5.28" fill="#0e1620" shape-rendering="crispEdges"/>
<rect x="238.39" y="346.32" width="5.29" height="5.28" fill="#0e1620" shape-rendering="crispEdges"/>
<rect x="243.67" y="346.32" width="5.29" height="5.28" fill="#0e1620" shape-rendering="crispEdges"/>
<rect x="248.96" y="346.32" width="5.29" height="5.28" fill="#958914" shape-rendering="crispEdges"/>
<rect x="254.25" y="346.32" width="5.29" height="5.28" fill="#958914" shape-rendering="crispEdges"/>
<rect x="259.54" y="346.32" width="5.29" height="5.28" fill="#f3e41c" shape-rendering="crispEdges"/>
<rect x="264.82" y="346.32" width="5.29" height="5.28" fill="#958914" shape-rendering="crispEdges"/>
<rect x="270.11" y="346.32" width="5.29" height="5.28" fill="#f3e41c" shape-rendering="crispEdges"/>
<rect x="275.40" y="346.32" width="5.29" height="5.28" fill="#0e1620" shape-rendering="crispEdges"/>
<rect x="280.69" y="346.32" width="5.29" height="5.28" fill="#0e1620" shape-rendering="crispEdges"/>
<rect x="285.98" y="346.32" width="5.29" height="5.28" fill="#0e1620" shape-rendering="crispEdges"/>
<rect x="291.26" y="346.32" width="5.29" height="5.28" fill="#0e1620" shape-rendering="crispEdges"/>
<rect x="296.55" y="346.32" width="5.29" height="5.28" fill="#125c64" shape-rendering="crispEdges"/>
<rect x="301.84" y="346.32" width="5.29" height="5.28" fill="#125c64" shape-rendering="crispEdges"/>
<rect x="307.12" y="346.32" width="5.29" height="5.28" fill="#0e1620" shape-rendering="crispEdges"/>
<rect x="312.41" y="346.32" width="5.29" height="5.28" fill="#0e1620" shape-rendering="crispEdges"/>
<rect x="233.10" y="351.60" width="5.29" height="5.28" fill="#0c3e46" shape-rendering="crispEdges"/>
<rect x="238.39" y="351.60" width="5.29" height="5.28" fill="#0e1620" shape-rendering="crispEdges"/>
<rect x="243.67" y="351.60" width="5.29" height="5.28" fill="#0c3e46" shape-rendering="crispEdges"/>
<rect x="248.96" y="351.60" width="5.29" height="5.28" fill="#4a4212" shape-rendering="crispEdges"/>
<rect x="254.25" y="351.60" width="5.29" height="5.28" fill="#4a4212" shape-rendering="crispEdges"/>
<rect x="259.54" y="351.60" width="5.29" height="5.28" fill="#4a4212" shape-rendering="crispEdges"/>
<rect x="264.82" y="351.60" width="5.29" height="5.28" fill="#f3e41c" shape-rendering="crispEdges"/>
<rect x="270.11" y="351.60" width="5.29" height="5.28" fill="#f3e41c" shape-rendering="crispEdges"/>
<rect x="275.40" y="351.60" width="5.29" height="5.28" fill="#f3e41c" shape-rendering="crispEdges"/>
<rect x="280.69" y="351.60" width="5.29" height="5.28" fill="#cdbf1b" shape-rendering="crispEdges"/>
<rect x="285.98" y="351.60" width="5.29" height="5.28" fill="#0c3e46" shape-rendering="crispEdges"/>
<rect x="291.26" y="351.60" width="5.29" height="5.28" fill="#0e1620" shape-rendering="crispEdges"/>
<rect x="296.55" y="351.60" width="5.29" height="5.28" fill="#0c3e46" shape-rendering="crispEdges"/>
<rect x="301.84" y="351.60" width="5.29" height="5.28" fill="#0e1620" shape-rendering="crispEdges"/>
<rect x="307.12" y="351.60" width="5.29" height="5.28" fill="#0e1620" shape-rendering="crispEdges"/>
<rect x="312.41" y="351.60" width="5.29" height="5.28" fill="#f3e41c" shape-rendering="crispEdges"/>
<rect x="233.10" y="356.88" width="5.29" height="5.28" fill="#4a4212" shape-rendering="crispEdges"/>
<rect x="238.39" y="356.88" width="5.29" height="5.28" fill="#0e1620" shape-rendering="crispEdges"/>
<rect x="243.67" y="356.88" width="5.29" height="5.28" fill="#125c64" shape-rendering="crispEdges"/>
<rect x="248.96" y="356.88" width="5.29" height="5.28" fill="#0e1620" shape-rendering="crispEdges"/>
<rect x="254.25" y="356.88" width="5.29" height="5.28" fill="#4a4212" shape-rendering="crispEdges"/>
<rect x="259.54" y="356.88" width="5.29" height="5.28" fill="#0e1620" shape-rendering="crispEdges"/>
<rect x="264.82" y="356.88" width="5.29" height="5.28" fill="#f3e41c" shape-rendering="crispEdges"/>
<rect x="270.11" y="356.88" width="5.29" height="5.28" fill="#f3e41c" shape-rendering="crispEdges"/>
<rect x="275.40" y="356.88" width="5.29" height="5.28" fill="#0e1620" shape-rendering="crispEdges"/>
<rect x="280.69" y="356.88" width="5.29" height="5.28" fill="#4a4212" shape-rendering="crispEdges"/>
<rect x="285.98" y="356.88" width="5.29" height="5.28" fill="#0e1620" shape-rendering="crispEdges"/>
<rect x="291.26" y="356.88" width="5.29" height="5.28" fill="#0e1620" shape-rendering="crispEdges"/>
<rect x="296.55" y="356.88" width="5.29" height="5.28" fill="#0c3e46" shape-rendering="crispEdges"/>
<rect x="301.84" y="356.88" width="5.29" height="5.28" fill="#0e1620" shape-rendering="crispEdges"/>
<rect x="307.12" y="356.88" width="5.29" height="5.28" fill="#0e1620" shape-rendering="crispEdges"/>
<rect x="312.41" y="356.88" width="5.29" height="5.28" fill="#0e1620" shape-rendering="crispEdges"/>
<rect x="233.10" y="362.16" width="5.29" height="5.28" fill="#4a4212" shape-rendering="crispEdges"/>
<rect x="238.39" y="362.16" width="5.29" height="5.28" fill="#0c3e46" shape-rendering="crispEdges"/>
<rect x="243.67" y="362.16" width="5.29" height="5.28" fill="#125c64" shape-rendering="crispEdges"/>
<rect x="248.96" y="362.16" width="5.29" height="5.28" fill="#0e1620" shape-rendering="crispEdges"/>
<rect x="254.25" y="362.16" width="5.29" height="5.28" fill="#0e1620" shape-rendering="crispEdges"/>
<rect x="259.54" y="362.16" width="5.29" height="5.28" fill="#958914" shape-rendering="crispEdges"/>
<rect x="264.82" y="362.16" width="5.29" height="5.28" fill="#f3e41c" shape-rendering="crispEdges"/>
<rect x="270.11" y="362.16" width="5.29" height="5.28" fill="#f3e41c" shape-rendering="crispEdges"/>
<rect x="275.40" y="362.16" width="5.29" height="5.28" fill="#958914" shape-rendering="crispEdges"/>
<rect x="280.69" y="362.16" width="5.29" height="5.28" fill="#0e1620" shape-rendering="crispEdges"/>
<rect x="285.98" y="362.16" width="5.29" height="5.28" fill="#0c3e46" shape-rendering="crispEdges"/>
<rect x="291.26" y="362.16" width="5.29" height="5.28" fill="#0e1620" shape-rendering="crispEdges"/>
<rect x="296.55" y="362.16" width="5.29" height="5.28" fill="#125c64" shape-rendering="crispEdges"/>
<rect x="301.84" y="362.16" width="5.29" height="5.28" fill="#125c64" shape-rendering="crispEdges"/>
<rect x="307.12" y="362.16" width="5.29" height="5.28" fill="#0e1620" shape-rendering="crispEdges"/>
<rect x="312.41" y="362.16" width="5.29" height="5.28" fill="#958914" shape-rendering="crispEdges"/>
<rect x="233.10" y="367.44" width="5.29" height="5.28" fill="#0c3e46" shape-rendering="crispEdges"/>
<rect x="238.39" y="367.44" width="5.29" height="5.28" fill="#0e1620" shape-rendering="crispEdges"/>
<rect x="243.67" y="367.44" width="5.29" height="5.28" fill="#0e1620" shape-rendering="crispEdges"/>
<rect x="248.96" y="367.44" width="5.29" height="5.28" fill="#0e1620" shape-rendering="crispEdges"/>
<rect x="254.25" y="367.44" width="5.29" height="5.28" fill="#0e1620" shape-rendering="crispEdges"/>
<rect x="259.54" y="367.44" width="5.29" height="5.28" fill="#4a4212" shape-rendering="crispEdges"/>
<rect x="264.82" y="367.44" width="5.29" height="5.28" fill="#4a4212" shape-rendering="crispEdges"/>
<rect x="270.11" y="367.44" width="5.29" height="5.28" fill="#cdbf1b" shape-rendering="crispEdges"/>
<rect x="275.40" y="367.44" width="5.29" height="5.28" fill="#0e1620" shape-rendering="crispEdges"/>
<rect x="280.69" y="367.44" width="5.29" height="5.28" fill="#f3e41c" shape-rendering="crispEdges"/>
<rect x="285.98" y="367.44" width="5.29" height="5.28" fill="#0e1620" shape-rendering="crispEdges"/>
<rect x="291.26" y="367.44" width="5.29" height="5.28" fill="#0e1620" shape-rendering="crispEdges"/>
<rect x="296.55" y="367.44" width="5.29" height="5.28" fill="#0e1620" shape-rendering="crispEdges"/>
<rect x="301.84" y="367.44" width="5.29" height="5.28" fill="#0c3e46" shape-rendering="crispEdges"/>
<rect x="307.12" y="367.44" width="5.29" height="5.28" fill="#0e1620" shape-rendering="crispEdges"/>
<rect x="312.41" y="367.44" width="5.29" height="5.28" fill="#cdbf1b" shape-rendering="crispEdges"/>
<rect x="233.10" y="372.72" width="5.29" height="5.28" fill="#958914" shape-rendering="crispEdges"/>
<rect x="238.39" y="372.72" width="5.29" height="5.28" fill="#cdbf1b" shape-rendering="crispEdges"/>
<rect x="243.67" y="372.72" width="5.29" height="5.28" fill="#cdbf1b" shape-rendering="crispEdges"/>
<rect x="248.96" y="372.72" width="5.29" height="5.28" fill="#0e1620" shape-rendering="crispEdges"/>
<rect x="254.25" y="372.72" width="5.29" height="5.28" fill="#958914" shape-rendering="crispEdges"/>
<rect x="259.54" y="372.72" width="5.29" height="5.28" fill="#f3e41c" shape-rendering="crispEdges"/>
<rect x="264.82" y="372.72" width="5.29" height="5.28" fill="#0e1620" shape-rendering="crispEdges"/>
<rect x="270.11" y="372.72" width="5.29" height="5.28" fill="#cdbf1b" shape-rendering="crispEdges"/>
<rect x="275.40" y="372.72" width="5.29" height="5.28" fill="#0e1620" shape-rendering="crispEdges"/>
<rect x="280.69" y="372.72" width="5.29" height="5.28" fill="#4a4212" shape-rendering="crispEdges"/>
<rect x="285.98" y="372.72" width="5.29" height="5.28" fill="#125c64" shape-rendering="crispEdges"/>
<rect x="291.26" y="372.72" width="5.29" height="5.28" fill="#125c64" shape-rendering="crispEdges"/>
<rect x="296.55" y="372.72" width="5.29" height="5.28" fill="#f3e41c" shape-rendering="crispEdges"/>
<rect x="301.84" y="372.72" width="5.29" height="5.28" fill="#0e1620" shape-rendering="crispEdges"/>
<rect x="307.12" y="372.72" width="5.29" height="5.28" fill="#0e1620" shape-rendering="crispEdges"/>
<rect x="312.41" y="372.72" width="5.29" height="5.28" fill="#958914" shape-rendering="crispEdges"/>
<rect x="233.10" y="378.00" width="5.29" height="5.28" fill="#0c3e46" shape-rendering="crispEdges"/>
<rect x="238.39" y="378.00" width="5.29" height="5.28" fill="#958914" shape-rendering="crispEdges"/>
<rect x="243.67" y="378.00" width="5.29" height="5.28" fill="#958914" shape-rendering="crispEdges"/>
<rect x="248.96" y="378.00" width="5.29" height="5.28" fill="#f3e41c" shape-rendering="crispEdges"/>
<rect x="254.25" y="378.00" width="5.29" height="5.28" fill="#cdbf1b" shape-rendering="crispEdges"/>
<rect x="259.54" y="378.00" width="5.29" height="5.28" fill="#958914" shape-rendering="crispEdges"/>
<rect x="264.82" y="378.00" width="5.29" height="5.28" fill="#0e1620" shape-rendering="crispEdges"/>
<rect x="270.11" y="378.00" width="5.29" height="5.28" fill="#0e1620" shape-rendering="crispEdges"/>
<rect x="275.40" y="378.00" width="5.29" height="5.28" fill="#0e1620" shape-rendering="crispEdges"/>
<rect x="280.69" y="378.00" width="5.29" height="5.28" fill="#125c64" shape-rendering="crispEdges"/>
<rect x="285.98" y="378.00" width="5.29" height="5.28" fill="#125c64" shape-rendering="crispEdges"/>
<rect x="291.26" y="378.00" width="5.29" height="5.28" fill="#125c64" shape-rendering="crispEdges"/>
<rect x="296.55" y="378.00" width="5.29" height="5.28" fill="#4a4212" shape-rendering="crispEdges"/>
<rect x="301.84" y="378.00" width="5.29" height="5.28" fill="#125c64" shape-rendering="crispEdges"/>
<rect x="307.12" y="378.00" width="5.29" height="5.28" fill="#4a4212" shape-rendering="crispEdges"/>
<rect x="312.41" y="378.00" width="5.29" height="5.28" fill="#125c64" shape-rendering="crispEdges"/>
<rect x="233.10" y="383.28" width="5.29" height="5.28" fill="#958914" shape-rendering="crispEdges"/>
<rect x="238.39" y="383.28" width="5.29" height="5.28" fill="#0e1620" shape-rendering="crispEdges"/>
<rect x="243.67" y="383.28" width="5.29" height="5.28" fill="#0e1620" shape-rendering="crispEdges"/>
<rect x="248.96" y="383.28" width="5.29" height="5.28" fill="#0e1620" shape-rendering="crispEdges"/>
<rect x="254.25" y="383.28" width="5.29" height="5.28" fill="#0e1620" shape-rendering="crispEdges"/>
<rect x="259.54" y="383.28" width="5.29" height="5.28" fill="#cdbf1b" shape-rendering="crispEdges"/>
<rect x="264.82" y="383.28" width="5.29" height="5.28" fill="#0c3e46" shape-rendering="crispEdges"/>
<rect x="270.11" y="383.28" width="5.29" height="5.28" fill="#0e1620" shape-rendering="crispEdges"/>
<rect x="275.40" y="383.28" width="5.29" height="5.28" fill="#0e1620" shape-rendering="crispEdges"/>
<rect x="280.69" y="383.28" width="5.29" height="5.28" fill="#0e1620" shape-rendering="crispEdges"/>
<rect x="285.98" y="383.28" width="5.29" height="5.28" fill="#0c3e46" shape-rendering="crispEdges"/>
<rect x="291.26" y="383.28" width="5.29" height="5.28" fill="#0c3e46" shape-rendering="crispEdges"/>
<rect x="296.55" y="383.28" width="5.29" height="5.28" fill="#125c64" shape-rendering="crispEdges"/>
<rect x="301.84" y="383.28" width="5.29" height="5.28" fill="#0e1620" shape-rendering="crispEdges"/>
<rect x="307.12" y="383.28" width="5.29" height="5.28" fill="#0e1620" shape-rendering="crispEdges"/>
<rect x="312.41" y="383.28" width="5.29" height="5.28" fill="#0e1620" shape-rendering="crispEdges"/>
<rect x="233.10" y="388.56" width="5.29" height="5.28" fill="#0e1620" shape-rendering="crispEdges"/>
<rect x="238.39" y="388.56" width="5.29" height="5.28" fill="#0e1620" shape-rendering="crispEdges"/>
<rect x="243.67" y="388.56" width="5.29" height="5.28" fill="#0c3e46" shape-rendering="crispEdges"/>
<rect x="248.96" y="388.56" width="5.29" height="5.28" fill="#0e1620" shape-rendering="crispEdges"/>
<rect x="254.25" y="388.56" width="5.29" height="5.28" fill="#0e1620" shape-rendering="crispEdges"/>
<rect x="259.54" y="388.56" width="5.29" height="5.28" fill="#958914" shape-rendering="crispEdges"/>
<rect x="264.82" y="388.56" width="5.29" height="5.28" fill="#0c3e46" shape-rendering="crispEdges"/>
<rect x="270.11" y="388.56" width="5.29" height="5.28" fill="#f3e41c" shape-rendering="crispEdges"/>
<rect x="275.40" y="388.56" width="5.29" height="5.28" fill="#0e1620" shape-rendering="crispEdges"/>
<rect x="280.69" y="388.56" width="5.29" height="5.28" fill="#0e1620" shape-rendering="crispEdges"/>
<rect x="285.98" y="388.56" width="5.29" height="5.28" fill="#125c64" shape-rendering="crispEdges"/>
<rect x="291.26" y="388.56" width="5.29" height="5.28" fill="#0c3e46" shape-rendering="crispEdges"/>
<rect x="296.55" y="388.56" width="5.29" height="5.28" fill="#0e1620" shape-rendering="crispEdges"/>
<rect x="301.84" y="388.56" width="5.29" height="5.28" fill="#0c3e46" shape-rendering="crispEdges"/>
<rect x="307.12" y="388.56" width="5.29" height="5.28" fill="#0e1620" shape-rendering="crispEdges"/>
<rect x="312.41" y="388.56" width="5.29" height="5.28" fill="#cdbf1b" shape-rendering="crispEdges"/>
<rect x="233.10" y="393.84" width="5.29" height="5.28" fill="#125c64" shape-rendering="crispEdges"/>
<rect x="238.39" y="393.84" width="5.29" height="5.28" fill="#0c3e46" shape-rendering="crispEdges"/>
<rect x="243.67" y="393.84" width="5.29" height="5.28" fill="#cdbf1b" shape-rendering="crispEdges"/>
<rect x="248.96" y="393.84" width="5.29" height="5.28" fill="#0e1620" shape-rendering="crispEdges"/>
<rect x="254.25" y="393.84" width="5.29" height="5.28" fill="#0e1620" shape-rendering="crispEdges"/>
<rect x="259.54" y="393.84" width="5.29" height="5.28" fill="#0e1620" shape-rendering="crispEdges"/>
<rect x="264.82" y="393.84" width="5.29" height="5.28" fill="#125c64" shape-rendering="crispEdges"/>
<rect x="270.11" y="393.84" width="5.29" height="5.28" fill="#958914" shape-rendering="crispEdges"/>
<rect x="275.40" y="393.84" width="5.29" height="5.28" fill="#958914" shape-rendering="crispEdges"/>
<rect x="280.69" y="393.84" width="5.29" height="5.28" fill="#4a4212" shape-rendering="crispEdges"/>
<rect x="285.98" y="393.84" width="5.29" height="5.28" fill="#0c3e46" shape-rendering="crispEdges"/>
<rect x="291.26" y="393.84" width="5.29" height="5.28" fill="#0e1620" shape-rendering="crispEdges"/>
<rect x="296.55" y="393.84" width="5.29" height="5.28" fill="#0c3e46" shape-rendering="crispEdges"/>
<rect x="301.84" y="393.84" width="5.29" height="5.28" fill="#125c64" shape-rendering="crispEdges"/>
<rect x="307.12" y="393.84" width="5.29" height="5.28" fill="#0e1620" shape-rendering="crispEdges"/>
<rect x="312.41" y="393.84" width="5.29" height="5.28" fill="#177c86" shape-rendering="crispEdges"/>
<rect x="233.10" y="399.12" width="5.29" height="5.28" fill="#8cd2d8" shape-rendering="crispEdges"/>
<rect x="238.39" y="399.12" width="5.29" height="5.28" fill="#0d4a52" shape-rendering="crispEdges"/>
<rect x="243.67" y="399.12" width="5.29" height="5.28" fill="#3cb2bc" shape-rendering="crispEdges"/>
<rect x="248.96" y="399.12" width="5.29" height="5.28" fill="#156e78" shape-rendering="crispEdges"/>
<rect x="254.25" y="399.12" width="5.29" height="5.28" fill="#3cb2bc" shape-rendering="crispEdges"/>
<rect x="259.54" y="399.12" width="5.29" height="5.28" fill="#6e5e14" shape-rendering="crispEdges"/>
<rect x="264.82" y="399.12" width="5.29" height="5.28" fill="#3cb2bc" shape-rendering="crispEdges"/>
<rect x="270.11" y="399.12" width="5.29" height="5.28" fill="#1f8e9a" shape-rendering="crispEdges"/>
<rect x="275.40" y="399.12" width="5.29" height="5.28" fill="#d4c41a" shape-rendering="crispEdges"/>
<rect x="280.69" y="399.12" width="5.29" height="5.28" fill="#a49418" shape-rendering="crispEdges"/>
<rect x="285.98" y="399.12" width="5.29" height="5.28" fill="#d4c41a" shape-rendering="crispEdges"/>
<rect x="291.26" y="399.12" width="5.29" height="5.28" fill="#d4c41a" shape-rendering="crispEdges"/>
<rect x="296.55" y="399.12" width="5.29" height="5.28" fill="#121a24" shape-rendering="crispEdges"/>
<rect x="301.84" y="399.12" width="5.29" height="5.28" fill="#0d4a52" shape-rendering="crispEdges"/>
<rect x="307.12" y="399.12" width="5.29" height="5.28" fill="#121a24" shape-rendering="crispEdges"/>
<rect x="312.41" y="399.12" width="5.29" height="5.28" fill="#0d4a52" shape-rendering="crispEdges"/>
<rect x="233.10" y="404.40" width="5.29" height="5.28" fill="#0d4a52" shape-rendering="crispEdges"/>
<rect x="238.39" y="404.40" width="5.29" height="5.28" fill="#d4c41a" shape-rendering="crispEdges"/>
<rect x="243.67" y="404.40" width="5.29" height="5.28" fill="#1f8e9a" shape-rendering="crispEdges"/>
<rect x="248.96" y="404.40" width="5.29" height="5.28" fill="#121a24" shape-rendering="crispEdges"/>
<rect x="254.25" y="404.40" width="5.29" height="5.28" fill="#3cb2bc" shape-rendering="crispEdges"/>
<rect x="259.54" y="404.40" width="5.29" height="5.28" fill="#0d4a52" shape-rendering="crispEdges"/>
<rect x="264.82" y="404.40" width="5.29" height="5.28" fill="#1f8e9a" shape-rendering="crispEdges"/>
<rect x="270.11" y="404.40" width="5.29" height="5.28" fill="#1f8e9a" shape-rendering="crispEdges"/>
<rect x="275.40" y="404.40" width="5.29" height="5.28" fill="#6e5e14" shape-rendering="crispEdges"/>
<rect x="280.69" y="404.40" width="5.29" height="5.28" fill="#6e5e14" shape-rendering="crispEdges"/>
<rect x="285.98" y="404.40" width="5.29" height="5.28" fill="#1f8e9a" shape-rendering="crispEdges"/>
<rect x="291.26" y="404.40" width="5.29" height="5.28" fill="#121a24" shape-rendering="crispEdges"/>
<rect x="296.55" y="404.40" width="5.29" height="5.28" fill="#121a24" shape-rendering="crispEdges"/>
<rect x="301.84" y="404.40" width="5.29" height="5.28" fill="#156e78" shape-rendering="crispEdges"/>
<rect x="307.12" y="404.40" width="5.29" height="5.28" fill="#f4e416" shape-rendering="crispEdges"/>
<rect x="312.41" y="404.40" width="5.29" height="5.28" fill="#6e5e14" shape-rendering="crispEdges"/>
<rect x="233.10" y="409.68" width="5.29" height="5.28" fill="#156e78" shape-rendering="crispEdges"/>
<rect x="238.39" y="409.68" width="5.29" height="5.28" fill="#121a24" shape-rendering="crispEdges"/>
<rect x="243.67" y="409.68" width="5.29" height="5.28" fill="#156e78" shape-rendering="crispEdges"/>
<rect x="248.96" y="409.68" width="5.29" height="5.28" fill="#156e78" shape-rendering="crispEdges"/>
<rect x="254.25" y="409.68" width="5.29" height="5.28" fill="#156e78" shape-rendering="crispEdges"/>
<rect x="259.54" y="409.68" width="5.29" height="5.28" fill="#156e78" shape-rendering="crispEdges"/>
<rect x="264.82" y="409.68" width="5.29" height="5.28" fill="#1f8e9a" shape-rendering="crispEdges"/>
<rect x="270.11" y="409.68" width="5.29" height="5.28" fill="#0d4a52" shape-rendering="crispEdges"/>
<rect x="275.40" y="409.68" width="5.29" height="5.28" fill="#0d4a52" shape-rendering="crispEdges"/>
<rect x="280.69" y="409.68" width="5.29" height="5.28" fill="#6e5e14" shape-rendering="crispEdges"/>
<rect x="285.98" y="409.68" width="5.29" height="5.28" fill="#1f8e9a" shape-rendering="crispEdges"/>
<rect x="291.26" y="409.68" width="5.29" height="5.28" fill="#0d4a52" shape-rendering="crispEdges"/>
<rect x="296.55" y="409.68" width="5.29" height="5.28" fill="#a49418" shape-rendering="crispEdges"/>
<rect x="301.84" y="409.68" width="5.29" height="5.28" fill="#a49418" shape-rendering="crispEdges"/>
<rect x="307.12" y="409.68" width="5.29" height="5.28" fill="#156e78" shape-rendering="crispEdges"/>
<rect x="312.41" y="409.68" width="5.29" height="5.28" fill="#0d4a52" shape-rendering="crispEdges"/>
<rect x="233.10" y="414.96" width="5.29" height="5.28" fill="#0d4a52" shape-rendering="crispEdges"/>
<rect x="238.39" y="414.96" width="5.29" height="5.28" fill="#156e78" shape-rendering="crispEdges"/>
<rect x="243.67" y="414.96" width="5.29" height="5.28" fill="#156e78" shape-rendering="crispEdges"/>
<rect x="248.96" y="414.96" width="5.29" height="5.28" fill="#156e78" shape-rendering="crispEdges"/>
<rect x="254.25" y="414.96" width="5.29" height="5.28" fill="#1f8e9a" shape-rendering="crispEdges"/>
<rect x="259.54" y="414.96" width="5.29" height="5.28" fill="#1f8e9a" shape-rendering="crispEdges"/>
<rect x="264.82" y="414.96" width="5.29" height="5.28" fill="#156e78" shape-rendering="crispEdges"/>
<rect x="270.11" y="414.96" width="5.29" height="5.28" fill="#156e78" shape-rendering="crispEdges"/>
<rect x="275.40" y="414.96" width="5.29" height="5.28" fill="#156e78" shape-rendering="crispEdges"/>
<rect x="280.69" y="414.96" width="5.29" height="5.28" fill="#121a24" shape-rendering="crispEdges"/>
<rect x="285.98" y="414.96" width="5.29" height="5.28" fill="#1f8e9a" shape-rendering="crispEdges"/>
<rect x="291.26" y="414.96" width="5.29" height="5.28" fill="#0d4a52" shape-rendering="crispEdges"/>
<rect x="296.55" y="414.96" width="5.29" height="5.28" fill="#121a24" shape-rendering="crispEdges"/>
<rect x="301.84" y="414.96" width="5.29" height="5.28" fill="#121a24" shape-rendering="crispEdges"/>
<rect x="307.12" y="414.96" width="5.29" height="5.28" fill="#121a24" shape-rendering="crispEdges"/>
<rect x="312.41" y="414.96" width="5.29" height="5.28" fill="#1f8e9a" shape-rendering="crispEdges"/>
<rect x="233.10" y="420.24" width="5.29" height="5.28" fill="#0d4a52" shape-rendering="crispEdges"/>
<rect x="238.39" y="420.24" width="5.29" height="5.28" fill="#156e78" shape-rendering="crispEdges"/>
<rect x="243.67" y="420.24" width="5.29" height="5.28" fill="#156e78" shape-rendering="crispEdges"/>
<rect x="248.96" y="420.24" width="5.29" height="5.28" fill="#156e78" shape-rendering="crispEdges"/>
<rect x="254.25" y="420.24" width="5.29" height="5.28" fill="#156e78" shape-rendering="crispEdges"/>
<rect x="259.54" y="420.24" width="5.29" height="5.28" fill="#156e78" shape-rendering="crispEdges"/>
<rect x="264.82" y="420.24" width="5.29" height="5.28" fill="#156e78" shape-rendering="crispEdges"/>
<rect x="270.11" y="420.24" width="5.29" height="5.28" fill="#156e78" shape-rendering="crispEdges"/>
<rect x="275.40" y="420.24" width="5.29" height="5.28" fill="#0d4a52" shape-rendering="crispEdges"/>
<rect x="280.69" y="420.24" width="5.29" height="5.28" fill="#0d4a52" shape-rendering="crispEdges"/>
<rect x="285.98" y="420.24" width="5.29" height="5.28" fill="#0d4a52" shape-rendering="crispEdges"/>
<rect x="291.26" y="420.24" width="5.29" height="5.28" fill="#0d4a52" shape-rendering="crispEdges"/>
<rect x="296.55" y="420.24" width="5.29" height="5.28" fill="#0d4a52" shape-rendering="crispEdges"/>
<rect x="301.84" y="420.24" width="5.29" height="5.28" fill="#121a24" shape-rendering="crispEdges"/>
<rect x="307.12" y="420.24" width="5.29" height="5.28" fill="#0d4a52" shape-rendering="crispEdges"/>
<rect x="312.41" y="420.24" width="5.29" height="5.28" fill="#0d4a52" shape-rendering="crispEdges"/>
<rect x="233.10" y="425.52" width="5.29" height="5.28" fill="#121a24" shape-rendering="crispEdges"/>
<rect x="238.39" y="425.52" width="5.29" height="5.28" fill="#3cb2bc" shape-rendering="crispEdges"/>
<rect x="243.67" y="425.52" width="5.29" height="5.28" fill="#3cb2bc" shape-rendering="crispEdges"/>
<rect x="248.96" y="425.52" width="5.29" height="5.28" fill="#3cb2bc" shape-rendering="crispEdges"/>
<rect x="254.25" y="425.52" width="5.29" height="5.28" fill="#1f8e9a" shape-rendering="crispEdges"/>
<rect x="259.54" y="425.52" width="5.29" height="5.28" fill="#1f8e9a" shape-rendering="crispEdges"/>
<rect x="264.82" y="425.52" width="5.29" height="5.28" fill="#6e5e14" shape-rendering="crispEdges"/>
<rect x="270.11" y="425.52" width="5.29" height="5.28" fill="#1f8e9a" shape-rendering="crispEdges"/>
<rect x="275.40" y="425.52" width="5.29" height="5.28" fill="#1f8e9a" shape-rendering="crispEdges"/>
<rect x="280.69" y="425.52" width="5.29" height="5.28" fill="#1f8e9a" shape-rendering="crispEdges"/>
<rect x="285.98" y="425.52" width="5.29" height="5.28" fill="#1f8e9a" shape-rendering="crispEdges"/>
<rect x="291.26" y="425.52" width="5.29" height="5.28" fill="#1f8e9a" shape-rendering="crispEdges"/>
<rect x="296.55" y="425.52" width="5.29" height="5.28" fill="#1f8e9a" shape-rendering="crispEdges"/>
<rect x="301.84" y="425.52" width="5.29" height="5.28" fill="#121a24" shape-rendering="crispEdges"/>
<rect x="307.12" y="425.52" width="5.29" height="5.28" fill="#6e5e14" shape-rendering="crispEdges"/>
<rect x="312.41" y="425.52" width="5.29" height="5.28" fill="#d4c41a" shape-rendering="crispEdges"/>
<rect x="233.10" y="430.80" width="5.29" height="5.28" fill="#121a24" shape-rendering="crispEdges"/>
<rect x="238.39" y="430.80" width="5.29" height="5.28" fill="#1f8e9a" shape-rendering="crispEdges"/>
<rect x="243.67" y="430.80" width="5.29" height="5.28" fill="#1f8e9a" shape-rendering="crispEdges"/>
<rect x="248.96" y="430.80" width="5.29" height="5.28" fill="#1f8e9a" shape-rendering="crispEdges"/>
<rect x="254.25" y="430.80" width="5.29" height="5.28" fill="#1f8e9a" shape-rendering="crispEdges"/>
<rect x="259.54" y="430.80" width="5.29" height="5.28" fill="#1f8e9a" shape-rendering="crispEdges"/>
<rect x="264.82" y="430.80" width="5.29" height="5.28" fill="#a49418" shape-rendering="crispEdges"/>
<rect x="270.11" y="430.80" width="5.29" height="5.28" fill="#1f8e9a" shape-rendering="crispEdges"/>
<rect x="275.40" y="430.80" width="5.29" height="5.28" fill="#156e78" shape-rendering="crispEdges"/>
<rect x="280.69" y="430.80" width="5.29" height="5.28" fill="#1f8e9a" shape-rendering="crispEdges"/>
<rect x="285.98" y="430.80" width="5.29" height="5.28" fill="#0d4a52" shape-rendering="crispEdges"/>
<rect x="291.26" y="430.80" width="5.29" height="5.28" fill="#156e78" shape-rendering="crispEdges"/>
<rect x="296.55" y="430.80" width="5.29" height="5.28" fill="#156e78" shape-rendering="crispEdges"/>
<rect x="301.84" y="430.80" width="5.29" height="5.28" fill="#156e78" shape-rendering="crispEdges"/>
<rect x="307.12" y="430.80" width="5.29" height="5.28" fill="#6e5e14" shape-rendering="crispEdges"/>
<rect x="312.41" y="430.80" width="5.29" height="5.28" fill="#121a24" shape-rendering="crispEdges"/>
<rect x="233.10" y="436.08" width="5.29" height="5.28" fill="#156e78" shape-rendering="crispEdges"/>
<rect x="238.39" y="436.08" width="5.29" height="5.28" fill="#156e78" shape-rendering="crispEdges"/>
<rect x="243.67" y="436.08" width="5.29" height="5.28" fill="#6e5e14" shape-rendering="crispEdges"/>
<rect x="248.96" y="436.08" width="5.29" height="5.28" fill="#0d4a52" shape-rendering="crispEdges"/>
<rect x="254.25" y="436.08" width="5.29" height="5.28" fill="#156e78" shape-rendering="crispEdges"/>
<rect x="259.54" y="436.08" width="5.29" height="5.28" fill="#1f8e9a" shape-rendering="crispEdges"/>
<rect x="264.82" y="436.08" width="5.29" height="5.28" fill="#1f8e9a" shape-rendering="crispEdges"/>
<rect x="270.11" y="436.08" width="5.29" height="5.28" fill="#1f8e9a" shape-rendering="crispEdges"/>
<rect x="275.40" y="436.08" width="5.29" height="5.28" fill="#156e78" shape-rendering="crispEdges"/>
<rect x="280.69" y="436.08" width="5.29" height="5.28" fill="#156e78" shape-rendering="crispEdges"/>
<rect x="285.98" y="436.08" width="5.29" height="5.28" fill="#0d4a52" shape-rendering="crispEdges"/>
<rect x="291.26" y="436.08" width="5.29" height="5.28" fill="#1f8e9a" shape-rendering="crispEdges"/>
<rect x="296.55" y="436.08" width="5.29" height="5.28" fill="#6e5e14" shape-rendering="crispEdges"/>
<rect x="301.84" y="436.08" width="5.29" height="5.28" fill="#0d4a52" shape-rendering="crispEdges"/>
<rect x="307.12" y="436.08" width="5.29" height="5.28" fill="#1f8e9a" shape-rendering="crispEdges"/>
<rect x="312.41" y="436.08" width="5.29" height="5.28" fill="#1f8e9a" shape-rendering="crispEdges"/>
<rect x="323.50" y="272.40" width="5.25" height="5.28" fill="#cdbf1b" shape-rendering="crispEdges"/>
<rect x="328.75" y="272.40" width="5.25" height="5.28" fill="#0c3e46" shape-rendering="crispEdges"/>
<rect x="334.00" y="272.40" width="5.25" height="5.28" fill="#cdbf1b" shape-rendering="crispEdges"/>
<rect x="339.25" y="272.40" width="5.25" height="5.28" fill="#0c3e46" shape-rendering="crispEdges"/>
<rect x="344.50" y="272.40" width="5.25" height="5.28" fill="#0e1620" shape-rendering="crispEdges"/>
<rect x="349.75" y="272.40" width="5.25" height="5.28" fill="#0c3e46" shape-rendering="crispEdges"/>
<rect x="355.00" y="272.40" width="5.25" height="5.28" fill="#0c3e46" shape-rendering="crispEdges"/>
<rect x="360.25" y="272.40" width="5.25" height="5.28" fill="#0e1620" shape-rendering="crispEdges"/>
<rect x="323.50" y="277.68" width="5.25" height="5.28" fill="#0e1620" shape-rendering="crispEdges"/>
<rect x="328.75" y="277.68" width="5.25" height="5.28" fill="#125c64" shape-rendering="crispEdges"/>
<rect x="334.00" y="277.68" width="5.25" height="5.28" fill="#0e1620" shape-rendering="crispEdges"/>
<rect x="339.25" y="277.68" width="5.25" height="5.28" fill="#0c3e46" shape-rendering="crispEdges"/>
<rect x="344.50" y="277.68" width="5.25" height="5.28" fill="#0e1620" shape-rendering="crispEdges"/>
<rect x="349.75" y="277.68" width="5.25" height="5.28" fill="#0e1620" shape-rendering="crispEdges"/>
<rect x="355.00" y="277.68" width="5.25" height="5.28" fill="#0e1620" shape-rendering="crispEdges"/>
<rect x="360.25" y="277.68" width="5.25" height="5.28" fill="#0c3e46" shape-rendering="crispEdges"/>
<rect x="323.50" y="282.96" width="5.25" height="5.28" fill="#4a4212" shape-rendering="crispEdges"/>
<rect x="328.75" y="282.96" width="5.25" height="5.28" fill="#125c64" shape-rendering="crispEdges"/>
<rect x="334.00" y="282.96" width="5.25" height="5.28" fill="#4a4212" shape-rendering="crispEdges"/>
<rect x="339.25" y="282.96" width="5.25" height="5.28" fill="#0c3e46" shape-rendering="crispEdges"/>
<rect x="344.50" y="282.96" width="5.25" height="5.28" fill="#4a4212" shape-rendering="crispEdges"/>
<rect x="349.75" y="282.96" width="5.25" height="5.28" fill="#958914" shape-rendering="crispEdges"/>
<rect x="355.00" y="282.96" width="5.25" height="5.28" fill="#0e1620" shape-rendering="crispEdges"/>
<rect x="360.25" y="282.96" width="5.25" height="5.28" fill="#958914" shape-rendering="crispEdges"/>
<rect x="323.50" y="288.24" width="5.25" height="5.28" fill="#0c3e46" shape-rendering="crispEdges"/>
<rect x="328.75" y="288.24" width="5.25" height="5.28" fill="#125c64" shape-rendering="crispEdges"/>
<rect x="334.00" y="288.24" width="5.25" height="5.28" fill="#0e1620" shape-rendering="crispEdges"/>
<rect x="339.25" y="288.24" width="5.25" height="5.28" fill="#125c64" shape-rendering="crispEdges"/>
<rect x="344.50" y="288.24" width="5.25" height="5.28" fill="#cdbf1b" shape-rendering="crispEdges"/>
<rect x="349.75" y="288.24" width="5.25" height="5.28" fill="#0e1620" shape-rendering="crispEdges"/>
<rect x="355.00" y="288.24" width="5.25" height="5.28" fill="#f3e41c" shape-rendering="crispEdges"/>
<rect x="360.25" y="288.24" width="5.25" height="5.28" fill="#0e1620" shape-rendering="crispEdges"/>
<rect x="323.50" y="293.52" width="5.25" height="5.28" fill="#0e1620" shape-rendering="crispEdges"/>
<rect x="328.75" y="293.52" width="5.25" height="5.28" fill="#125c64" shape-rendering="crispEdges"/>
<rect x="334.00" y="293.52" width="5.25" height="5.28" fill="#125c64" shape-rendering="crispEdges"/>
<rect x="339.25" y="293.52" width="5.25" height="5.28" fill="#0e1620" shape-rendering="crispEdges"/>
<rect x="344.50" y="293.52" width="5.25" height="5.28" fill="#0c3e46" shape-rendering="crispEdges"/>
<rect x="349.75" y="293.52" width="5.25" height="5.28" fill="#4a4212" shape-rendering="crispEdges"/>
<rect x="355.00" y="293.52" width="5.25" height="5.28" fill="#0e1620" shape-rendering="crispEdges"/>
<rect x="360.25" y="293.52" width="5.25" height="5.28" fill="#0e1620" shape-rendering="crispEdges"/>
<rect x="323.50" y="298.80" width="5.25" height="5.28" fill="#958914" shape-rendering="crispEdges"/>
<rect x="328.75" y="298.80" width="5.25" height="5.28" fill="#125c64" shape-rendering="crispEdges"/>
<rect x="334.00" y="298.80" width="5.25" height="5.28" fill="#0e1620" shape-rendering="crispEdges"/>
<rect x="339.25" y="298.80" width="5.25" height="5.28" fill="#125c64" shape-rendering="crispEdges"/>
<rect x="344.50" y="298.80" width="5.25" height="5.28" fill="#125c64" shape-rendering="crispEdges"/>
<rect x="349.75" y="298.80" width="5.25" height="5.28" fill="#0c3e46" shape-rendering="crispEdges"/>
<rect x="355.00" y="298.80" width="5.25" height="5.28" fill="#0c3e46" shape-rendering="crispEdges"/>
<rect x="360.25" y="298.80" width="5.25" height="5.28" fill="#0e1620" shape-rendering="crispEdges"/>
<rect x="323.50" y="304.08" width="5.25" height="5.28" fill="#958914" shape-rendering="crispEdges"/>
<rect x="328.75" y="304.08" width="5.25" height="5.28" fill="#125c64" shape-rendering="crispEdges"/>
<rect x="334.00" y="304.08" width="5.25" height="5.28" fill="#0e1620" shape-rendering="crispEdges"/>
<rect x="339.25" y="304.08" width="5.25" height="5.28" fill="#125c64" shape-rendering="crispEdges"/>
<rect x="344.50" y="304.08" width="5.25" height="5.28" fill="#0c3e46" shape-rendering="crispEdges"/>
<rect x="349.75" y="304.08" width="5.25" height="5.28" fill="#125c64" shape-rendering="crispEdges"/>
<rect x="355.00" y="304.08" width="5.25" height="5.28" fill="#125c64" shape-rendering="crispEdges"/>
<rect x="360.25" y="304.08" width="5.25" height="5.28" fill="#cdbf1b" shape-rendering="crispEdges"/>
<rect x="323.50" y="309.36" width="5.25" height="5.28" fill="#0e1620" shape-rendering="crispEdges"/>
<rect x="328.75" y="309.36" width="5.25" height="5.28" fill="#0c3e46" shape-rendering="crispEdges"/>
<rect x="334.00" y="309.36" width="5.25" height="5.28" fill="#4a4212" shape-rendering="crispEdges"/>
<rect x="339.25" y="309.36" width="5.25" height="5.28" fill="#0c3e46" shape-rendering="crispEdges"/>
<rect x="344.50" y="309.36" width="5.25" height="5.28" fill="#0e1620" shape-rendering="crispEdges"/>
<rect x="349.75" y="309.36" width="5.25" height="5.28" fill="#0e1620" shape-rendering="crispEdges"/>
<rect x="355.00" y="309.36" width="5.25" height="5.28" fill="#0e1620" shape-rendering="crispEdges"/>
<rect x="360.25" y="309.36" width="5.25" height="5.28" fill="#4a4212" shape-rendering="crispEdges"/>
<rect x="323.50" y="314.64" width="5.25" height="5.28" fill="#f3e41c" shape-rendering="crispEdges"/>
<rect x="328.75" y="314.64" width="5.25" height="5.28" fill="#0c3e46" shape-rendering="crispEdges"/>
<rect x="334.00" y="314.64" width="5.25" height="5.28" fill="#0e1620" shape-rendering="crispEdges"/>
<rect x="339.25" y="314.64" width="5.25" height="5.28" fill="#0e1620" shape-rendering="crispEdges"/>
<rect x="344.50" y="314.64" width="5.25" height="5.28" fill="#0e1620" shape-rendering="crispEdges"/>
<rect x="349.75" y="314.64" width="5.25" height="5.28" fill="#0e1620" shape-rendering="crispEdges"/>
<rect x="355.00" y="314.64" width="5.25" height="5.28" fill="#0e1620" shape-rendering="crispEdges"/>
<rect x="360.25" y="314.64" width="5.25" height="5.28" fill="#0c3e46" shape-rendering="crispEdges"/>
<rect x="323.50" y="319.92" width="5.25" height="5.28" fill="#0e1620" shape-rendering="crispEdges"/>
<rect x="328.75" y="319.92" width="5.25" height="5.28" fill="#0e1620" shape-rendering="crispEdges"/>
<rect x="334.00" y="319.92" width="5.25" height="5.28" fill="#958914" shape-rendering="crispEdges"/>
<rect x="339.25" y="319.92" width="5.25" height="5.28" fill="#4a4212" shape-rendering="crispEdges"/>
<rect x="344.50" y="319.92" width="5.25" height="5.28" fill="#177c86" shape-rendering="crispEdges"/>
<rect x="349.75" y="319.92" width="5.25" height="5.28" fill="#0e1620" shape-rendering="crispEdges"/>
<rect x="355.00" y="319.92" width="5.25" height="5.28" fill="#0c3e46" shape-rendering="crispEdges"/>
<rect x="360.25" y="319.92" width="5.25" height="5.28" fill="#177c86" shape-rendering="crispEdges"/>
<rect x="323.50" y="325.20" width="5.25" height="5.28" fill="#f3e41c" shape-rendering="crispEdges"/>
<rect x="328.75" y="325.20" width="5.25" height="5.28" fill="#0c3e46" shape-rendering="crispEdges"/>
<rect x="334.00" y="325.20" width="5.25" height="5.28" fill="#0e1620" shape-rendering="crispEdges"/>
<rect x="339.25" y="325.20" width="5.25" height="5.28" fill="#125c64" shape-rendering="crispEdges"/>
<rect x="344.50" y="325.20" width="5.25" height="5.28" fill="#4a4212" shape-rendering="crispEdges"/>
<rect x="349.75" y="325.20" width="5.25" height="5.28" fill="#0e1620" shape-rendering="crispEdges"/>
<rect x="355.00" y="325.20" width="5.25" height="5.28" fill="#0e1620" shape-rendering="crispEdges"/>
<rect x="360.25" y="325.20" width="5.25" height="5.28" fill="#958914" shape-rendering="crispEdges"/>
<rect x="323.50" y="330.48" width="5.25" height="5.28" fill="#f3e41c" shape-rendering="crispEdges"/>
<rect x="328.75" y="330.48" width="5.25" height="5.28" fill="#0e1620" shape-rendering="crispEdges"/>
<rect x="334.00" y="330.48" width="5.25" height="5.28" fill="#0e1620" shape-rendering="crispEdges"/>
<rect x="339.25" y="330.48" width="5.25" height="5.28" fill="#177c86" shape-rendering="crispEdges"/>
<rect x="344.50" y="330.48" width="5.25" height="5.28" fill="#4a4212" shape-rendering="crispEdges"/>
<rect x="349.75" y="330.48" width="5.25" height="5.28" fill="#0e1620" shape-rendering="crispEdges"/>
<rect x="355.00" y="330.48" width="5.25" height="5.28" fill="#0e1620" shape-rendering="crispEdges"/>
<rect x="360.25" y="330.48" width="5.25" height="5.28" fill="#4a4212" shape-rendering="crispEdges"/>
<rect x="323.50" y="335.76" width="5.25" height="5.28" fill="#0c3e46" shape-rendering="crispEdges"/>
<rect x="328.75" y="335.76" width="5.25" height="5.28" fill="#0c3e46" shape-rendering="crispEdges"/>
<rect x="334.00" y="335.76" width="5.25" height="5.28" fill="#f3e41c" shape-rendering="crispEdges"/>
<rect x="339.25" y="335.76" width="5.25" height="5.28" fill="#958914" shape-rendering="crispEdges"/>
<rect x="344.50" y="335.76" width="5.25" height="5.28" fill="#125c64" shape-rendering="crispEdges"/>
<rect x="349.75" y="335.76" width="5.25" height="5.28" fill="#125c64" shape-rendering="crispEdges"/>
<rect x="355.00" y="335.76" width="5.25" height="5.28" fill="#0c3e46" shape-rendering="crispEdges"/>
<rect x="360.25" y="335.76" width="5.25" height="5.28" fill="#125c64" shape-rendering="crispEdges"/>
<rect x="323.50" y="341.04" width="5.25" height="5.28" fill="#0e1620" shape-rendering="crispEdges"/>
<rect x="328.75" y="341.04" width="5.25" height="5.28" fill="#0e1620" shape-rendering="crispEdges"/>
<rect x="334.00" y="341.04" width="5.25" height="5.28" fill="#f3e41c" shape-rendering="crispEdges"/>
<rect x="339.25" y="341.04" width="5.25" height="5.28" fill="#4a4212" shape-rendering="crispEdges"/>
<rect x="344.50" y="341.04" width="5.25" height="5.28" fill="#0e1620" shape-rendering="crispEdges"/>
<rect x="349.75" y="341.04" width="5.25" height="5.28" fill="#0e1620" shape-rendering="crispEdges"/>
<rect x="355.00" y="341.04" width="5.25" height="5.28" fill="#0c3e46" shape-rendering="crispEdges"/>
<rect x="360.25" y="341.04" width="5.25" height="5.28" fill="#0e1620" shape-rendering="crispEdges"/>
<rect x="323.50" y="346.32" width="5.25" height="5.28" fill="#958914" shape-rendering="crispEdges"/>
<rect x="328.75" y="346.32" width="5.25" height="5.28" fill="#0e1620" shape-rendering="crispEdges"/>
<rect x="334.00" y="346.32" width="5.25" height="5.28" fill="#f3e41c" shape-rendering="crispEdges"/>
<rect x="339.25" y="346.32" width="5.25" height="5.28" fill="#f3e41c" shape-rendering="crispEdges"/>
<rect x="344.50" y="346.32" width="5.25" height="5.28" fill="#125c64" shape-rendering="crispEdges"/>
<rect x="349.75" y="346.32" width="5.25" height="5.28" fill="#0c3e46" shape-rendering="crispEdges"/>
<rect x="355.00" y="346.32" width="5.25" height="5.28" fill="#0e1620" shape-rendering="crispEdges"/>
<rect x="360.25" y="346.32" width="5.25" height="5.28" fill="#0c3e46" shape-rendering="crispEdges"/>
<rect x="323.50" y="351.60" width="5.25" height="5.28" fill="#4a4212" shape-rendering="crispEdges"/>
<rect x="328.75" y="351.60" width="5.25" height="5.28" fill="#0e1620" shape-rendering="crispEdges"/>
<rect x="334.00" y="351.60" width="5.25" height="5.28" fill="#0e1620" shape-rendering="crispEdges"/>
<rect x="339.25" y="351.60" width="5.25" height="5.28" fill="#4a4212" shape-rendering="crispEdges"/>
<rect x="344.50" y="351.60" width="5.25" height="5.28" fill="#0c3e46" shape-rendering="crispEdges"/>
<rect x="349.75" y="351.60" width="5.25" height="5.28" fill="#0e1620" shape-rendering="crispEdges"/>
<rect x="355.00" y="351.60" width="5.25" height="5.28" fill="#0e1620" shape-rendering="crispEdges"/>
<rect x="360.25" y="351.60" width="5.25" height="5.28" fill="#0e1620" shape-rendering="crispEdges"/>
<rect x="323.50" y="356.88" width="5.25" height="5.28" fill="#cdbf1b" shape-rendering="crispEdges"/>
<rect x="328.75" y="356.88" width="5.25" height="5.28" fill="#0e1620" shape-rendering="crispEdges"/>
<rect x="334.00" y="356.88" width="5.25" height="5.28" fill="#cdbf1b" shape-rendering="crispEdges"/>
<rect x="339.25" y="356.88" width="5.25" height="5.28" fill="#0e1620" shape-rendering="crispEdges"/>
<rect x="344.50" y="356.88" width="5.25" height="5.28" fill="#0c3e46" shape-rendering="crispEdges"/>
<rect x="349.75" y="356.88" width="5.25" height="5.28" fill="#0e1620" shape-rendering="crispEdges"/>
<rect x="355.00" y="356.88" width="5.25" height="5.28" fill="#0e1620" shape-rendering="crispEdges"/>
<rect x="360.25" y="356.88" width="5.25" height="5.28" fill="#0c3e46" shape-rendering="crispEdges"/>
<rect x="323.50" y="362.16" width="5.25" height="5.28" fill="#f3e41c" shape-rendering="crispEdges"/>
<rect x="328.75" y="362.16" width="5.25" height="5.28" fill="#958914" shape-rendering="crispEdges"/>
<rect x="334.00" y="362.16" width="5.25" height="5.28" fill="#4a4212" shape-rendering="crispEdges"/>
<rect x="339.25" y="362.16" width="5.25" height="5.28" fill="#4a4212" shape-rendering="crispEdges"/>
<rect x="344.50" y="362.16" width="5.25" height="5.28" fill="#4a4212" shape-rendering="crispEdges"/>
<rect x="349.75" y="362.16" width="5.25" height="5.28" fill="#0c3e46" shape-rendering="crispEdges"/>
<rect x="355.00" y="362.16" width="5.25" height="5.28" fill="#0e1620" shape-rendering="crispEdges"/>
<rect x="360.25" y="362.16" width="5.25" height="5.28" fill="#0c3e46" shape-rendering="crispEdges"/>
<rect x="323.50" y="367.44" width="5.25" height="5.28" fill="#f3e41c" shape-rendering="crispEdges"/>
<rect x="328.75" y="367.44" width="5.25" height="5.28" fill="#0e1620" shape-rendering="crispEdges"/>
<rect x="334.00" y="367.44" width="5.25" height="5.28" fill="#0e1620" shape-rendering="crispEdges"/>
<rect x="339.25" y="367.44" width="5.25" height="5.28" fill="#0e1620" shape-rendering="crispEdges"/>
<rect x="344.50" y="367.44" width="5.25" height="5.28" fill="#0c3e46" shape-rendering="crispEdges"/>
<rect x="349.75" y="367.44" width="5.25" height="5.28" fill="#4a4212" shape-rendering="crispEdges"/>
<rect x="355.00" y="367.44" width="5.25" height="5.28" fill="#0e1620" shape-rendering="crispEdges"/>
<rect x="360.25" y="367.44" width="5.25" height="5.28" fill="#125c64" shape-rendering="crispEdges"/>
<rect x="323.50" y="372.72" width="5.25" height="5.28" fill="#f3e41c" shape-rendering="crispEdges"/>
<rect x="328.75" y="372.72" width="5.25" height="5.28" fill="#958914" shape-rendering="crispEdges"/>
<rect x="334.00" y="372.72" width="5.25" height="5.28" fill="#958914" shape-rendering="crispEdges"/>
<rect x="339.25" y="372.72" width="5.25" height="5.28" fill="#125c64" shape-rendering="crispEdges"/>
<rect x="344.50" y="372.72" width="5.25" height="5.28" fill="#0e1620" shape-rendering="crispEdges"/>
<rect x="349.75" y="372.72" width="5.25" height="5.28" fill="#4a4212" shape-rendering="crispEdges"/>
<rect x="355.00" y="372.72" width="5.25" height="5.28" fill="#0e1620" shape-rendering="crispEdges"/>
<rect x="360.25" y="372.72" width="5.25" height="5.28" fill="#125c64" shape-rendering="crispEdges"/>
<rect x="323.50" y="378.00" width="5.25" height="5.28" fill="#f3e41c" shape-rendering="crispEdges"/>
<rect x="328.75" y="378.00" width="5.25" height="5.28" fill="#cdbf1b" shape-rendering="crispEdges"/>
<rect x="334.00" y="378.00" width="5.25" height="5.28" fill="#958914" shape-rendering="crispEdges"/>
<rect x="339.25" y="378.00" width="5.25" height="5.28" fill="#f3e41c" shape-rendering="crispEdges"/>
<rect x="344.50" y="378.00" width="5.25" height="5.28" fill="#0c3e46" shape-rendering="crispEdges"/>
<rect x="349.75" y="378.00" width="5.25" height="5.28" fill="#0e1620" shape-rendering="crispEdges"/>
<rect x="355.00" y="378.00" width="5.25" height="5.28" fill="#0c3e46" shape-rendering="crispEdges"/>
<rect x="360.25" y="378.00" width="5.25" height="5.28" fill="#125c64" shape-rendering="crispEdges"/>
<rect x="323.50" y="383.28" width="5.25" height="5.28" fill="#f3e41c" shape-rendering="crispEdges"/>
<rect x="328.75" y="383.28" width="5.25" height="5.28" fill="#0e1620" shape-rendering="crispEdges"/>
<rect x="334.00" y="383.28" width="5.25" height="5.28" fill="#958914" shape-rendering="crispEdges"/>
<rect x="339.25" y="383.28" width="5.25" height="5.28" fill="#f3e41c" shape-rendering="crispEdges"/>
<rect x="344.50" y="383.28" width="5.25" height="5.28" fill="#f3e41c" shape-rendering="crispEdges"/>
<rect x="349.75" y="383.28" width="5.25" height="5.28" fill="#4a4212" shape-rendering="crispEdges"/>
<rect x="355.00" y="383.28" width="5.25" height="5.28" fill="#0e1620" shape-rendering="crispEdges"/>
<rect x="360.25" y="383.28" width="5.25" height="5.28" fill="#0c3e46" shape-rendering="crispEdges"/>
<rect x="323.50" y="388.56" width="5.25" height="5.28" fill="#0e1620" shape-rendering="crispEdges"/>
<rect x="328.75" y="388.56" width="5.25" height="5.28" fill="#0e1620" shape-rendering="crispEdges"/>
<rect x="334.00" y="388.56" width="5.25" height="5.28" fill="#958914" shape-rendering="crispEdges"/>
<rect x="339.25" y="388.56" width="5.25" height="5.28" fill="#f3e41c" shape-rendering="crispEdges"/>
<rect x="344.50" y="388.56" width="5.25" height="5.28" fill="#4a4212" shape-rendering="crispEdges"/>
<rect x="349.75" y="388.56" width="5.25" height="5.28" fill="#f3e41c" shape-rendering="crispEdges"/>
<rect x="355.00" y="388.56" width="5.25" height="5.28" fill="#f3e41c" shape-rendering="crispEdges"/>
<rect x="360.25" y="388.56" width="5.25" height="5.28" fill="#cdbf1b" shape-rendering="crispEdges"/>
<rect x="323.50" y="393.84" width="5.25" height="5.28" fill="#4a4212" shape-rendering="crispEdges"/>
<rect x="328.75" y="393.84" width="5.25" height="5.28" fill="#0e1620" shape-rendering="crispEdges"/>
<rect x="334.00" y="393.84" width="5.25" height="5.28" fill="#0c3e46" shape-rendering="crispEdges"/>
<rect x="339.25" y="393.84" width="5.25" height="5.28" fill="#0e1620" shape-rendering="crispEdges"/>
<rect x="344.50" y="393.84" width="5.25" height="5.28" fill="#4a4212" shape-rendering="crispEdges"/>
<rect x="349.75" y="393.84" width="5.25" height="5.28" fill="#0e1620" shape-rendering="crispEdges"/>
<rect x="355.00" y="393.84" width="5.25" height="5.28" fill="#0c3e46" shape-rendering="crispEdges"/>
<rect x="360.25" y="393.84" width="5.25" height="5.28" fill="#0c3e46" shape-rendering="crispEdges"/>
<rect x="323.50" y="399.12" width="5.25" height="5.28" fill="#1f8e9a" shape-rendering="crispEdges"/>
<rect x="328.75" y="399.12" width="5.25" height="5.28" fill="#6e5e14" shape-rendering="crispEdges"/>
<rect x="334.00" y="399.12" width="5.25" height="5.28" fill="#0d4a52" shape-rendering="crispEdges"/>
<rect x="339.25" y="399.12" width="5.25" height="5.28" fill="#0d4a52" shape-rendering="crispEdges"/>
<rect x="344.50" y="399.12" width="5.25" height="5.28" fill="#6e5e14" shape-rendering="crispEdges"/>
<rect x="349.75" y="399.12" width="5.25" height="5.28" fill="#121a24" shape-rendering="crispEdges"/>
<rect x="355.00" y="399.12" width="5.25" height="5.28" fill="#6e5e14" shape-rendering="crispEdges"/>
<rect x="360.25" y="399.12" width="5.25" height="5.28" fill="#0d4a52" shape-rendering="crispEdges"/>
<rect x="323.50" y="404.40" width="5.25" height="5.28" fill="#3cb2bc" shape-rendering="crispEdges"/>
<rect x="328.75" y="404.40" width="5.25" height="5.28" fill="#121a24" shape-rendering="crispEdges"/>
<rect x="334.00" y="404.40" width="5.25" height="5.28" fill="#156e78" shape-rendering="crispEdges"/>
<rect x="339.25" y="404.40" width="5.25" height="5.28" fill="#0d4a52" shape-rendering="crispEdges"/>
<rect x="344.50" y="404.40" width="5.25" height="5.28" fill="#121a24" shape-rendering="crispEdges"/>
<rect x="349.75" y="404.40" width="5.25" height="5.28" fill="#0d4a52" shape-rendering="crispEdges"/>
<rect x="355.00" y="404.40" width="5.25" height="5.28" fill="#6e5e14" shape-rendering="crispEdges"/>
<rect x="360.25" y="404.40" width="5.25" height="5.28" fill="#121a24" shape-rendering="crispEdges"/>
<rect x="323.50" y="409.68" width="5.25" height="5.28" fill="#1f8e9a" shape-rendering="crispEdges"/>
<rect x="328.75" y="409.68" width="5.25" height="5.28" fill="#121a24" shape-rendering="crispEdges"/>
<rect x="334.00" y="409.68" width="5.25" height="5.28" fill="#3cb2bc" shape-rendering="crispEdges"/>
<rect x="339.25" y="409.68" width="5.25" height="5.28" fill="#156e78" shape-rendering="crispEdges"/>
<rect x="344.50" y="409.68" width="5.25" height="5.28" fill="#121a24" shape-rendering="crispEdges"/>
<rect x="349.75" y="409.68" width="5.25" height="5.28" fill="#121a24" shape-rendering="crispEdges"/>
<rect x="355.00" y="409.68" width="5.25" height="5.28" fill="#121a24" shape-rendering="crispEdges"/>
<rect x="360.25" y="409.68" width="5.25" height="5.28" fill="#0d4a52" shape-rendering="crispEdges"/>
<rect x="323.50" y="414.96" width="5.25" height="5.28" fill="#1f8e9a" shape-rendering="crispEdges"/>
<rect x="328.75" y="414.96" width="5.25" height="5.28" fill="#6e5e14" shape-rendering="crispEdges"/>
<rect x="334.00" y="414.96" width="5.25" height="5.28" fill="#156e78" shape-rendering="crispEdges"/>
<rect x="339.25" y="414.96" width="5.25" height="5.28" fill="#156e78" shape-rendering="crispEdges"/>
<rect x="344.50" y="414.96" width="5.25" height="5.28" fill="#121a24" shape-rendering="crispEdges"/>
<rect x="349.75" y="414.96" width="5.25" height="5.28" fill="#121a24" shape-rendering="crispEdges"/>
<rect x="355.00" y="414.96" width="5.25" height="5.28" fill="#121a24" shape-rendering="crispEdges"/>
<rect x="360.25" y="414.96" width="5.25" height="5.28" fill="#156e78" shape-rendering="crispEdges"/>
<rect x="323.50" y="420.24" width="5.25" height="5.28" fill="#156e78" shape-rendering="crispEdges"/>
<rect x="328.75" y="420.24" width="5.25" height="5.28" fill="#121a24" shape-rendering="crispEdges"/>
<rect x="334.00" y="420.24" width="5.25" height="5.28" fill="#121a24" shape-rendering="crispEdges"/>
<rect x="339.25" y="420.24" width="5.25" height="5.28" fill="#6e5e14" shape-rendering="crispEdges"/>
<rect x="344.50" y="420.24" width="5.25" height="5.28" fill="#156e78" shape-rendering="crispEdges"/>
<rect x="349.75" y="420.24" width="5.25" height="5.28" fill="#121a24" shape-rendering="crispEdges"/>
<rect x="355.00" y="420.24" width="5.25" height="5.28" fill="#121a24" shape-rendering="crispEdges"/>
<rect x="360.25" y="420.24" width="5.25" height="5.28" fill="#156e78" shape-rendering="crispEdges"/>
<rect x="323.50" y="425.52" width="5.25" height="5.28" fill="#1f8e9a" shape-rendering="crispEdges"/>
<rect x="328.75" y="425.52" width="5.25" height="5.28" fill="#121a24" shape-rendering="crispEdges"/>
<rect x="334.00" y="425.52" width="5.25" height="5.28" fill="#f4e416" shape-rendering="crispEdges"/>
<rect x="339.25" y="425.52" width="5.25" height="5.28" fill="#121a24" shape-rendering="crispEdges"/>
<rect x="344.50" y="425.52" width="5.25" height="5.28" fill="#121a24" shape-rendering="crispEdges"/>
<rect x="349.75" y="425.52" width="5.25" height="5.28" fill="#121a24" shape-rendering="crispEdges"/>
<rect x="355.00" y="425.52" width="5.25" height="5.28" fill="#a49418" shape-rendering="crispEdges"/>
<rect x="360.25" y="425.52" width="5.25" height="5.28" fill="#a49418" shape-rendering="crispEdges"/>
<rect x="323.50" y="430.80" width="5.25" height="5.28" fill="#1f8e9a" shape-rendering="crispEdges"/>
<rect x="328.75" y="430.80" width="5.25" height="5.28" fill="#1f8e9a" shape-rendering="crispEdges"/>
<rect x="334.00" y="430.80" width="5.25" height="5.28" fill="#156e78" shape-rendering="crispEdges"/>
<rect x="339.25" y="430.80" width="5.25" height="5.28" fill="#6e5e14" shape-rendering="crispEdges"/>
<rect x="344.50" y="430.80" width="5.25" height="5.28" fill="#156e78" shape-rendering="crispEdges"/>
<rect x="349.75" y="430.80" width="5.25" height="5.28" fill="#121a24" shape-rendering="crispEdges"/>
<rect x="355.00" y="430.80" width="5.25" height="5.28" fill="#a49418" shape-rendering="crispEdges"/>
<rect x="360.25" y="430.80" width="5.25" height="5.28" fill="#a49418" shape-rendering="crispEdges"/>
<rect x="323.50" y="436.08" width="5.25" height="5.28" fill="#d4c41a" shape-rendering="crispEdges"/>
<rect x="328.75" y="436.08" width="5.25" height="5.28" fill="#d4c41a" shape-rendering="crispEdges"/>
<rect x="334.00" y="436.08" width="5.25" height="5.28" fill="#d4c41a" shape-rendering="crispEdges"/>
<rect x="339.25" y="436.08" width="5.25" height="5.28" fill="#156e78" shape-rendering="crispEdges"/>
<rect x="344.50" y="436.08" width="5.25" height="5.28" fill="#6e5e14" shape-rendering="crispEdges"/>
<rect x="349.75" y="436.08" width="5.25" height="5.28" fill="#6e5e14" shape-rendering="crispEdges"/>
<rect x="355.00" y="436.08" width="5.25" height="5.28" fill="#121a24" shape-rendering="crispEdges"/>
<rect x="360.25" y="436.08" width="5.25" height="5.28" fill="#f4e416" shape-rendering="crispEdges"/>
<rect x="371.20" y="272.40" width="5.29" height="5.28" fill="#121a24" shape-rendering="crispEdges"/>
<rect x="376.49" y="272.40" width="5.29" height="5.28" fill="#0d4a52" shape-rendering="crispEdges"/>
<rect x="381.79" y="272.40" width="5.29" height="5.28" fill="#0d4a52" shape-rendering="crispEdges"/>
<rect x="387.08" y="272.40" width="5.29" height="5.28" fill="#0d4a52" shape-rendering="crispEdges"/>
<rect x="392.38" y="272.40" width="5.29" height="5.28" fill="#0d4a52" shape-rendering="crispEdges"/>
<rect x="397.67" y="272.40" width="5.29" height="5.28" fill="#0d4a52" shape-rendering="crispEdges"/>
<rect x="402.96" y="272.40" width="5.29" height="5.28" fill="#0d4a52" shape-rendering="crispEdges"/>
<rect x="408.26" y="272.40" width="5.29" height="5.28" fill="#121a24" shape-rendering="crispEdges"/>
<rect x="413.55" y="272.40" width="5.29" height="5.28" fill="#121a24" shape-rendering="crispEdges"/>
<rect x="418.85" y="272.40" width="5.29" height="5.28" fill="#0d4a52" shape-rendering="crispEdges"/>
<rect x="424.14" y="272.40" width="5.29" height="5.28" fill="#0d4a52" shape-rendering="crispEdges"/>
<rect x="429.44" y="272.40" width="5.29" height="5.28" fill="#0d4a52" shape-rendering="crispEdges"/>
<rect x="434.73" y="272.40" width="5.29" height="5.28" fill="#0d4a52" shape-rendering="crispEdges"/>
<rect x="440.02" y="272.40" width="5.29" height="5.28" fill="#0d4a52" shape-rendering="crispEdges"/>
<rect x="445.32" y="272.40" width="5.29" height="5.28" fill="#0d4a52" shape-rendering="crispEdges"/>
<rect x="450.61" y="272.40" width="5.29" height="5.28" fill="#0d4a52" shape-rendering="crispEdges"/>
<rect x="455.91" y="272.40" width="5.29" height="5.28" fill="#121a24" shape-rendering="crispEdges"/>
<rect x="371.20" y="277.68" width="5.29" height="5.28" fill="#156e78" shape-rendering="crispEdges"/>
<rect x="376.49" y="277.68" width="5.29" height="5.28" fill="#156e78" shape-rendering="crispEdges"/>
<rect x="381.79" y="277.68" width="5.29" height="5.28" fill="#121a24" shape-rendering="crispEdges"/>
<rect x="387.08" y="277.68" width="5.29" height="5.28" fill="#156e78" shape-rendering="crispEdges"/>
<rect x="392.38" y="277.68" width="5.29" height="5.28" fill="#0d4a52" shape-rendering="crispEdges"/>
<rect x="397.67" y="277.68" width="5.29" height="5.28" fill="#156e78" shape-rendering="crispEdges"/>
<rect x="402.96" y="277.68" width="5.29" height="5.28" fill="#156e78" shape-rendering="crispEdges"/>
<rect x="408.26" y="277.68" width="5.29" height="5.28" fill="#0d4a52" shape-rendering="crispEdges"/>
<rect x="413.55" y="277.68" width="5.29" height="5.28" fill="#0d4a52" shape-rendering="crispEdges"/>
<rect x="418.85" y="277.68" width="5.29" height="5.28" fill="#121a24" shape-rendering="crispEdges"/>
<rect x="424.14" y="277.68" width="5.29" height="5.28" fill="#156e78" shape-rendering="crispEdges"/>
<rect x="429.44" y="277.68" width="5.29" height="5.28" fill="#156e78" shape-rendering="crispEdges"/>
<rect x="434.73" y="277.68" width="5.29" height="5.28" fill="#0d4a52" shape-rendering="crispEdges"/>
<rect x="440.02" y="277.68" width="5.29" height="5.28" fill="#156e78" shape-rendering="crispEdges"/>
<rect x="445.32" y="277.68" width="5.29" height="5.28" fill="#121a24" shape-rendering="crispEdges"/>
<rect x="450.61" y="277.68" width="5.29" height="5.28" fill="#0d4a52" shape-rendering="crispEdges"/>
<rect x="455.91" y="277.68" width="5.29" height="5.28" fill="#0d4a52" shape-rendering="crispEdges"/>
<rect x="371.20" y="282.96" width="5.29" height="5.28" fill="#1f8e9a" shape-rendering="crispEdges"/>
<rect x="376.49" y="282.96" width="5.29" height="5.28" fill="#156e78" shape-rendering="crispEdges"/>
<rect x="381.79" y="282.96" width="5.29" height="5.28" fill="#121a24" shape-rendering="crispEdges"/>
<rect x="387.08" y="282.96" width="5.29" height="5.28" fill="#8cd2d8" shape-rendering="crispEdges"/>
<rect x="392.38" y="282.96" width="5.29" height="5.28" fill="#0d4a52" shape-rendering="crispEdges"/>
<rect x="397.67" y="282.96" width="5.29" height="5.28" fill="#3cb2bc" shape-rendering="crispEdges"/>
<rect x="402.96" y="282.96" width="5.29" height="5.28" fill="#3cb2bc" shape-rendering="crispEdges"/>
<rect x="408.26" y="282.96" width="5.29" height="5.28" fill="#0d4a52" shape-rendering="crispEdges"/>
<rect x="413.55" y="282.96" width="5.29" height="5.28" fill="#156e78" shape-rendering="crispEdges"/>
<rect x="418.85" y="282.96" width="5.29" height="5.28" fill="#1f8e9a" shape-rendering="crispEdges"/>
<rect x="424.14" y="282.96" width="5.29" height="5.28" fill="#3cb2bc" shape-rendering="crispEdges"/>
<rect x="429.44" y="282.96" width="5.29" height="5.28" fill="#1f8e9a" shape-rendering="crispEdges"/>
<rect x="434.73" y="282.96" width="5.29" height="5.28" fill="#0d4a52" shape-rendering="crispEdges"/>
<rect x="440.02" y="282.96" width="5.29" height="5.28" fill="#156e78" shape-rendering="crispEdges"/>
<rect x="445.32" y="282.96" width="5.29" height="5.28" fill="#a49418" shape-rendering="crispEdges"/>
<rect x="450.61" y="282.96" width="5.29" height="5.28" fill="#121a24" shape-rendering="crispEdges"/>
<rect x="455.91" y="282.96" width="5.29" height="5.28" fill="#121a24" shape-rendering="crispEdges"/>
<rect x="371.20" y="288.24" width="5.29" height="5.28" fill="#121a24" shape-rendering="crispEdges"/>
<rect x="376.49" y="288.24" width="5.29" height="5.28" fill="#121a24" shape-rendering="crispEdges"/>
<rect x="381.79" y="288.24" width="5.29" height="5.28" fill="#121a24" shape-rendering="crispEdges"/>
<rect x="387.08" y="288.24" width="5.29" height="5.28" fill="#1f8e9a" shape-rendering="crispEdges"/>
<rect x="392.38" y="288.24" width="5.29" height="5.28" fill="#0d4a52" shape-rendering="crispEdges"/>
<rect x="397.67" y="288.24" width="5.29" height="5.28" fill="#1f8e9a" shape-rendering="crispEdges"/>
<rect x="402.96" y="288.24" width="5.29" height="5.28" fill="#156e78" shape-rendering="crispEdges"/>
<rect x="408.26" y="288.24" width="5.29" height="5.28" fill="#1f8e9a" shape-rendering="crispEdges"/>
<rect x="413.55" y="288.24" width="5.29" height="5.28" fill="#1f8e9a" shape-rendering="crispEdges"/>
<rect x="418.85" y="288.24" width="5.29" height="5.28" fill="#1f8e9a" shape-rendering="crispEdges"/>
<rect x="424.14" y="288.24" width="5.29" height="5.28" fill="#1f8e9a" shape-rendering="crispEdges"/>
<rect x="429.44" y="288.24" width="5.29" height="5.28" fill="#1f8e9a" shape-rendering="crispEdges"/>
<rect x="434.73" y="288.24" width="5.29" height="5.28" fill="#1f8e9a" shape-rendering="crispEdges"/>
<rect x="440.02" y="288.24" width="5.29" height="5.28" fill="#121a24" shape-rendering="crispEdges"/>
<rect x="445.32" y="288.24" width="5.29" height="5.28" fill="#3cb2bc" shape-rendering="crispEdges"/>
<rect x="450.61" y="288.24" width="5.29" height="5.28" fill="#121a24" shape-rendering="crispEdges"/>
<rect x="455.91" y="288.24" width="5.29" height="5.28" fill="#3cb2bc" shape-rendering="crispEdges"/>
<rect x="371.20" y="293.52" width="5.29" height="5.28" fill="#0d4a52" shape-rendering="crispEdges"/>
<rect x="376.49" y="293.52" width="5.29" height="5.28" fill="#1f8e9a" shape-rendering="crispEdges"/>
<rect x="381.79" y="293.52" width="5.29" height="5.28" fill="#121a24" shape-rendering="crispEdges"/>
<rect x="387.08" y="293.52" width="5.29" height="5.28" fill="#f4e416" shape-rendering="crispEdges"/>
<rect x="392.38" y="293.52" width="5.29" height="5.28" fill="#6e5e14" shape-rendering="crispEdges"/>
<rect x="397.67" y="293.52" width="5.29" height="5.28" fill="#1f8e9a" shape-rendering="crispEdges"/>
<rect x="402.96" y="293.52" width="5.29" height="5.28" fill="#1f8e9a" shape-rendering="crispEdges"/>
<rect x="408.26" y="293.52" width="5.29" height="5.28" fill="#3cb2bc" shape-rendering="crispEdges"/>
<rect x="413.55" y="293.52" width="5.29" height="5.28" fill="#3cb2bc" shape-rendering="crispEdges"/>
<rect x="418.85" y="293.52" width="5.29" height="5.28" fill="#3cb2bc" shape-rendering="crispEdges"/>
<rect x="424.14" y="293.52" width="5.29" height="5.28" fill="#156e78" shape-rendering="crispEdges"/>
<rect x="429.44" y="293.52" width="5.29" height="5.28" fill="#121a24" shape-rendering="crispEdges"/>
<rect x="434.73" y="293.52" width="5.29" height="5.28" fill="#156e78" shape-rendering="crispEdges"/>
<rect x="440.02" y="293.52" width="5.29" height="5.28" fill="#1f8e9a" shape-rendering="crispEdges"/>
<rect x="445.32" y="293.52" width="5.29" height="5.28" fill="#121a24" shape-rendering="crispEdges"/>
<rect x="450.61" y="293.52" width="5.29" height="5.28" fill="#156e78" shape-rendering="crispEdges"/>
<rect x="455.91" y="293.52" width="5.29" height="5.28" fill="#3cb2bc" shape-rendering="crispEdges"/>
<rect x="371.20" y="298.80" width="5.29" height="5.28" fill="#121a24" shape-rendering="crispEdges"/>
<rect x="376.49" y="298.80" width="5.29" height="5.28" fill="#6e5e14" shape-rendering="crispEdges"/>
<rect x="381.79" y="298.80" width="5.29" height="5.28" fill="#121a24" shape-rendering="crispEdges"/>
<rect x="387.08" y="298.80" width="5.29" height="5.28" fill="#0d4a52" shape-rendering="crispEdges"/>
<rect x="392.38" y="298.80" width="5.29" height="5.28" fill="#121a24" shape-rendering="crispEdges"/>
<rect x="397.67" y="298.80" width="5.29" height="5.28" fill="#1f8e9a" shape-rendering="crispEdges"/>
<rect x="402.96" y="298.80" width="5.29" height="5.28" fill="#0d4a52" shape-rendering="crispEdges"/>
<rect x="408.26" y="298.80" width="5.29" height="5.28" fill="#156e78" shape-rendering="crispEdges"/>
<rect x="413.55" y="298.80" width="5.29" height="5.28" fill="#156e78" shape-rendering="crispEdges"/>
<rect x="418.85" y="298.80" width="5.29" height="5.28" fill="#121a24" shape-rendering="crispEdges"/>
<rect x="424.14" y="298.80" width="5.29" height="5.28" fill="#3cb2bc" shape-rendering="crispEdges"/>
<rect x="429.44" y="298.80" width="5.29" height="5.28" fill="#1f8e9a" shape-rendering="crispEdges"/>
<rect x="434.73" y="298.80" width="5.29" height="5.28" fill="#3cb2bc" shape-rendering="crispEdges"/>
<rect x="440.02" y="298.80" width="5.29" height="5.28" fill="#156e78" shape-rendering="crispEdges"/>
<rect x="445.32" y="298.80" width="5.29" height="5.28" fill="#0d4a52" shape-rendering="crispEdges"/>
<rect x="450.61" y="298.80" width="5.29" height="5.28" fill="#3cb2bc" shape-rendering="crispEdges"/>
<rect x="455.91" y="298.80" width="5.29" height="5.28" fill="#1f8e9a" shape-rendering="crispEdges"/>
<rect x="371.20" y="304.08" width="5.29" height="5.28" fill="#1f8e9a" shape-rendering="crispEdges"/>
<rect x="376.49" y="304.08" width="5.29" height="5.28" fill="#156e78" shape-rendering="crispEdges"/>
<rect x="381.79" y="304.08" width="5.29" height="5.28" fill="#121a24" shape-rendering="crispEdges"/>
<rect x="387.08" y="304.08" width="5.29" height="5.28" fill="#0d4a52" shape-rendering="crispEdges"/>
<rect x="392.38" y="304.08" width="5.29" height="5.28" fill="#156e78" shape-rendering="crispEdges"/>
<rect x="397.67" y="304.08" width="5.29" height="5.28" fill="#1f8e9a" shape-rendering="crispEdges"/>
<rect x="402.96" y="304.08" width="5.29" height="5.28" fill="#0d4a52" shape-rendering="crispEdges"/>
<rect x="408.26" y="304.08" width="5.29" height="5.28" fill="#3cb2bc" shape-rendering="crispEdges"/>
<rect x="413.55" y="304.08" width="5.29" height="5.28" fill="#3cb2bc" shape-rendering="crispEdges"/>
<rect x="418.85" y="304.08" width="5.29" height="5.28" fill="#121a24" shape-rendering="crispEdges"/>
<rect x="424.14" y="304.08" width="5.29" height="5.28" fill="#1f8e9a" shape-rendering="crispEdges"/>
<rect x="429.44" y="304.08" width="5.29" height="5.28" fill="#156e78" shape-rendering="crispEdges"/>
<rect x="434.73" y="304.08" width="5.29" height="5.28" fill="#1f8e9a" shape-rendering="crispEdges"/>
<rect x="440.02" y="304.08" width="5.29" height="5.28" fill="#156e78" shape-rendering="crispEdges"/>
<rect x="445.32" y="304.08" width="5.29" height="5.28" fill="#6e5e14" shape-rendering="crispEdges"/>
<rect x="450.61" y="304.08" width="5.29" height="5.28" fill="#1f8e9a" shape-rendering="crispEdges"/>
<rect x="455.91" y="304.08" width="5.29" height="5.28" fill="#1f8e9a" shape-rendering="crispEdges"/>
<rect x="371.20" y="309.36" width="5.29" height="5.28" fill="#121a24" shape-rendering="crispEdges"/>
<rect x="376.49" y="309.36" width="5.29" height="5.28" fill="#0d4a52" shape-rendering="crispEdges"/>
<rect x="381.79" y="309.36" width="5.29" height="5.28" fill="#6e5e14" shape-rendering="crispEdges"/>
<rect x="387.08" y="309.36" width="5.29" height="5.28" fill="#a49418" shape-rendering="crispEdges"/>
<rect x="392.38" y="309.36" width="5.29" height="5.28" fill="#156e78" shape-rendering="crispEdges"/>
<rect x="397.67" y="309.36" width="5.29" height="5.28" fill="#1f8e9a" shape-rendering="crispEdges"/>
<rect x="402.96" y="309.36" width="5.29" height="5.28" fill="#0d4a52" shape-rendering="crispEdges"/>
<rect x="408.26" y="309.36" width="5.29" height="5.28" fill="#3cb2bc" shape-rendering="crispEdges"/>
<rect x="413.55" y="309.36" width="5.29" height="5.28" fill="#3cb2bc" shape-rendering="crispEdges"/>
<rect x="418.85" y="309.36" width="5.29" height="5.28" fill="#1f8e9a" shape-rendering="crispEdges"/>
<rect x="424.14" y="309.36" width="5.29" height="5.28" fill="#3cb2bc" shape-rendering="crispEdges"/>
<rect x="429.44" y="309.36" width="5.29" height="5.28" fill="#156e78" shape-rendering="crispEdges"/>
<rect x="434.73" y="309.36" width="5.29" height="5.28" fill="#1f8e9a" shape-rendering="crispEdges"/>
<rect x="440.02" y="309.36" width="5.29" height="5.28" fill="#156e78" shape-rendering="crispEdges"/>
<rect x="445.32" y="309.36" width="5.29" height="5.28" fill="#156e78" shape-rendering="crispEdges"/>
<rect x="450.61" y="309.36" width="5.29" height="5.28" fill="#156e78" shape-rendering="crispEdges"/>
<rect x="455.91" y="309.36" width="5.29" height="5.28" fill="#3cb2bc" shape-rendering="crispEdges"/>
<rect x="371.20" y="314.64" width="5.29" height="5.28" fill="#0d4a52" shape-rendering="crispEdges"/>
<rect x="376.49" y="314.64" width="5.29" height="5.28" fill="#121a24" shape-rendering="crispEdges"/>
<rect x="381.79" y="314.64" width="5.29" height="5.28" fill="#121a24" shape-rendering="crispEdges"/>
<rect x="387.08" y="314.64" width="5.29" height="5.28" fill="#156e78" shape-rendering="crispEdges"/>
<rect x="392.38" y="314.64" width="5.29" height="5.28" fill="#156e78" shape-rendering="crispEdges"/>
<rect x="397.67" y="314.64" width="5.29" height="5.28" fill="#156e78" shape-rendering="crispEdges"/>
<rect x="402.96" y="314.64" width="5.29" height="5.28" fill="#156e78" shape-rendering="crispEdges"/>
<rect x="408.26" y="314.64" width="5.29" height="5.28" fill="#156e78" shape-rendering="crispEdges"/>
<rect x="413.55" y="314.64" width="5.29" height="5.28" fill="#1f8e9a" shape-rendering="crispEdges"/>
<rect x="418.85" y="314.64" width="5.29" height="5.28" fill="#156e78" shape-rendering="crispEdges"/>
<rect x="424.14" y="314.64" width="5.29" height="5.28" fill="#156e78" shape-rendering="crispEdges"/>
<rect x="429.44" y="314.64" width="5.29" height="5.28" fill="#156e78" shape-rendering="crispEdges"/>
<rect x="434.73" y="314.64" width="5.29" height="5.28" fill="#1f8e9a" shape-rendering="crispEdges"/>
<rect x="440.02" y="314.64" width="5.29" height="5.28" fill="#156e78" shape-rendering="crispEdges"/>
<rect x="445.32" y="314.64" width="5.29" height="5.28" fill="#1f8e9a" shape-rendering="crispEdges"/>
<rect x="450.61" y="314.64" width="5.29" height="5.28" fill="#156e78" shape-rendering="crispEdges"/>
<rect x="455.91" y="314.64" width="5.29" height="5.28" fill="#0d4a52" shape-rendering="crispEdges"/>
<rect x="371.20" y="319.92" width="5.29" height="5.28" fill="#d4c41a" shape-rendering="crispEdges"/>
<rect x="376.49" y="319.92" width="5.29" height="5.28" fill="#156e78" shape-rendering="crispEdges"/>
<rect x="381.79" y="319.92" width="5.29" height="5.28" fill="#156e78" shape-rendering="crispEdges"/>
<rect x="387.08" y="319.92" width="5.29" height="5.28" fill="#f4e416" shape-rendering="crispEdges"/>
<rect x="392.38" y="319.92" width="5.29" height="5.28" fill="#6e5e14" shape-rendering="crispEdges"/>
<rect x="397.67" y="319.92" width="5.29" height="5.28" fill="#121a24" shape-rendering="crispEdges"/>
<rect x="402.96" y="319.92" width="5.29" height="5.28" fill="#1f8e9a" shape-rendering="crispEdges"/>
<rect x="408.26" y="319.92" width="5.29" height="5.28" fill="#1f8e9a" shape-rendering="crispEdges"/>
<rect x="413.55" y="319.92" width="5.29" height="5.28" fill="#1f8e9a" shape-rendering="crispEdges"/>
<rect x="418.85" y="319.92" width="5.29" height="5.28" fill="#156e78" shape-rendering="crispEdges"/>
<rect x="424.14" y="319.92" width="5.29" height="5.28" fill="#121a24" shape-rendering="crispEdges"/>
<rect x="429.44" y="319.92" width="5.29" height="5.28" fill="#6e5e14" shape-rendering="crispEdges"/>
<rect x="434.73" y="319.92" width="5.29" height="5.28" fill="#1f8e9a" shape-rendering="crispEdges"/>
<rect x="440.02" y="319.92" width="5.29" height="5.28" fill="#3cb2bc" shape-rendering="crispEdges"/>
<rect x="445.32" y="319.92" width="5.29" height="5.28" fill="#156e78" shape-rendering="crispEdges"/>
<rect x="450.61" y="319.92" width="5.29" height="5.28" fill="#0d4a52" shape-rendering="crispEdges"/>
<rect x="455.91" y="319.92" width="5.29" height="5.28" fill="#1f8e9a" shape-rendering="crispEdges"/>
<rect x="371.20" y="325.20" width="5.29" height="5.28" fill="#121a24" shape-rendering="crispEdges"/>
<rect x="376.49" y="325.20" width="5.29" height="5.28" fill="#121a24" shape-rendering="crispEdges"/>
<rect x="381.79" y="325.20" width="5.29" height="5.28" fill="#121a24" shape-rendering="crispEdges"/>
<rect x="387.08" y="325.20" width="5.29" height="5.28" fill="#121a24" shape-rendering="crispEdges"/>
<rect x="392.38" y="325.20" width="5.29" height="5.28" fill="#6e5e14" shape-rendering="crispEdges"/>
<rect x="397.67" y="325.20" width="5.29" height="5.28" fill="#1f8e9a" shape-rendering="crispEdges"/>
<rect x="402.96" y="325.20" width="5.29" height="5.28" fill="#1f8e9a" shape-rendering="crispEdges"/>
<rect x="408.26" y="325.20" width="5.29" height="5.28" fill="#6e5e14" shape-rendering="crispEdges"/>
<rect x="413.55" y="325.20" width="5.29" height="5.28" fill="#6e5e14" shape-rendering="crispEdges"/>
<rect x="418.85" y="325.20" width="5.29" height="5.28" fill="#0d4a52" shape-rendering="crispEdges"/>
<rect x="424.14" y="325.20" width="5.29" height="5.28" fill="#1f8e9a" shape-rendering="crispEdges"/>
<rect x="429.44" y="325.20" width="5.29" height="5.28" fill="#156e78" shape-rendering="crispEdges"/>
<rect x="434.73" y="325.20" width="5.29" height="5.28" fill="#1f8e9a" shape-rendering="crispEdges"/>
<rect x="440.02" y="325.20" width="5.29" height="5.28" fill="#156e78" shape-rendering="crispEdges"/>
<rect x="445.32" y="325.20" width="5.29" height="5.28" fill="#156e78" shape-rendering="crispEdges"/>
<rect x="450.61" y="325.20" width="5.29" height="5.28" fill="#6e5e14" shape-rendering="crispEdges"/>
<rect x="455.91" y="325.20" width="5.29" height="5.28" fill="#1f8e9a" shape-rendering="crispEdges"/>
<rect x="371.20" y="330.48" width="5.29" height="5.28" fill="#156e78" shape-rendering="crispEdges"/>
<rect x="376.49" y="330.48" width="5.29" height="5.28" fill="#6e5e14" shape-rendering="crispEdges"/>
<rect x="381.79" y="330.48" width="5.29" height="5.28" fill="#156e78" shape-rendering="crispEdges"/>
<rect x="387.08" y="330.48" width="5.29" height="5.28" fill="#d4c41a" shape-rendering="crispEdges"/>
<rect x="392.38" y="330.48" width="5.29" height="5.28" fill="#156e78" shape-rendering="crispEdges"/>
<rect x="397.67" y="330.48" width="5.29" height="5.28" fill="#1f8e9a" shape-rendering="crispEdges"/>
<rect x="402.96" y="330.48" width="5.29" height="5.28" fill="#1f8e9a" shape-rendering="crispEdges"/>
<rect x="408.26" y="330.48" width="5.29" height="5.28" fill="#0d4a52" shape-rendering="crispEdges"/>
<rect x="413.55" y="330.48" width="5.29" height="5.28" fill="#156e78" shape-rendering="crispEdges"/>
<rect x="418.85" y="330.48" width="5.29" height="5.28" fill="#6e5e14" shape-rendering="crispEdges"/>
<rect x="424.14" y="330.48" width="5.29" height="5.28" fill="#1f8e9a" shape-rendering="crispEdges"/>
<rect x="429.44" y="330.48" width="5.29" height="5.28" fill="#3cb2bc" shape-rendering="crispEdges"/>
<rect x="434.73" y="330.48" width="5.29" height="5.28" fill="#8cd2d8" shape-rendering="crispEdges"/>
<rect x="440.02" y="330.48" width="5.29" height="5.28" fill="#156e78" shape-rendering="crispEdges"/>
<rect x="445.32" y="330.48" width="5.29" height="5.28" fill="#3cb2bc" shape-rendering="crispEdges"/>
<rect x="450.61" y="330.48" width="5.29" height="5.28" fill="#121a24" shape-rendering="crispEdges"/>
<rect x="455.91" y="330.48" width="5.29" height="5.28" fill="#121a24" shape-rendering="crispEdges"/>
<rect x="371.20" y="335.76" width="5.29" height="5.28" fill="#156e78" shape-rendering="crispEdges"/>
<rect x="376.49" y="335.76" width="5.29" height="5.28" fill="#1f8e9a" shape-rendering="crispEdges"/>
<rect x="381.79" y="335.76" width="5.29" height="5.28" fill="#156e78" shape-rendering="crispEdges"/>
<rect x="387.08" y="335.76" width="5.29" height="5.28" fill="#156e78" shape-rendering="crispEdges"/>
<rect x="392.38" y="335.76" width="5.29" height="5.28" fill="#156e78" shape-rendering="crispEdges"/>
<rect x="397.67" y="335.76" width="5.29" height="5.28" fill="#156e78" shape-rendering="crispEdges"/>
<rect x="402.96" y="335.76" width="5.29" height="5.28" fill="#156e78" shape-rendering="crispEdges"/>
<rect x="408.26" y="335.76" width="5.29" height="5.28" fill="#1f8e9a" shape-rendering="crispEdges"/>
<rect x="413.55" y="335.76" width="5.29" height="5.28" fill="#1f8e9a" shape-rendering="crispEdges"/>
<rect x="418.85" y="335.76" width="5.29" height="5.28" fill="#156e78" shape-rendering="crispEdges"/>
<rect x="424.14" y="335.76" width="5.29" height="5.28" fill="#156e78" shape-rendering="crispEdges"/>
<rect x="429.44" y="335.76" width="5.29" height="5.28" fill="#121a24" shape-rendering="crispEdges"/>
<rect x="434.73" y="335.76" width="5.29" height="5.28" fill="#0d4a52" shape-rendering="crispEdges"/>
<rect x="440.02" y="335.76" width="5.29" height="5.28" fill="#121a24" shape-rendering="crispEdges"/>
<rect x="445.32" y="335.76" width="5.29" height="5.28" fill="#0d4a52" shape-rendering="crispEdges"/>
<rect x="450.61" y="335.76" width="5.29" height="5.28" fill="#121a24" shape-rendering="crispEdges"/>
<rect x="455.91" y="335.76" width="5.29" height="5.28" fill="#156e78" shape-rendering="crispEdges"/>
<rect x="371.20" y="341.04" width="5.29" height="5.28" fill="#156e78" shape-rendering="crispEdges"/>
<rect x="376.49" y="341.04" width="5.29" height="5.28" fill="#0d4a52" shape-rendering="crispEdges"/>
<rect x="381.79" y="341.04" width="5.29" height="5.28" fill="#156e78" shape-rendering="crispEdges"/>
<rect x="387.08" y="341.04" width="5.29" height="5.28" fill="#156e78" shape-rendering="crispEdges"/>
<rect x="392.38" y="341.04" width="5.29" height="5.28" fill="#156e78" shape-rendering="crispEdges"/>
<rect x="397.67" y="341.04" width="5.29" height="5.28" fill="#156e78" shape-rendering="crispEdges"/>
<rect x="402.96" y="341.04" width="5.29" height="5.28" fill="#0d4a52" shape-rendering="crispEdges"/>
<rect x="408.26" y="341.04" width="5.29" height="5.28" fill="#156e78" shape-rendering="crispEdges"/>
<rect x="413.55" y="341.04" width="5.29" height="5.28" fill="#156e78" shape-rendering="crispEdges"/>
<rect x="418.85" y="341.04" width="5.29" height="5.28" fill="#156e78" shape-rendering="crispEdges"/>
<rect x="424.14" y="341.04" width="5.29" height="5.28" fill="#156e78" shape-rendering="crispEdges"/>
<rect x="429.44" y="341.04" width="5.29" height="5.28" fill="#0d4a52" shape-rendering="crispEdges"/>
<rect x="434.73" y="341.04" width="5.29" height="5.28" fill="#0d4a52" shape-rendering="crispEdges"/>
<rect x="440.02" y="341.04" width="5.29" height="5.28" fill="#0d4a52" shape-rendering="crispEdges"/>
<rect x="445.32" y="341.04" width="5.29" height="5.28" fill="#156e78" shape-rendering="crispEdges"/>
<rect x="450.61" y="341.04" width="5.29" height="5.28" fill="#121a24" shape-rendering="crispEdges"/>
<rect x="455.91" y="341.04" width="5.29" height="5.28" fill="#121a24" shape-rendering="crispEdges"/>
<rect x="371.20" y="346.32" width="5.29" height="5.28" fill="#121a24" shape-rendering="crispEdges"/>
<rect x="376.49" y="346.32" width="5.29" height="5.28" fill="#156e78" shape-rendering="crispEdges"/>
<rect x="381.79" y="346.32" width="5.29" height="5.28" fill="#121a24" shape-rendering="crispEdges"/>
<rect x="387.08" y="346.32" width="5.29" height="5.28" fill="#1f8e9a" shape-rendering="crispEdges"/>
<rect x="392.38" y="346.32" width="5.29" height="5.28" fill="#156e78" shape-rendering="crispEdges"/>
<rect x="397.67" y="346.32" width="5.29" height="5.28" fill="#156e78" shape-rendering="crispEdges"/>
<rect x="402.96" y="346.32" width="5.29" height="5.28" fill="#1f8e9a" shape-rendering="crispEdges"/>
<rect x="408.26" y="346.32" width="5.29" height="5.28" fill="#156e78" shape-rendering="crispEdges"/>
<rect x="413.55" y="346.32" width="5.29" height="5.28" fill="#156e78" shape-rendering="crispEdges"/>
<rect x="418.85" y="346.32" width="5.29" height="5.28" fill="#121a24" shape-rendering="crispEdges"/>
<rect x="424.14" y="346.32" width="5.29" height="5.28" fill="#156e78" shape-rendering="crispEdges"/>
<rect x="429.44" y="346.32" width="5.29" height="5.28" fill="#156e78" shape-rendering="crispEdges"/>
<rect x="434.73" y="346.32" width="5.29" height="5.28" fill="#156e78" shape-rendering="crispEdges"/>
<rect x="440.02" y="346.32" width="5.29" height="5.28" fill="#156e78" shape-rendering="crispEdges"/>
<rect x="445.32" y="346.32" width="5.29" height="5.28" fill="#0d4a52" shape-rendering="crispEdges"/>
<rect x="450.61" y="346.32" width="5.29" height="5.28" fill="#156e78" shape-rendering="crispEdges"/>
<rect x="455.91" y="346.32" width="5.29" height="5.28" fill="#6e5e14" shape-rendering="crispEdges"/>
<rect x="371.20" y="351.60" width="5.29" height="5.28" fill="#156e78" shape-rendering="crispEdges"/>
<rect x="376.49" y="351.60" width="5.29" height="5.28" fill="#156e78" shape-rendering="crispEdges"/>
<rect x="381.79" y="351.60" width="5.29" height="5.28" fill="#121a24" shape-rendering="crispEdges"/>
<rect x="387.08" y="351.60" width="5.29" height="5.28" fill="#156e78" shape-rendering="crispEdges"/>
<rect x="392.38" y="351.60" width="5.29" height="5.28" fill="#156e78" shape-rendering="crispEdges"/>
<rect x="397.67" y="351.60" width="5.29" height="5.28" fill="#156e78" shape-rendering="crispEdges"/>
<rect x="402.96" y="351.60" width="5.29" height="5.28" fill="#1f8e9a" shape-rendering="crispEdges"/>
<rect x="408.26" y="351.60" width="5.29" height="5.28" fill="#1f8e9a" shape-rendering="crispEdges"/>
<rect x="413.55" y="351.60" width="5.29" height="5.28" fill="#1f8e9a" shape-rendering="crispEdges"/>
<rect x="418.85" y="351.60" width="5.29" height="5.28" fill="#1f8e9a" shape-rendering="crispEdges"/>
<rect x="424.14" y="351.60" width="5.29" height="5.28" fill="#6e5e14" shape-rendering="crispEdges"/>
<rect x="429.44" y="351.60" width="5.29" height="5.28" fill="#1f8e9a" shape-rendering="crispEdges"/>
<rect x="434.73" y="351.60" width="5.29" height="5.28" fill="#156e78" shape-rendering="crispEdges"/>
<rect x="440.02" y="351.60" width="5.29" height="5.28" fill="#156e78" shape-rendering="crispEdges"/>
<rect x="445.32" y="351.60" width="5.29" height="5.28" fill="#6e5e14" shape-rendering="crispEdges"/>
<rect x="450.61" y="351.60" width="5.29" height="5.28" fill="#121a24" shape-rendering="crispEdges"/>
<rect x="455.91" y="351.60" width="5.29" height="5.28" fill="#156e78" shape-rendering="crispEdges"/>
<rect x="371.20" y="356.88" width="5.29" height="5.28" fill="#121a24" shape-rendering="crispEdges"/>
<rect x="376.49" y="356.88" width="5.29" height="5.28" fill="#0d4a52" shape-rendering="crispEdges"/>
<rect x="381.79" y="356.88" width="5.29" height="5.28" fill="#121a24" shape-rendering="crispEdges"/>
<rect x="387.08" y="356.88" width="5.29" height="5.28" fill="#156e78" shape-rendering="crispEdges"/>
<rect x="392.38" y="356.88" width="5.29" height="5.28" fill="#156e78" shape-rendering="crispEdges"/>
<rect x="397.67" y="356.88" width="5.29" height="5.28" fill="#156e78" shape-rendering="crispEdges"/>
<rect x="402.96" y="356.88" width="5.29" height="5.28" fill="#156e78" shape-rendering="crispEdges"/>
<rect x="408.26" y="356.88" width="5.29" height="5.28" fill="#0d4a52" shape-rendering="crispEdges"/>
<rect x="413.55" y="356.88" width="5.29" height="5.28" fill="#0d4a52" shape-rendering="crispEdges"/>
<rect x="418.85" y="356.88" width="5.29" height="5.28" fill="#0d4a52" shape-rendering="crispEdges"/>
<rect x="424.14" y="356.88" width="5.29" height="5.28" fill="#0d4a52" shape-rendering="crispEdges"/>
<rect x="429.44" y="356.88" width="5.29" height="5.28" fill="#156e78" shape-rendering="crispEdges"/>
<rect x="434.73" y="356.88" width="5.29" height="5.28" fill="#156e78" shape-rendering="crispEdges"/>
<rect x="440.02" y="356.88" width="5.29" height="5.28" fill="#156e78" shape-rendering="crispEdges"/>
<rect x="445.32" y="356.88" width="5.29" height="5.28" fill="#156e78" shape-rendering="crispEdges"/>
<rect x="450.61" y="356.88" width="5.29" height="5.28" fill="#121a24" shape-rendering="crispEdges"/>
<rect x="455.91" y="356.88" width="5.29" height="5.28" fill="#0d4a52" shape-rendering="crispEdges"/>
<rect x="371.20" y="362.16" width="5.29" height="5.28" fill="#121a24" shape-rendering="crispEdges"/>
<rect x="376.49" y="362.16" width="5.29" height="5.28" fill="#156e78" shape-rendering="crispEdges"/>
<rect x="381.79" y="362.16" width="5.29" height="5.28" fill="#121a24" shape-rendering="crispEdges"/>
<rect x="387.08" y="362.16" width="5.29" height="5.28" fill="#156e78" shape-rendering="crispEdges"/>
<rect x="392.38" y="362.16" width="5.29" height="5.28" fill="#121a24" shape-rendering="crispEdges"/>
<rect x="397.67" y="362.16" width="5.29" height="5.28" fill="#1f8e9a" shape-rendering="crispEdges"/>
<rect x="402.96" y="362.16" width="5.29" height="5.28" fill="#1f8e9a" shape-rendering="crispEdges"/>
<rect x="408.26" y="362.16" width="5.29" height="5.28" fill="#1f8e9a" shape-rendering="crispEdges"/>
<rect x="413.55" y="362.16" width="5.29" height="5.28" fill="#1f8e9a" shape-rendering="crispEdges"/>
<rect x="418.85" y="362.16" width="5.29" height="5.28" fill="#156e78" shape-rendering="crispEdges"/>
<rect x="424.14" y="362.16" width="5.29" height="5.28" fill="#156e78" shape-rendering="crispEdges"/>
<rect x="429.44" y="362.16" width="5.29" height="5.28" fill="#1f8e9a" shape-rendering="crispEdges"/>
<rect x="434.73" y="362.16" width="5.29" height="5.28" fill="#156e78" shape-rendering="crispEdges"/>
<rect x="440.02" y="362.16" width="5.29" height="5.28" fill="#0d4a52" shape-rendering="crispEdges"/>
<rect x="445.32" y="362.16" width="5.29" height="5.28" fill="#1f8e9a" shape-rendering="crispEdges"/>
<rect x="450.61" y="362.16" width="5.29" height="5.28" fill="#6e5e14" shape-rendering="crispEdges"/>
<rect x="455.91" y="362.16" width="5.29" height="5.28" fill="#121a24" shape-rendering="crispEdges"/>
<rect x="371.20" y="367.44" width="5.29" height="5.28" fill="#0d4a52" shape-rendering="crispEdges"/>
<rect x="376.49" y="367.44" width="5.29" height="5.28" fill="#0d4a52" shape-rendering="crispEdges"/>
<rect x="381.79" y="367.44" width="5.29" height="5.28" fill="#121a24" shape-rendering="crispEdges"/>
<rect x="387.08" y="367.44" width="5.29" height="5.28" fill="#156e78" shape-rendering="crispEdges"/>
<rect x="392.38" y="367.44" width="5.29" height="5.28" fill="#0d4a52" shape-rendering="crispEdges"/>
<rect x="397.67" y="367.44" width="5.29" height="5.28" fill="#0d4a52" shape-rendering="crispEdges"/>
<rect x="402.96" y="367.44" width="5.29" height="5.28" fill="#0d4a52" shape-rendering="crispEdges"/>
<rect x="408.26" y="367.44" width="5.29" height="5.28" fill="#0d4a52" shape-rendering="crispEdges"/>
<rect x="413.55" y="367.44" width="5.29" height="5.28" fill="#156e78" shape-rendering="crispEdges"/>
<rect x="418.85" y="367.44" width="5.29" height="5.28" fill="#0d4a52" shape-rendering="crispEdges"/>
<rect x="424.14" y="367.44" width="5.29" height="5.28" fill="#0d4a52" shape-rendering="crispEdges"/>
<rect x="429.44" y="367.44" width="5.29" height="5.28" fill="#0d4a52" shape-rendering="crispEdges"/>
<rect x="434.73" y="367.44" width="5.29" height="5.28" fill="#0d4a52" shape-rendering="crispEdges"/>
<rect x="440.02" y="367.44" width="5.29" height="5.28" fill="#121a24" shape-rendering="crispEdges"/>
<rect x="445.32" y="367.44" width="5.29" height="5.28" fill="#156e78" shape-rendering="crispEdges"/>
<rect x="450.61" y="367.44" width="5.29" height="5.28" fill="#121a24" shape-rendering="crispEdges"/>
<rect x="455.91" y="367.44" width="5.29" height="5.28" fill="#0d4a52" shape-rendering="crispEdges"/>
<rect x="371.20" y="372.72" width="5.29" height="5.28" fill="#1f8e9a" shape-rendering="crispEdges"/>
<rect x="376.49" y="372.72" width="5.29" height="5.28" fill="#156e78" shape-rendering="crispEdges"/>
<rect x="381.79" y="372.72" width="5.29" height="5.28" fill="#121a24" shape-rendering="crispEdges"/>
<rect x="387.08" y="372.72" width="5.29" height="5.28" fill="#8cd2d8" shape-rendering="crispEdges"/>
<rect x="392.38" y="372.72" width="5.29" height="5.28" fill="#1f8e9a" shape-rendering="crispEdges"/>
<rect x="397.67" y="372.72" width="5.29" height="5.28" fill="#1f8e9a" shape-rendering="crispEdges"/>
<rect x="402.96" y="372.72" width="5.29" height="5.28" fill="#156e78" shape-rendering="crispEdges"/>
<rect x="408.26" y="372.72" width="5.29" height="5.28" fill="#156e78" shape-rendering="crispEdges"/>
<rect x="413.55" y="372.72" width="5.29" height="5.28" fill="#3cb2bc" shape-rendering="crispEdges"/>
<rect x="418.85" y="372.72" width="5.29" height="5.28" fill="#3cb2bc" shape-rendering="crispEdges"/>
<rect x="424.14" y="372.72" width="5.29" height="5.28" fill="#156e78" shape-rendering="crispEdges"/>
<rect x="429.44" y="372.72" width="5.29" height="5.28" fill="#6e5e14" shape-rendering="crispEdges"/>
<rect x="434.73" y="372.72" width="5.29" height="5.28" fill="#156e78" shape-rendering="crispEdges"/>
<rect x="440.02" y="372.72" width="5.29" height="5.28" fill="#121a24" shape-rendering="crispEdges"/>
<rect x="445.32" y="372.72" width="5.29" height="5.28" fill="#156e78" shape-rendering="crispEdges"/>
<rect x="450.61" y="372.72" width="5.29" height="5.28" fill="#121a24" shape-rendering="crispEdges"/>
<rect x="455.91" y="372.72" width="5.29" height="5.28" fill="#121a24" shape-rendering="crispEdges"/>
<rect x="371.20" y="378.00" width="5.29" height="5.28" fill="#121a24" shape-rendering="crispEdges"/>
<rect x="376.49" y="378.00" width="5.29" height="5.28" fill="#0d4a52" shape-rendering="crispEdges"/>
<rect x="381.79" y="378.00" width="5.29" height="5.28" fill="#156e78" shape-rendering="crispEdges"/>
<rect x="387.08" y="378.00" width="5.29" height="5.28" fill="#156e78" shape-rendering="crispEdges"/>
<rect x="392.38" y="378.00" width="5.29" height="5.28" fill="#156e78" shape-rendering="crispEdges"/>
<rect x="397.67" y="378.00" width="5.29" height="5.28" fill="#121a24" shape-rendering="crispEdges"/>
<rect x="402.96" y="378.00" width="5.29" height="5.28" fill="#1f8e9a" shape-rendering="crispEdges"/>
<rect x="408.26" y="378.00" width="5.29" height="5.28" fill="#0d4a52" shape-rendering="crispEdges"/>
<rect x="413.55" y="378.00" width="5.29" height="5.28" fill="#0d4a52" shape-rendering="crispEdges"/>
<rect x="418.85" y="378.00" width="5.29" height="5.28" fill="#156e78" shape-rendering="crispEdges"/>
<rect x="424.14" y="378.00" width="5.29" height="5.28" fill="#156e78" shape-rendering="crispEdges"/>
<rect x="429.44" y="378.00" width="5.29" height="5.28" fill="#156e78" shape-rendering="crispEdges"/>
<rect x="434.73" y="378.00" width="5.29" height="5.28" fill="#6e5e14" shape-rendering="crispEdges"/>
<rect x="440.02" y="378.00" width="5.29" height="5.28" fill="#156e78" shape-rendering="crispEdges"/>
<rect x="445.32" y="378.00" width="5.29" height="5.28" fill="#1f8e9a" shape-rendering="crispEdges"/>
<rect x="450.61" y="378.00" width="5.29" height="5.28" fill="#121a24" shape-rendering="crispEdges"/>
<rect x="455.91" y="378.00" width="5.29" height="5.28" fill="#121a24" shape-rendering="crispEdges"/>
<rect x="371.20" y="383.28" width="5.29" height="5.28" fill="#121a24" shape-rendering="crispEdges"/>
<rect x="376.49" y="383.28" width="5.29" height="5.28" fill="#156e78" shape-rendering="crispEdges"/>
<rect x="381.79" y="383.28" width="5.29" height="5.28" fill="#121a24" shape-rendering="crispEdges"/>
<rect x="387.08" y="383.28" width="5.29" height="5.28" fill="#156e78" shape-rendering="crispEdges"/>
<rect x="392.38" y="383.28" width="5.29" height="5.28" fill="#0d4a52" shape-rendering="crispEdges"/>
<rect x="397.67" y="383.28" width="5.29" height="5.28" fill="#156e78" shape-rendering="crispEdges"/>
<rect x="402.96" y="383.28" width="5.29" height="5.28" fill="#156e78" shape-rendering="crispEdges"/>
<rect x="408.26" y="383.28" width="5.29" height="5.28" fill="#156e78" shape-rendering="crispEdges"/>
<rect x="413.55" y="383.28" width="5.29" height="5.28" fill="#156e78" shape-rendering="crispEdges"/>
<rect x="418.85" y="383.28" width="5.29" height="5.28" fill="#156e78" shape-rendering="crispEdges"/>
<rect x="424.14" y="383.28" width="5.29" height="5.28" fill="#1f8e9a" shape-rendering="crispEdges"/>
<rect x="429.44" y="383.28" width="5.29" height="5.28" fill="#156e78" shape-rendering="crispEdges"/>
<rect x="434.73" y="383.28" width="5.29" height="5.28" fill="#156e78" shape-rendering="crispEdges"/>
<rect x="440.02" y="383.28" width="5.29" height="5.28" fill="#0d4a52" shape-rendering="crispEdges"/>
<rect x="445.32" y="383.28" width="5.29" height="5.28" fill="#156e78" shape-rendering="crispEdges"/>
<rect x="450.61" y="383.28" width="5.29" height="5.28" fill="#6e5e14" shape-rendering="crispEdges"/>
<rect x="455.91" y="383.28" width="5.29" height="5.28" fill="#121a24" shape-rendering="crispEdges"/>
<rect x="371.20" y="388.56" width="5.29" height="5.28" fill="#121a24" shape-rendering="crispEdges"/>
<rect x="376.49" y="388.56" width="5.29" height="5.28" fill="#0d4a52" shape-rendering="crispEdges"/>
<rect x="381.79" y="388.56" width="5.29" height="5.28" fill="#0d4a52" shape-rendering="crispEdges"/>
<rect x="387.08" y="388.56" width="5.29" height="5.28" fill="#1f8e9a" shape-rendering="crispEdges"/>
<rect x="392.38" y="388.56" width="5.29" height="5.28" fill="#0d4a52" shape-rendering="crispEdges"/>
<rect x="397.67" y="388.56" width="5.29" height="5.28" fill="#1f8e9a" shape-rendering="crispEdges"/>
<rect x="402.96" y="388.56" width="5.29" height="5.28" fill="#156e78" shape-rendering="crispEdges"/>
<rect x="408.26" y="388.56" width="5.29" height="5.28" fill="#156e78" shape-rendering="crispEdges"/>
<rect x="413.55" y="388.56" width="5.29" height="5.28" fill="#156e78" shape-rendering="crispEdges"/>
<rect x="418.85" y="388.56" width="5.29" height="5.28" fill="#1f8e9a" shape-rendering="crispEdges"/>
<rect x="424.14" y="388.56" width="5.29" height="5.28" fill="#121a24" shape-rendering="crispEdges"/>
<rect x="429.44" y="388.56" width="5.29" height="5.28" fill="#156e78" shape-rendering="crispEdges"/>
<rect x="434.73" y="388.56" width="5.29" height="5.28" fill="#156e78" shape-rendering="crispEdges"/>
<rect x="440.02" y="388.56" width="5.29" height="5.28" fill="#156e78" shape-rendering="crispEdges"/>
<rect x="445.32" y="388.56" width="5.29" height="5.28" fill="#156e78" shape-rendering="crispEdges"/>
<rect x="450.61" y="388.56" width="5.29" height="5.28" fill="#121a24" shape-rendering="crispEdges"/>
<rect x="455.91" y="388.56" width="5.29" height="5.28" fill="#1f8e9a" shape-rendering="crispEdges"/>
<rect x="371.20" y="393.84" width="5.29" height="5.28" fill="#156e78" shape-rendering="crispEdges"/>
<rect x="376.49" y="393.84" width="5.29" height="5.28" fill="#156e78" shape-rendering="crispEdges"/>
<rect x="381.79" y="393.84" width="5.29" height="5.28" fill="#0d4a52" shape-rendering="crispEdges"/>
<rect x="387.08" y="393.84" width="5.29" height="5.28" fill="#0d4a52" shape-rendering="crispEdges"/>
<rect x="392.38" y="393.84" width="5.29" height="5.28" fill="#d4c41a" shape-rendering="crispEdges"/>
<rect x="397.67" y="393.84" width="5.29" height="5.28" fill="#156e78" shape-rendering="crispEdges"/>
<rect x="402.96" y="393.84" width="5.29" height="5.28" fill="#121a24" shape-rendering="crispEdges"/>
<rect x="408.26" y="393.84" width="5.29" height="5.28" fill="#121a24" shape-rendering="crispEdges"/>
<rect x="413.55" y="393.84" width="5.29" height="5.28" fill="#156e78" shape-rendering="crispEdges"/>
<rect x="418.85" y="393.84" width="5.29" height="5.28" fill="#156e78" shape-rendering="crispEdges"/>
<rect x="424.14" y="393.84" width="5.29" height="5.28" fill="#156e78" shape-rendering="crispEdges"/>
<rect x="429.44" y="393.84" width="5.29" height="5.28" fill="#0d4a52" shape-rendering="crispEdges"/>
<rect x="434.73" y="393.84" width="5.29" height="5.28" fill="#156e78" shape-rendering="crispEdges"/>
<rect x="440.02" y="393.84" width="5.29" height="5.28" fill="#156e78" shape-rendering="crispEdges"/>
<rect x="445.32" y="393.84" width="5.29" height="5.28" fill="#d4c41a" shape-rendering="crispEdges"/>
<rect x="450.61" y="393.84" width="5.29" height="5.28" fill="#f4e416" shape-rendering="crispEdges"/>
<rect x="455.91" y="393.84" width="5.29" height="5.28" fill="#d4c41a" shape-rendering="crispEdges"/>
<rect x="371.20" y="399.12" width="5.29" height="5.28" fill="#1f8e9a" shape-rendering="crispEdges"/>
<rect x="376.49" y="399.12" width="5.29" height="5.28" fill="#6e5e14" shape-rendering="crispEdges"/>
<rect x="381.79" y="399.12" width="5.29" height="5.28" fill="#0d4a52" shape-rendering="crispEdges"/>
<rect x="387.08" y="399.12" width="5.29" height="5.28" fill="#121a24" shape-rendering="crispEdges"/>
<rect x="392.38" y="399.12" width="5.29" height="5.28" fill="#0d4a52" shape-rendering="crispEdges"/>
<rect x="397.67" y="399.12" width="5.29" height="5.28" fill="#f4e416" shape-rendering="crispEdges"/>
<rect x="402.96" y="399.12" width="5.29" height="5.28" fill="#121a24" shape-rendering="crispEdges"/>
<rect x="408.26" y="399.12" width="5.29" height="5.28" fill="#6e5e14" shape-rendering="crispEdges"/>
<rect x="413.55" y="399.12" width="5.29" height="5.28" fill="#121a24" shape-rendering="crispEdges"/>
<rect x="418.85" y="399.12" width="5.29" height="5.28" fill="#156e78" shape-rendering="crispEdges"/>
<rect x="424.14" y="399.12" width="5.29" height="5.28" fill="#f4e416" shape-rendering="crispEdges"/>
<rect x="429.44" y="399.12" width="5.29" height="5.28" fill="#121a24" shape-rendering="crispEdges"/>
<rect x="434.73" y="399.12" width="5.29" height="5.28" fill="#156e78" shape-rendering="crispEdges"/>
<rect x="440.02" y="399.12" width="5.29" height="5.28" fill="#121a24" shape-rendering="crispEdges"/>
<rect x="445.32" y="399.12" width="5.29" height="5.28" fill="#d4c41a" shape-rendering="crispEdges"/>
<rect x="450.61" y="399.12" width="5.29" height="5.28" fill="#d4c41a" shape-rendering="crispEdges"/>
<rect x="455.91" y="399.12" width="5.29" height="5.28" fill="#121a24" shape-rendering="crispEdges"/>
<rect x="371.20" y="404.40" width="5.29" height="5.28" fill="#1f8e9a" shape-rendering="crispEdges"/>
<rect x="376.49" y="404.40" width="5.29" height="5.28" fill="#0d4a52" shape-rendering="crispEdges"/>
<rect x="381.79" y="404.40" width="5.29" height="5.28" fill="#6e5e14" shape-rendering="crispEdges"/>
<rect x="387.08" y="404.40" width="5.29" height="5.28" fill="#a49418" shape-rendering="crispEdges"/>
<rect x="392.38" y="404.40" width="5.29" height="5.28" fill="#156e78" shape-rendering="crispEdges"/>
<rect x="397.67" y="404.40" width="5.29" height="5.28" fill="#f4e416" shape-rendering="crispEdges"/>
<rect x="402.96" y="404.40" width="5.29" height="5.28" fill="#d4c41a" shape-rendering="crispEdges"/>
<rect x="408.26" y="404.40" width="5.29" height="5.28" fill="#0d4a52" shape-rendering="crispEdges"/>
<rect x="413.55" y="404.40" width="5.29" height="5.28" fill="#121a24" shape-rendering="crispEdges"/>
<rect x="418.85" y="404.40" width="5.29" height="5.28" fill="#121a24" shape-rendering="crispEdges"/>
<rect x="424.14" y="404.40" width="5.29" height="5.28" fill="#f4e416" shape-rendering="crispEdges"/>
<rect x="429.44" y="404.40" width="5.29" height="5.28" fill="#121a24" shape-rendering="crispEdges"/>
<rect x="434.73" y="404.40" width="5.29" height="5.28" fill="#156e78" shape-rendering="crispEdges"/>
<rect x="440.02" y="404.40" width="5.29" height="5.28" fill="#6e5e14" shape-rendering="crispEdges"/>
<rect x="445.32" y="404.40" width="5.29" height="5.28" fill="#f4e416" shape-rendering="crispEdges"/>
<rect x="450.61" y="404.40" width="5.29" height="5.28" fill="#a49418" shape-rendering="crispEdges"/>
<rect x="455.91" y="404.40" width="5.29" height="5.28" fill="#121a24" shape-rendering="crispEdges"/>
<rect x="371.20" y="409.68" width="5.29" height="5.28" fill="#6e5e14" shape-rendering="crispEdges"/>
<rect x="376.49" y="409.68" width="5.29" height="5.28" fill="#121a24" shape-rendering="crispEdges"/>
<rect x="381.79" y="409.68" width="5.29" height="5.28" fill="#d4c41a" shape-rendering="crispEdges"/>
<rect x="387.08" y="409.68" width="5.29" height="5.28" fill="#d4c41a" shape-rendering="crispEdges"/>
<rect x="392.38" y="409.68" width="5.29" height="5.28" fill="#121a24" shape-rendering="crispEdges"/>
<rect x="397.67" y="409.68" width="5.29" height="5.28" fill="#f4e416" shape-rendering="crispEdges"/>
<rect x="402.96" y="409.68" width="5.29" height="5.28" fill="#f4e416" shape-rendering="crispEdges"/>
<rect x="408.26" y="409.68" width="5.29" height="5.28" fill="#a49418" shape-rendering="crispEdges"/>
<rect x="413.55" y="409.68" width="5.29" height="5.28" fill="#d4c41a" shape-rendering="crispEdges"/>
<rect x="418.85" y="409.68" width="5.29" height="5.28" fill="#f4e416" shape-rendering="crispEdges"/>
<rect x="424.14" y="409.68" width="5.29" height="5.28" fill="#0d4a52" shape-rendering="crispEdges"/>
<rect x="429.44" y="409.68" width="5.29" height="5.28" fill="#6e5e14" shape-rendering="crispEdges"/>
<rect x="434.73" y="409.68" width="5.29" height="5.28" fill="#0d4a52" shape-rendering="crispEdges"/>
<rect x="440.02" y="409.68" width="5.29" height="5.28" fill="#156e78" shape-rendering="crispEdges"/>
<rect x="445.32" y="409.68" width="5.29" height="5.28" fill="#0d4a52" shape-rendering="crispEdges"/>
<rect x="450.61" y="409.68" width="5.29" height="5.28" fill="#0d4a52" shape-rendering="crispEdges"/>
<rect x="455.91" y="409.68" width="5.29" height="5.28" fill="#121a24" shape-rendering="crispEdges"/>
<rect x="371.20" y="414.96" width="5.29" height="5.28" fill="#121a24" shape-rendering="crispEdges"/>
<rect x="376.49" y="414.96" width="5.29" height="5.28" fill="#6e5e14" shape-rendering="crispEdges"/>
<rect x="381.79" y="414.96" width="5.29" height="5.28" fill="#6e5e14" shape-rendering="crispEdges"/>
<rect x="387.08" y="414.96" width="5.29" height="5.28" fill="#f4e416" shape-rendering="crispEdges"/>
<rect x="392.38" y="414.96" width="5.29" height="5.28" fill="#f4e416" shape-rendering="crispEdges"/>
<rect x="397.67" y="414.96" width="5.29" height="5.28" fill="#d4c41a" shape-rendering="crispEdges"/>
<rect x="402.96" y="414.96" width="5.29" height="5.28" fill="#a49418" shape-rendering="crispEdges"/>
<rect x="408.26" y="414.96" width="5.29" height="5.28" fill="#6e5e14" shape-rendering="crispEdges"/>
<rect x="413.55" y="414.96" width="5.29" height="5.28" fill="#6e5e14" shape-rendering="crispEdges"/>
<rect x="418.85" y="414.96" width="5.29" height="5.28" fill="#f4e416" shape-rendering="crispEdges"/>
<rect x="424.14" y="414.96" width="5.29" height="5.28" fill="#121a24" shape-rendering="crispEdges"/>
<rect x="429.44" y="414.96" width="5.29" height="5.28" fill="#121a24" shape-rendering="crispEdges"/>
<rect x="434.73" y="414.96" width="5.29" height="5.28" fill="#121a24" shape-rendering="crispEdges"/>
<rect x="440.02" y="414.96" width="5.29" height="5.28" fill="#121a24" shape-rendering="crispEdges"/>
<rect x="445.32" y="414.96" width="5.29" height="5.28" fill="#121a24" shape-rendering="crispEdges"/>
<rect x="450.61" y="414.96" width="5.29" height="5.28" fill="#6e5e14" shape-rendering="crispEdges"/>
<rect x="455.91" y="414.96" width="5.29" height="5.28" fill="#121a24" shape-rendering="crispEdges"/>
<rect x="371.20" y="420.24" width="5.29" height="5.28" fill="#0d4a52" shape-rendering="crispEdges"/>
<rect x="376.49" y="420.24" width="5.29" height="5.28" fill="#6e5e14" shape-rendering="crispEdges"/>
<rect x="381.79" y="420.24" width="5.29" height="5.28" fill="#121a24" shape-rendering="crispEdges"/>
<rect x="387.08" y="420.24" width="5.29" height="5.28" fill="#f4e416" shape-rendering="crispEdges"/>
<rect x="392.38" y="420.24" width="5.29" height="5.28" fill="#121a24" shape-rendering="crispEdges"/>
<rect x="397.67" y="420.24" width="5.29" height="5.28" fill="#f4e416" shape-rendering="crispEdges"/>
<rect x="402.96" y="420.24" width="5.29" height="5.28" fill="#6e5e14" shape-rendering="crispEdges"/>
<rect x="408.26" y="420.24" width="5.29" height="5.28" fill="#121a24" shape-rendering="crispEdges"/>
<rect x="413.55" y="420.24" width="5.29" height="5.28" fill="#121a24" shape-rendering="crispEdges"/>
<rect x="418.85" y="420.24" width="5.29" height="5.28" fill="#6e5e14" shape-rendering="crispEdges"/>
<rect x="424.14" y="420.24" width="5.29" height="5.28" fill="#121a24" shape-rendering="crispEdges"/>
<rect x="429.44" y="420.24" width="5.29" height="5.28" fill="#121a24" shape-rendering="crispEdges"/>
<rect x="434.73" y="420.24" width="5.29" height="5.28" fill="#6e5e14" shape-rendering="crispEdges"/>
<rect x="440.02" y="420.24" width="5.29" height="5.28" fill="#a49418" shape-rendering="crispEdges"/>
<rect x="445.32" y="420.24" width="5.29" height="5.28" fill="#a49418" shape-rendering="crispEdges"/>
<rect x="450.61" y="420.24" width="5.29" height="5.28" fill="#121a24" shape-rendering="crispEdges"/>
<rect x="455.91" y="420.24" width="5.29" height="5.28" fill="#121a24" shape-rendering="crispEdges"/>
<rect x="371.20" y="425.52" width="5.29" height="5.28" fill="#121a24" shape-rendering="crispEdges"/>
<rect x="376.49" y="425.52" width="5.29" height="5.28" fill="#121a24" shape-rendering="crispEdges"/>
<rect x="381.79" y="425.52" width="5.29" height="5.28" fill="#121a24" shape-rendering="crispEdges"/>
<rect x="387.08" y="425.52" width="5.29" height="5.28" fill="#f4e416" shape-rendering="crispEdges"/>
<rect x="392.38" y="425.52" width="5.29" height="5.28" fill="#6e5e14" shape-rendering="crispEdges"/>
<rect x="397.67" y="425.52" width="5.29" height="5.28" fill="#6e5e14" shape-rendering="crispEdges"/>
<rect x="402.96" y="425.52" width="5.29" height="5.28" fill="#121a24" shape-rendering="crispEdges"/>
<rect x="408.26" y="425.52" width="5.29" height="5.28" fill="#f4e416" shape-rendering="crispEdges"/>
<rect x="413.55" y="425.52" width="5.29" height="5.28" fill="#a49418" shape-rendering="crispEdges"/>
<rect x="418.85" y="425.52" width="5.29" height="5.28" fill="#d4c41a" shape-rendering="crispEdges"/>
<rect x="424.14" y="425.52" width="5.29" height="5.28" fill="#0d4a52" shape-rendering="crispEdges"/>
<rect x="429.44" y="425.52" width="5.29" height="5.28" fill="#121a24" shape-rendering="crispEdges"/>
<rect x="434.73" y="425.52" width="5.29" height="5.28" fill="#0d4a52" shape-rendering="crispEdges"/>
<rect x="440.02" y="425.52" width="5.29" height="5.28" fill="#121a24" shape-rendering="crispEdges"/>
<rect x="445.32" y="425.52" width="5.29" height="5.28" fill="#6e5e14" shape-rendering="crispEdges"/>
<rect x="450.61" y="425.52" width="5.29" height="5.28" fill="#6e5e14" shape-rendering="crispEdges"/>
<rect x="455.91" y="425.52" width="5.29" height="5.28" fill="#121a24" shape-rendering="crispEdges"/>
<rect x="371.20" y="430.80" width="5.29" height="5.28" fill="#a49418" shape-rendering="crispEdges"/>
<rect x="376.49" y="430.80" width="5.29" height="5.28" fill="#121a24" shape-rendering="crispEdges"/>
<rect x="381.79" y="430.80" width="5.29" height="5.28" fill="#121a24" shape-rendering="crispEdges"/>
<rect x="387.08" y="430.80" width="5.29" height="5.28" fill="#121a24" shape-rendering="crispEdges"/>
<rect x="392.38" y="430.80" width="5.29" height="5.28" fill="#d4c41a" shape-rendering="crispEdges"/>
<rect x="397.67" y="430.80" width="5.29" height="5.28" fill="#f4e416" shape-rendering="crispEdges"/>
<rect x="402.96" y="430.80" width="5.29" height="5.28" fill="#f4e416" shape-rendering="crispEdges"/>
<rect x="408.26" y="430.80" width="5.29" height="5.28" fill="#f4e416" shape-rendering="crispEdges"/>
<rect x="413.55" y="430.80" width="5.29" height="5.28" fill="#f4e416" shape-rendering="crispEdges"/>
<rect x="418.85" y="430.80" width="5.29" height="5.28" fill="#a49418" shape-rendering="crispEdges"/>
<rect x="424.14" y="430.80" width="5.29" height="5.28" fill="#121a24" shape-rendering="crispEdges"/>
<rect x="429.44" y="430.80" width="5.29" height="5.28" fill="#d4c41a" shape-rendering="crispEdges"/>
<rect x="434.73" y="430.80" width="5.29" height="5.28" fill="#156e78" shape-rendering="crispEdges"/>
<rect x="440.02" y="430.80" width="5.29" height="5.28" fill="#6e5e14" shape-rendering="crispEdges"/>
<rect x="445.32" y="430.80" width="5.29" height="5.28" fill="#a49418" shape-rendering="crispEdges"/>
<rect x="450.61" y="430.80" width="5.29" height="5.28" fill="#121a24" shape-rendering="crispEdges"/>
<rect x="455.91" y="430.80" width="5.29" height="5.28" fill="#121a24" shape-rendering="crispEdges"/>
<rect x="371.20" y="436.08" width="5.29" height="5.28" fill="#121a24" shape-rendering="crispEdges"/>
<rect x="376.49" y="436.08" width="5.29" height="5.28" fill="#d4c41a" shape-rendering="crispEdges"/>
<rect x="381.79" y="436.08" width="5.29" height="5.28" fill="#d4c41a" shape-rendering="crispEdges"/>
<rect x="387.08" y="436.08" width="5.29" height="5.28" fill="#d4c41a" shape-rendering="crispEdges"/>
<rect x="392.38" y="436.08" width="5.29" height="5.28" fill="#a49418" shape-rendering="crispEdges"/>
<rect x="397.67" y="436.08" width="5.29" height="5.28" fill="#121a24" shape-rendering="crispEdges"/>
<rect x="402.96" y="436.08" width="5.29" height="5.28" fill="#121a24" shape-rendering="crispEdges"/>
<rect x="408.26" y="436.08" width="5.29" height="5.28" fill="#0d4a52" shape-rendering="crispEdges"/>
<rect x="413.55" y="436.08" width="5.29" height="5.28" fill="#121a24" shape-rendering="crispEdges"/>
<rect x="418.85" y="436.08" width="5.29" height="5.28" fill="#121a24" shape-rendering="crispEdges"/>
<rect x="424.14" y="436.08" width="5.29" height="5.28" fill="#121a24" shape-rendering="crispEdges"/>
<rect x="429.44" y="436.08" width="5.29" height="5.28" fill="#121a24" shape-rendering="crispEdges"/>
<rect x="434.73" y="436.08" width="5.29" height="5.28" fill="#156e78" shape-rendering="crispEdges"/>
<rect x="440.02" y="436.08" width="5.29" height="5.28" fill="#a49418" shape-rendering="crispEdges"/>
<rect x="445.32" y="436.08" width="5.29" height="5.28" fill="#d4c41a" shape-rendering="crispEdges"/>
<rect x="450.61" y="436.08" width="5.29" height="5.28" fill="#121a24" shape-rendering="crispEdges"/>
<rect x="455.91" y="436.08" width="5.29" height="5.28" fill="#1f8e9a" shape-rendering="crispEdges"/>
<rect x="233.10" y="255.00" width="5.29" height="6.20" fill="#e2282d" shape-rendering="crispEdges"/>
<rect x="233.10" y="262.40" width="5.29" height="6.20" fill="#e5c08a" shape-rendering="crispEdges"/>
<rect x="238.39" y="255.00" width="5.29" height="6.20" fill="#e2282d" shape-rendering="crispEdges"/>
<rect x="238.39" y="262.40" width="5.29" height="6.20" fill="#e5c08a" shape-rendering="crispEdges"/>
<rect x="243.67" y="255.00" width="5.29" height="6.20" fill="#e2282d" shape-rendering="crispEdges"/>
<rect x="243.67" y="262.40" width="5.29" height="6.20" fill="#e5c08a" shape-rendering="crispEdges"/>
<rect x="248.96" y="255.00" width="5.29" height="6.20" fill="#e2282d" shape-rendering="crispEdges"/>
<rect x="248.96" y="262.40" width="5.29" height="6.20" fill="#e5c08a" shape-rendering="crispEdges"/>
<rect x="254.25" y="255.00" width="5.29" height="6.20" fill="#e2282d" shape-rendering="crispEdges"/>
<rect x="254.25" y="262.40" width="5.29" height="6.20" fill="#e5c08a" shape-rendering="crispEdges"/>
<rect x="259.54" y="255.00" width="5.29" height="6.20" fill="#e2282d" shape-rendering="crispEdges"/>
<rect x="259.54" y="262.40" width="5.29" height="6.20" fill="#e5c08a" shape-rendering="crispEdges"/>
<rect x="264.82" y="255.00" width="5.29" height="6.20" fill="#e2282d" shape-rendering="crispEdges"/>
<rect x="264.82" y="262.40" width="5.29" height="6.20" fill="#e5c08a" shape-rendering="crispEdges"/>
<rect x="270.11" y="255.00" width="5.29" height="6.20" fill="#e2282d" shape-rendering="crispEdges"/>
<rect x="270.11" y="262.40" width="5.29" height="6.20" fill="#e5c08a" shape-rendering="crispEdges"/>
<rect x="275.40" y="255.00" width="5.29" height="6.20" fill="#e2282d" shape-rendering="crispEdges"/>
<rect x="275.40" y="262.40" width="5.29" height="6.20" fill="#e5c08a" shape-rendering="crispEdges"/>
<rect x="280.69" y="255.00" width="5.29" height="6.20" fill="#e2282d" shape-rendering="crispEdges"/>
<rect x="280.69" y="262.40" width="5.29" height="6.20" fill="#e5c08a" shape-rendering="crispEdges"/>
<rect x="285.98" y="255.00" width="5.29" height="6.20" fill="#e2282d" shape-rendering="crispEdges"/>
<rect x="285.98" y="262.40" width="5.29" height="6.20" fill="#e5c08a" shape-rendering="crispEdges"/>
<rect x="291.26" y="255.00" width="5.29" height="6.20" fill="#e2282d" shape-rendering="crispEdges"/>
<rect x="291.26" y="262.40" width="5.29" height="6.20" fill="#e5c08a" shape-rendering="crispEdges"/>
<rect x="296.55" y="255.00" width="5.29" height="6.20" fill="#e2282d" shape-rendering="crispEdges"/>
<rect x="296.55" y="262.40" width="5.29" height="6.20" fill="#e5c08a" shape-rendering="crispEdges"/>
<rect x="301.84" y="255.00" width="5.29" height="6.20" fill="#e2282d" shape-rendering="crispEdges"/>
<rect x="301.84" y="262.40" width="5.29" height="6.20" fill="#e5c08a" shape-rendering="crispEdges"/>
<rect x="307.12" y="255.00" width="5.29" height="6.20" fill="#e2282d" shape-rendering="crispEdges"/>
<rect x="307.12" y="262.40" width="5.29" height="6.20" fill="#e5c08a" shape-rendering="crispEdges"/>
<rect x="312.41" y="255.00" width="5.29" height="6.20" fill="#e2282d" shape-rendering="crispEdges"/>
<rect x="312.41" y="262.40" width="5.29" height="6.20" fill="#e5c08a" shape-rendering="crispEdges"/>
<rect x="323.50" y="255.00" width="5.25" height="6.20" fill="#e2282d" shape-rendering="crispEdges"/>
<rect x="323.50" y="262.40" width="5.25" height="6.20" fill="#c8921a" shape-rendering="crispEdges"/>
<rect x="328.75" y="255.00" width="5.25" height="6.20" fill="#a9cf8c" shape-rendering="crispEdges"/>
<rect x="328.75" y="262.40" width="5.25" height="6.20" fill="#c8921a" shape-rendering="crispEdges"/>
<rect x="334.00" y="255.00" width="5.25" height="6.20" fill="#a9cf8c" shape-rendering="crispEdges"/>
<rect x="334.00" y="262.40" width="5.25" height="6.20" fill="#c8921a" shape-rendering="crispEdges"/>
<rect x="339.25" y="255.00" width="5.25" height="6.20" fill="#2e54a6" shape-rendering="crispEdges"/>
<rect x="339.25" y="262.40" width="5.25" height="6.20" fill="#c8921a" shape-rendering="crispEdges"/>
<rect x="344.50" y="255.00" width="5.25" height="6.20" fill="#e2282d" shape-rendering="crispEdges"/>
<rect x="344.50" y="262.40" width="5.25" height="6.20" fill="#c8921a" shape-rendering="crispEdges"/>
<rect x="349.75" y="255.00" width="5.25" height="6.20" fill="#e2282d" shape-rendering="crispEdges"/>
<rect x="349.75" y="262.40" width="5.25" height="6.20" fill="#c8921a" shape-rendering="crispEdges"/>
<rect x="355.00" y="255.00" width="5.25" height="6.20" fill="#2a2a2a" shape-rendering="crispEdges"/>
<rect x="355.00" y="262.40" width="5.25" height="6.20" fill="#c8921a" shape-rendering="crispEdges"/>
<rect x="360.25" y="255.00" width="5.25" height="6.20" fill="#e2282d" shape-rendering="crispEdges"/>
<rect x="360.25" y="262.40" width="5.25" height="6.20" fill="#c8921a" shape-rendering="crispEdges"/>
<rect x="371.20" y="255.00" width="5.29" height="6.20" fill="#2a2a2a" shape-rendering="crispEdges"/>
<rect x="371.20" y="262.40" width="5.29" height="6.20" fill="#f07d16" shape-rendering="crispEdges"/>
<rect x="376.49" y="255.00" width="5.29" height="6.20" fill="#e2282d" shape-rendering="crispEdges"/>
<rect x="376.49" y="262.40" width="5.29" height="6.20" fill="#f07d16" shape-rendering="crispEdges"/>
<rect x="381.79" y="255.00" width="5.29" height="6.20" fill="#2a2a2a" shape-rendering="crispEdges"/>
<rect x="381.79" y="262.40" width="5.29" height="6.20" fill="#f07d16" shape-rendering="crispEdges"/>
<rect x="387.08" y="255.00" width="5.29" height="6.20" fill="#e2282d" shape-rendering="crispEdges"/>
<rect x="387.08" y="262.40" width="5.29" height="6.20" fill="#f07d16" shape-rendering="crispEdges"/>
<rect x="392.38" y="255.00" width="5.29" height="6.20" fill="#2e54a6" shape-rendering="crispEdges"/>
<rect x="392.38" y="262.40" width="5.29" height="6.20" fill="#f07d16" shape-rendering="crispEdges"/>
<rect x="397.67" y="255.00" width="5.29" height="6.20" fill="#2a2a2a" shape-rendering="crispEdges"/>
<rect x="397.67" y="262.40" width="5.29" height="6.20" fill="#f07d16" shape-rendering="crispEdges"/>
<rect x="402.96" y="255.00" width="5.29" height="6.20" fill="#2e54a6" shape-rendering="crispEdges"/>
<rect x="402.96" y="262.40" width="5.29" height="6.20" fill="#f07d16" shape-rendering="crispEdges"/>
<rect x="408.26" y="255.00" width="5.29" height="6.20" fill="#2a2a2a" shape-rendering="crispEdges"/>
<rect x="408.26" y="262.40" width="5.29" height="6.20" fill="#f07d16" shape-rendering="crispEdges"/>
<rect x="413.55" y="255.00" width="5.29" height="6.20" fill="#2a2a2a" shape-rendering="crispEdges"/>
<rect x="413.55" y="262.40" width="5.29" height="6.20" fill="#f07d16" shape-rendering="crispEdges"/>
<rect x="418.85" y="255.00" width="5.29" height="6.20" fill="#2a2a2a" shape-rendering="crispEdges"/>
<rect x="418.85" y="262.40" width="5.29" height="6.20" fill="#f07d16" shape-rendering="crispEdges"/>
<rect x="424.14" y="255.00" width="5.29" height="6.20" fill="#2e54a6" shape-rendering="crispEdges"/>
<rect x="424.14" y="262.40" width="5.29" height="6.20" fill="#f07d16" shape-rendering="crispEdges"/>
<rect x="429.44" y="255.00" width="5.29" height="6.20" fill="#2e54a6" shape-rendering="crispEdges"/>
<rect x="429.44" y="262.40" width="5.29" height="6.20" fill="#f07d16" shape-rendering="crispEdges"/>
<rect x="434.73" y="255.00" width="5.29" height="6.20" fill="#a9cf8c" shape-rendering="crispEdges"/>
<rect x="434.73" y="262.40" width="5.29" height="6.20" fill="#f07d16" shape-rendering="crispEdges"/>
<rect x="440.02" y="255.00" width="5.29" height="6.20" fill="#e2282d" shape-rendering="crispEdges"/>
<rect x="440.02" y="262.40" width="5.29" height="6.20" fill="#f07d16" shape-rendering="crispEdges"/>
<rect x="445.32" y="255.00" width="5.29" height="6.20" fill="#2e54a6" shape-rendering="crispEdges"/>
<rect x="445.32" y="262.40" width="5.29" height="6.20" fill="#f07d16" shape-rendering="crispEdges"/>
<rect x="450.61" y="255.00" width="5.29" height="6.20" fill="#e2282d" shape-rendering="crispEdges"/>
<rect x="450.61" y="262.40" width="5.29" height="6.20" fill="#f07d16" shape-rendering="crispEdges"/>
<rect x="455.91" y="255.00" width="5.29" height="6.20" fill="#a9cf8c" shape-rendering="crispEdges"/>
<rect x="455.91" y="262.40" width="5.29" height="6.20" fill="#f07d16" shape-rendering="crispEdges"/>
<text x="229.80" y="261.00" font-size="7.4" text-anchor="end" fill="#222" stroke="#222" stroke-width="0.15">Fusion</text>
<text x="229.80" y="267.00" font-size="7.8" text-anchor="end" fill="#222" stroke="#222" stroke-width="0.15">Group</text>
<path d="M275.40,209.50V193.70H393.26V202.50" fill="none" stroke="#666" stroke-width="0.95"/>
<path d="M270.11,212.30V209.50H312.41V215.80" fill="none" stroke="#666" stroke-width="0.95"/>
<path d="M264.82,214.50V212.30H301.84V222.00" fill="none" stroke="#666" stroke-width="0.95"/>
<path d="M259.54,220.60V214.50H291.26V222.90" fill="none" stroke="#666" stroke-width="0.95"/>
<path d="M248.96,225.20V220.60H275.40V224.00" fill="none" stroke="#666" stroke-width="0.95"/>
<path d="M235.74,250.60V225.20H251.61V232.40" fill="none" stroke="#666" stroke-width="0.95"/>
<path d="M241.03,250.60V232.40H254.25V235.60" fill="none" stroke="#666" stroke-width="0.95"/>
<path d="M246.32,250.60V235.60H256.89V240.20" fill="none" stroke="#666" stroke-width="0.95"/>
<path d="M254.25,242.50V240.20H262.18V250.60" fill="none" stroke="#666" stroke-width="0.95"/>
<path d="M251.61,250.60V242.50H256.89V250.60" fill="none" stroke="#666" stroke-width="0.95"/>
<path d="M270.11,237.60V224.00H280.69V233.20" fill="none" stroke="#666" stroke-width="0.95"/>
<path d="M267.47,250.60V237.60H272.76V250.60" fill="none" stroke="#666" stroke-width="0.95"/>
<path d="M278.04,250.60V233.20H283.33V250.60" fill="none" stroke="#666" stroke-width="0.95"/>
<path d="M288.62,250.60V222.90H293.91V250.60" fill="none" stroke="#666" stroke-width="0.95"/>
<path d="M299.19,250.60V222.00H304.48V250.60" fill="none" stroke="#666" stroke-width="0.95"/>
<path d="M309.77,250.60V215.80H315.06V250.60" fill="none" stroke="#666" stroke-width="0.95"/>
<path d="M344.50,206.90V202.50H416.20V209.30" fill="none" stroke="#666" stroke-width="0.95"/>
<path d="M334.00,211.90V206.90H355.00V215.40" fill="none" stroke="#666" stroke-width="0.95"/>
<path d="M328.75,219.00V211.90H339.25V222.90" fill="none" stroke="#666" stroke-width="0.95"/>
<path d="M326.12,250.60V219.00H331.38V250.60" fill="none" stroke="#666" stroke-width="0.95"/>
<path d="M336.62,250.60V222.90H341.88V250.60" fill="none" stroke="#666" stroke-width="0.95"/>
<path d="M347.12,250.60V215.40H357.62V226.30" fill="none" stroke="#666" stroke-width="0.95"/>
<path d="M355.00,229.60V226.30H362.88V250.60" fill="none" stroke="#666" stroke-width="0.95"/>
<path d="M352.38,250.60V229.60H357.62V250.60" fill="none" stroke="#666" stroke-width="0.95"/>
<path d="M373.85,250.60V209.30H418.85V216.60" fill="none" stroke="#666" stroke-width="0.95"/>
<path d="M408.26,219.60V216.60H450.61V229.30" fill="none" stroke="#666" stroke-width="0.95"/>
<path d="M405.61,220.50V219.60H437.38V250.60" fill="none" stroke="#666" stroke-width="0.95"/>
<path d="M400.32,225.20V220.50H429.44V226.50" fill="none" stroke="#666" stroke-width="0.95"/>
<path d="M381.79,228.60V225.20H405.61V229.50" fill="none" stroke="#666" stroke-width="0.95"/>
<path d="M379.14,250.60V228.60H384.44V250.60" fill="none" stroke="#666" stroke-width="0.95"/>
<path d="M392.38,232.60V229.50H410.91V235.30" fill="none" stroke="#666" stroke-width="0.95"/>
<path d="M389.73,250.60V232.60H395.02V250.60" fill="none" stroke="#666" stroke-width="0.95"/>
<path d="M408.26,238.00V235.30H421.49V250.60" fill="none" stroke="#666" stroke-width="0.95"/>
<path d="M402.96,241.30V238.00H413.55V247.80" fill="none" stroke="#666" stroke-width="0.95"/>
<path d="M400.32,250.60V241.30H405.61V250.60" fill="none" stroke="#666" stroke-width="0.95"/>
<path d="M410.91,250.60V247.80H416.20V250.60" fill="none" stroke="#666" stroke-width="0.95"/>
<path d="M426.79,250.60V226.50H432.08V250.60" fill="none" stroke="#666" stroke-width="0.95"/>
<path d="M447.96,232.70V229.30H458.55V250.60" fill="none" stroke="#666" stroke-width="0.95"/>
<path d="M445.32,237.30V232.70H453.26V250.60" fill="none" stroke="#666" stroke-width="0.95"/>
<path d="M442.67,250.60V237.30H447.96V250.60" fill="none" stroke="#666" stroke-width="0.95"/>
<text x="464.30" y="276.94" font-size="5.4" text-anchor="start" font-style="italic" fill="#333">F3</text>
<text x="464.30" y="282.22" font-size="5.4" text-anchor="start" font-style="italic" fill="#333">PARVB</text>
<text x="464.30" y="287.50" font-size="5.4" text-anchor="start" font-style="italic" fill="#333">SDCBP</text>
<text x="464.30" y="292.78" font-size="5.4" text-anchor="start" font-style="italic" fill="#333">CTTNBP2NL</text>
<text x="464.30" y="298.06" font-size="5.4" text-anchor="start" font-style="italic" fill="#333">GSPT1</text>
<text x="464.30" y="303.34" font-size="5.4" text-anchor="start" font-style="italic" fill="#333">ALDOA</text>
<text x="464.30" y="308.62" font-size="5.4" text-anchor="start" font-style="italic" fill="#333">CDC123</text>
<text x="464.30" y="313.90" font-size="5.4" text-anchor="start" font-style="italic" fill="#333">YWHAG</text>
<text x="464.30" y="319.18" font-size="5.4" text-anchor="start" font-style="italic" fill="#333">CACNA2D4</text>
<text x="464.30" y="324.46" font-size="5.4" text-anchor="start" font-style="italic" fill="#333">B4GALT5</text>
<text x="464.30" y="329.74" font-size="5.4" text-anchor="start" font-style="italic" fill="#333">ERLIN1</text>
<text x="464.30" y="335.02" font-size="5.4" text-anchor="start" font-style="italic" fill="#333">WDFY1</text>
<text x="464.30" y="340.30" font-size="5.4" text-anchor="start" font-style="italic" fill="#333">DUSP7</text>
<text x="464.30" y="345.58" font-size="5.4" text-anchor="start" font-style="italic" fill="#333">IL6R</text>
<text x="464.30" y="350.86" font-size="5.4" text-anchor="start" font-style="italic" fill="#333">COTL1</text>
<text x="464.30" y="356.14" font-size="5.4" text-anchor="start" font-style="italic" fill="#333">APLP2</text>
<text x="464.30" y="361.42" font-size="5.4" text-anchor="start" font-style="italic" fill="#333">RBM47</text>
<text x="464.30" y="366.70" font-size="5.4" text-anchor="start" font-style="italic" fill="#333">TLR2</text>
<text x="464.30" y="371.98" font-size="5.4" text-anchor="start" font-style="italic" fill="#333">ST3GAL6</text>
<text x="464.30" y="377.26" font-size="5.4" text-anchor="start" font-style="italic" fill="#333">UBP1</text>
<text x="464.30" y="382.54" font-size="5.4" text-anchor="start" font-style="italic" fill="#333">GBP2</text>
<text x="464.30" y="387.82" font-size="5.4" text-anchor="start" font-style="italic" fill="#333">PSTPIP2</text>
<text x="464.30" y="393.10" font-size="5.4" text-anchor="start" font-style="italic" fill="#333">C3AR1</text>
<text x="464.30" y="398.38" font-size="5.4" text-anchor="start" font-style="italic" fill="#333">SAMSN1</text>
<text x="464.30" y="403.66" font-size="5.4" text-anchor="start" font-style="italic" fill="#333">SENP7</text>
<text x="464.30" y="408.94" font-size="5.4" text-anchor="start" font-style="italic" fill="#333">ATP2A3</text>
<text x="464.30" y="414.22" font-size="5.4" text-anchor="start" font-style="italic" fill="#333">ERGIC1</text>
<text x="464.30" y="419.50" font-size="5.4" text-anchor="start" font-style="italic" fill="#333">GOLGA2P5</text>
<text x="464.30" y="424.78" font-size="5.4" text-anchor="start" font-style="italic" fill="#333">PHLDB2</text>
<text x="464.30" y="430.06" font-size="5.4" text-anchor="start" font-style="italic" fill="#333">RUNX2</text>
<text x="464.30" y="435.34" font-size="5.4" text-anchor="start" font-style="italic" fill="#333">SUPT3H</text>
<text x="464.30" y="440.62" font-size="5.4" text-anchor="start" font-style="italic" fill="#333">ZNF43</text>
<line x1="229.50" y1="272.80" x2="229.50" y2="396.40" stroke="#8a8a8a" stroke-width="1.0"/>
<line x1="229.50" y1="400.20" x2="229.50" y2="441.20" stroke="#8a8a8a" stroke-width="1.0"/>
<text x="224.30" y="312.50" font-size="7.5" text-anchor="middle" fill="#222" stroke="#222" stroke-width="0.15" transform="rotate(-90 224.30 312.50)">Resistant</text>
<text x="224.30" y="422.80" font-size="7.5" text-anchor="middle" fill="#222" stroke="#222" stroke-width="0.15" transform="rotate(-90 224.30 422.80)">Sensitive</text>
<defs><linearGradient id="dcb" x1="0" x2="0" y1="0" y2="1"><stop offset="0" stop-color="#ecdc22"/><stop offset="0.25" stop-color="#6a6210"/><stop offset="0.5" stop-color="#000"/><stop offset="0.75" stop-color="#2e6a70"/><stop offset="1" stop-color="#7ab4ba"/></linearGradient></defs>
<rect x="496.5" y="370" width="3.2" height="68" fill="url(#dcb)"/>
<text x="503.00" y="374.00" font-size="7.4" text-anchor="start" fill="#222" stroke="#222" stroke-width="0.15">2</text>
<text x="503.00" y="406.60" font-size="7.4" text-anchor="start" fill="#222" stroke="#222" stroke-width="0.15">0</text>
<text x="502.00" y="440.50" font-size="7.4" text-anchor="start" fill="#222" stroke="#222" stroke-width="0.15">&#8722;2</text>
<text x="218.00" y="458.20" font-size="7.0" text-anchor="start" fill="#333" stroke="#333" stroke-width="0.15">Fusion</text>
<text x="218.00" y="468.80" font-size="7.0" text-anchor="start" fill="#333" stroke="#333" stroke-width="0.15">Group</text>
<rect x="241.50" y="452.60" width="6.20" height="6.00" fill="#e2282d"/>
<text x="250.80" y="458.20" font-size="7.0" text-anchor="start" fill="#333" stroke="#333" stroke-width="0.15">MLL-AF4</text>
<rect x="241.50" y="463.20" width="6.20" height="6.00" fill="#e5c08a"/>
<text x="250.80" y="468.80" font-size="7.0" text-anchor="start" fill="#333" stroke="#333" stroke-width="0.15">1-Resistant</text>
<rect x="292.70" y="452.60" width="6.20" height="6.00" fill="#2e54a6"/>
<text x="302.00" y="458.20" font-size="7.0" text-anchor="start" fill="#333" stroke="#333" stroke-width="0.15">MLL-AF9</text>
<rect x="292.70" y="463.20" width="6.20" height="6.00" fill="#c8921a"/>
<text x="302.00" y="468.80" font-size="7.0" text-anchor="start" fill="#333" stroke="#333" stroke-width="0.15">2-Medium</text>
<rect x="339.80" y="452.60" width="6.20" height="6.00" fill="#2a2a2a"/>
<text x="349.10" y="458.20" font-size="7.0" text-anchor="start" fill="#333" stroke="#333" stroke-width="0.15">MLL-ENL</text>
<rect x="339.80" y="463.20" width="6.20" height="6.00" fill="#f07d16"/>
<text x="349.10" y="468.80" font-size="7.0" text-anchor="start" fill="#333" stroke="#333" stroke-width="0.15">3-Sensitive</text>
<rect x="384.00" y="452.60" width="6.20" height="6.00" fill="#a9cf8c"/>
<text x="393.30" y="458.20" font-size="7.0" text-anchor="start" fill="#333" stroke="#333" stroke-width="0.15">MLL-AF10</text>
<text x="259.60" y="496.00" font-size="10.8" text-anchor="start" font-weight="bold" fill="#111" stroke="#111" stroke-width="0.15">E</text>
<line x1="269.60" y1="501.40" x2="434.90" y2="501.40" stroke="#777" stroke-width="1.0"/>
<line x1="269.60" y1="513.90" x2="434.90" y2="513.90" stroke="#777" stroke-width="1.0"/>
<line x1="269.60" y1="526.70" x2="434.90" y2="526.70" stroke="#777" stroke-width="1.0"/>
<line x1="269.60" y1="539.50" x2="434.90" y2="539.50" stroke="#777" stroke-width="1.0"/>
<line x1="269.60" y1="552.50" x2="434.90" y2="552.50" stroke="#777" stroke-width="1.0"/>
<text x="345.40" y="510.00" font-size="7.5" text-anchor="middle" fill="#222" stroke="#222" stroke-width="0.15">Group1</text>
<text x="381.50" y="510.00" font-size="7.5" text-anchor="middle" fill="#222" stroke="#222" stroke-width="0.15">Group 2</text>
<text x="418.00" y="510.00" font-size="7.5" text-anchor="middle" fill="#222" stroke="#222" stroke-width="0.15">Group 3</text>
<text x="300.30" y="522.60" font-size="7.5" text-anchor="middle" fill="#222" stroke="#222" stroke-width="0.15">MLL-AF4</text>
<text x="345.40" y="522.60" font-size="7.5" text-anchor="middle" fill="#222" stroke="#222" stroke-width="0.15">16</text>
<text x="381.60" y="522.60" font-size="7.5" text-anchor="middle" fill="#222" stroke="#222" stroke-width="0.15">4</text>
<text x="417.80" y="522.60" font-size="7.5" text-anchor="middle" fill="#222" stroke="#222" stroke-width="0.15">4</text>
<text x="300.80" y="535.60" font-size="7.5" text-anchor="middle" fill="#222" stroke="#222" stroke-width="0.15">Other MLL-fusion</text>
<text x="345.40" y="535.60" font-size="7.5" text-anchor="middle" fill="#222" stroke="#222" stroke-width="0.15">0</text>
<text x="381.60" y="535.60" font-size="7.5" text-anchor="middle" fill="#222" stroke="#222" stroke-width="0.15">4</text>
<text x="417.80" y="535.60" font-size="7.5" text-anchor="middle" fill="#222" stroke="#222" stroke-width="0.15">13</text>
<text x="300.70" y="548.40" font-size="7.5" text-anchor="middle" fill="#222" stroke="#222" stroke-width="0.15">Chi-square test</text>
<text x="359.30" y="549.70" font-size="7.75" text-anchor="start" fill="#222" stroke="#222" stroke-width="0.15"><tspan font-style="italic">P</tspan> = 4.2&#215;10<tspan font-size="5" dy="-3">&#8722;5</tspan></text>
<rect x="0.6" y="0.6" width="518.8" height="599.8" fill="none" stroke="#555" stroke-width="1.2"/>
</svg>
</body></html>
